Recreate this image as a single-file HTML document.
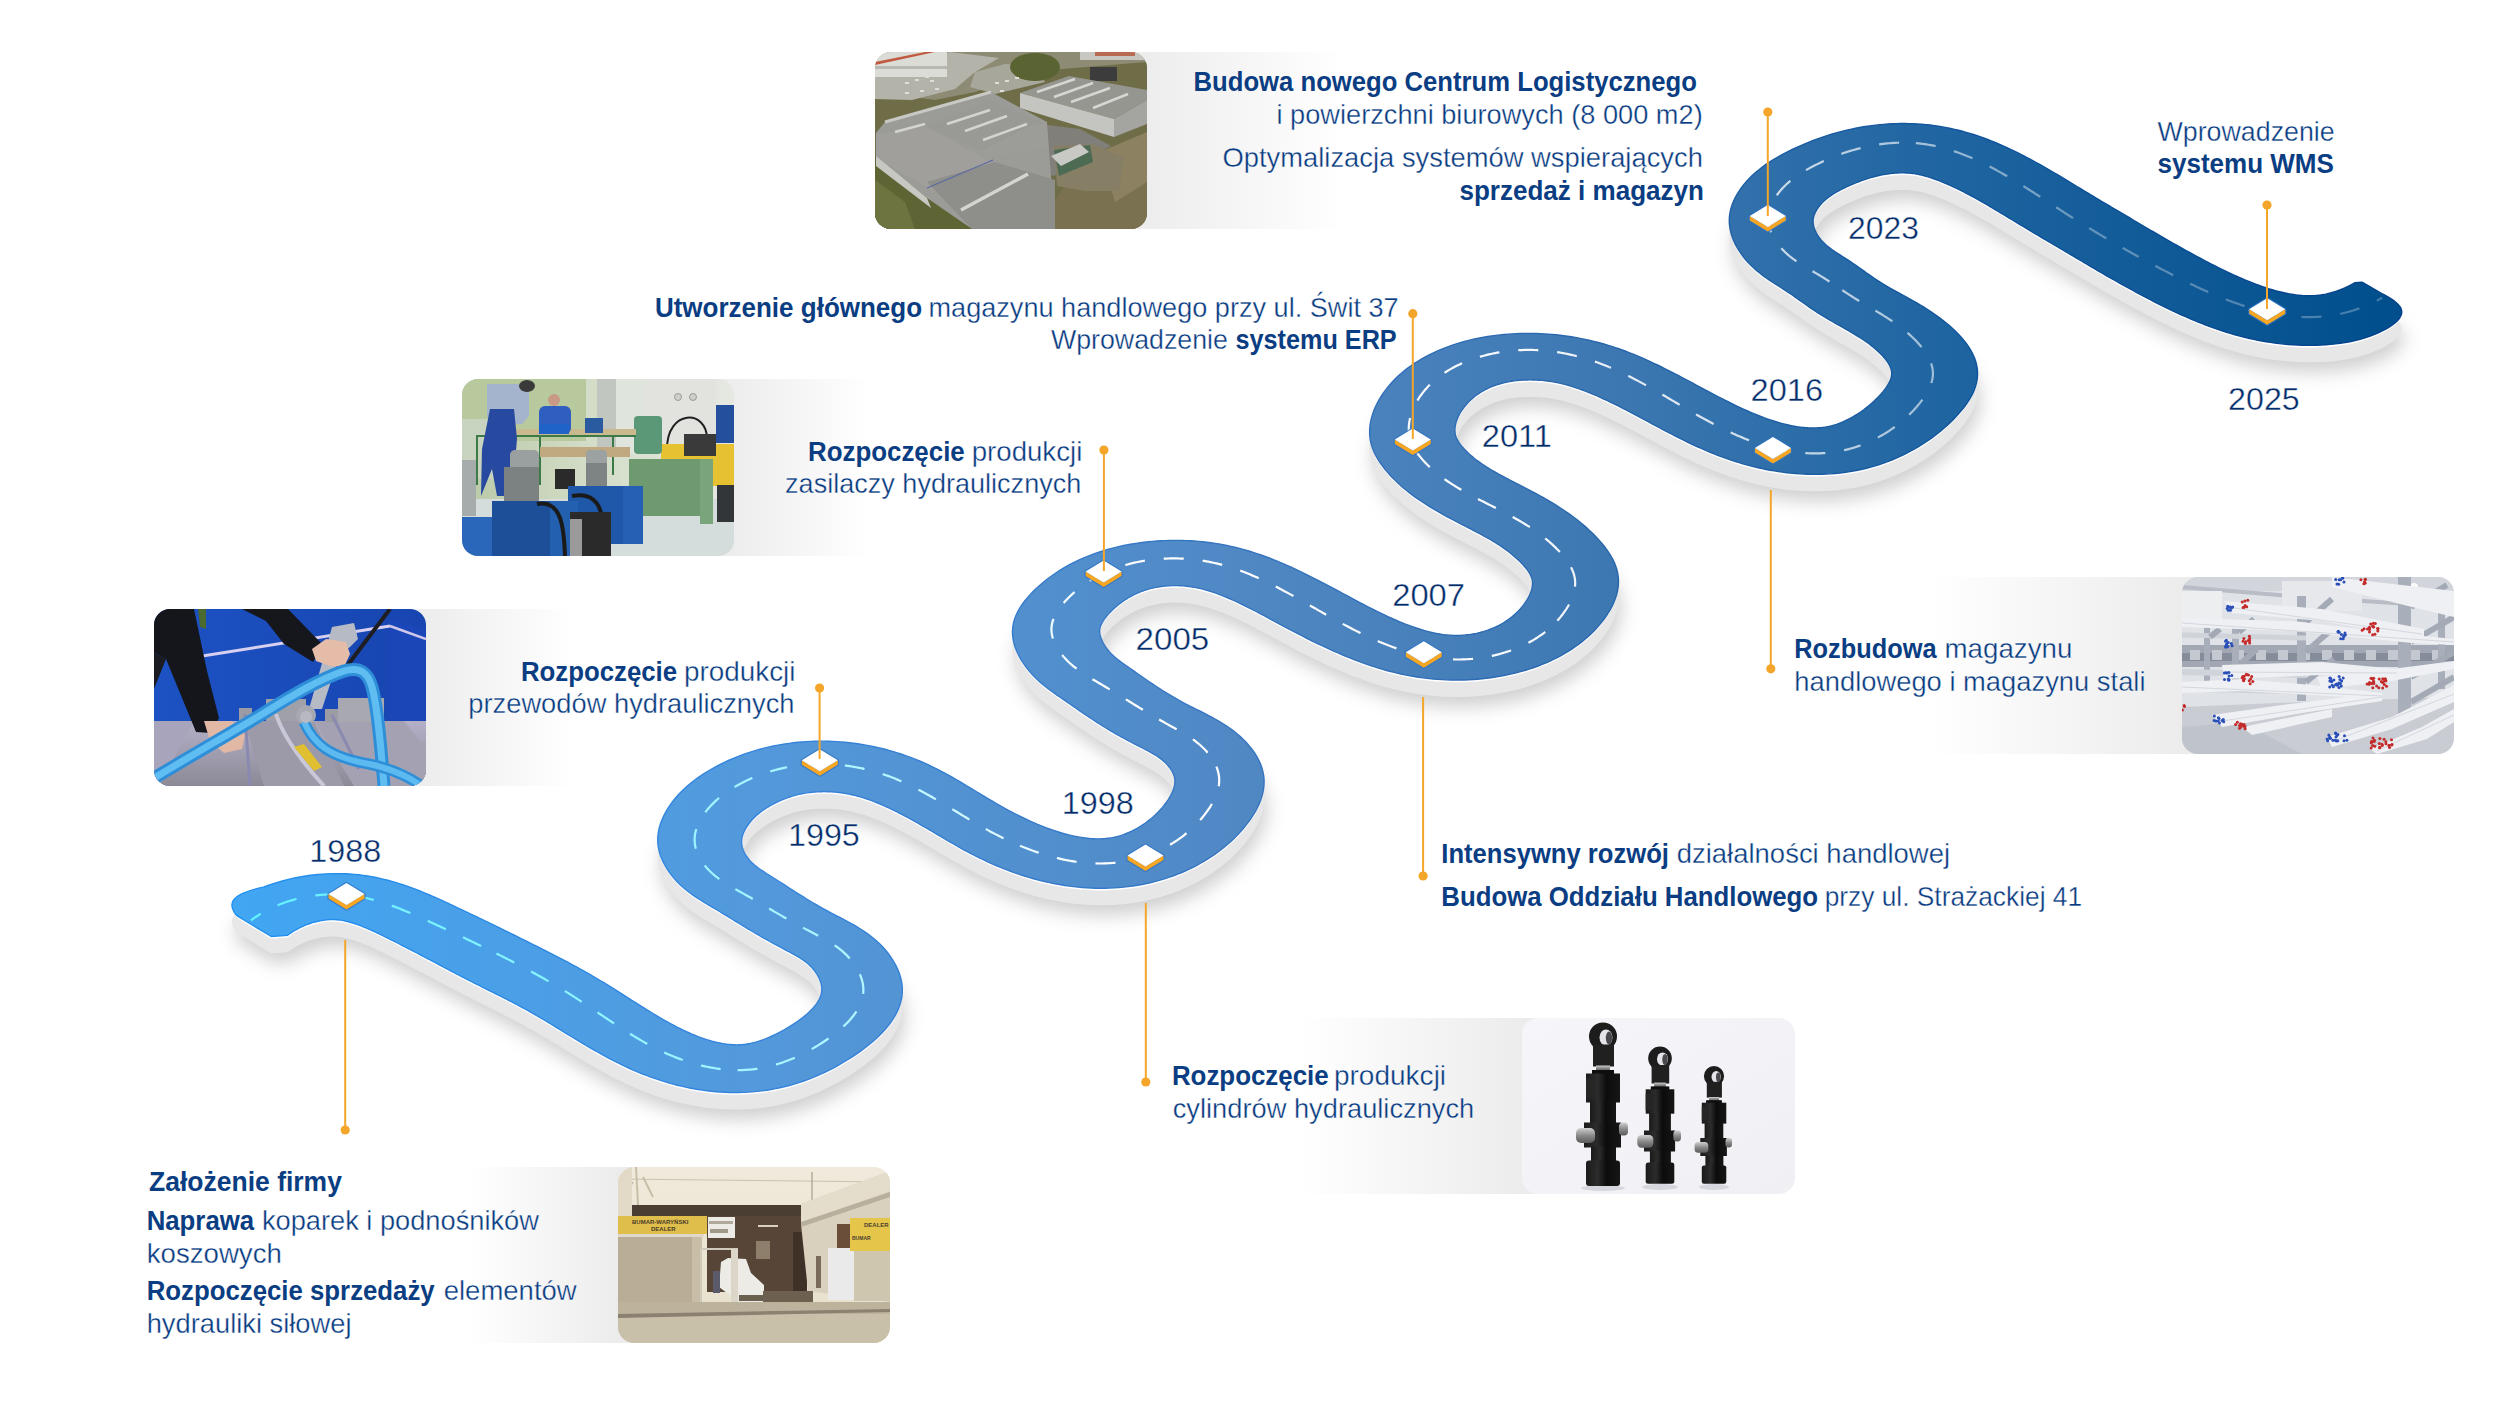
<!DOCTYPE html>
<html><head><meta charset="utf-8"><style>
html,body{margin:0;padding:0;background:#fff;}
body{width:2500px;height:1424px;overflow:hidden;position:relative;font-family:"Liberation Sans",sans-serif;}
svg{position:absolute;left:0;top:0;}
</style></head><body>
<svg width="2500" height="1424" viewBox="0 0 2500 1424" font-family="Liberation Sans, sans-serif">
<defs>
<linearGradient id="rg" gradientUnits="userSpaceOnUse" x1="230" y1="0" x2="2400" y2="0">
<stop offset="0" stop-color="#41a6f3"/>
<stop offset="0.24" stop-color="#5399db"/>
<stop offset="0.467" stop-color="#5088c4"/>
<stop offset="0.633" stop-color="#3e78b2"/>
<stop offset="0.8" stop-color="#1d64a0"/>
<stop offset="1" stop-color="#004e8c"/>
</linearGradient>
<linearGradient id="dg" gradientUnits="userSpaceOnUse" x1="230" y1="0" x2="2400" y2="0">
<stop offset="0" stop-color="#5ff2ff"/>
<stop offset="0.3" stop-color="#b5f6ff"/>
<stop offset="0.4" stop-color="#ffffff"/>
<stop offset="0.6" stop-color="#ffffff" stop-opacity="0.95"/>
<stop offset="0.75" stop-color="#ffffff" stop-opacity="0.68"/>
<stop offset="0.86" stop-color="#ffffff" stop-opacity="0.33"/>
<stop offset="1" stop-color="#ffffff" stop-opacity="0.25"/>
</linearGradient>
<linearGradient id="eg" gradientUnits="userSpaceOnUse" x1="230" y1="0" x2="2400" y2="0">
<stop offset="0" stop-color="#1f8ff0"/>
<stop offset="0.24" stop-color="#3584dc"/>
<stop offset="0.467" stop-color="#3574c0"/>
<stop offset="0.633" stop-color="#2866ac"/>
<stop offset="0.8" stop-color="#0f549c"/>
<stop offset="1" stop-color="#00408a"/>
</linearGradient>
<filter id="sh" x="-10%" y="-10%" width="120%" height="130%"><feGaussianBlur stdDeviation="9"/></filter>

<linearGradient id="cgA" gradientUnits="userSpaceOnUse" x1="1147" y1="0" x2="1345" y2="0"><stop offset="0" stop-color="#ededed"/><stop offset="1" stop-color="#ffffff"/></linearGradient>
<clipPath id="cpA"><rect x="875" y="52" width="272" height="177" rx="16" ry="16"/></clipPath>
<linearGradient id="cgB" gradientUnits="userSpaceOnUse" x1="734" y1="0" x2="870" y2="0"><stop offset="0" stop-color="#ededed"/><stop offset="1" stop-color="#ffffff"/></linearGradient>
<clipPath id="cpB"><rect x="462" y="379" width="272" height="177" rx="16" ry="16"/></clipPath>
<linearGradient id="cgC" gradientUnits="userSpaceOnUse" x1="426" y1="0" x2="575" y2="0"><stop offset="0" stop-color="#ededed"/><stop offset="1" stop-color="#ffffff"/></linearGradient>
<clipPath id="cpC"><rect x="154" y="609" width="272" height="177" rx="16" ry="16"/></clipPath>
<linearGradient id="cgD" gradientUnits="userSpaceOnUse" x1="470" y1="0" x2="618" y2="0"><stop offset="0" stop-color="#ffffff"/><stop offset="1" stop-color="#ececec"/></linearGradient>
<clipPath id="cpD"><rect x="618" y="1167" width="272" height="176" rx="16" ry="16"/></clipPath>
<linearGradient id="cgE" gradientUnits="userSpaceOnUse" x1="1300" y1="0" x2="1522" y2="0"><stop offset="0" stop-color="#ffffff"/><stop offset="1" stop-color="#ececec"/></linearGradient>
<clipPath id="cpE"><rect x="1522" y="1018" width="273" height="176" rx="16" ry="16"/></clipPath>
<linearGradient id="cgF" gradientUnits="userSpaceOnUse" x1="1930" y1="0" x2="2182" y2="0"><stop offset="0" stop-color="#ffffff"/><stop offset="1" stop-color="#ececec"/></linearGradient>
<clipPath id="cpF"><rect x="2182" y="577" width="272" height="177" rx="16" ry="16"/></clipPath>

<linearGradient id="pAsky" x1="0" y1="0" x2="0" y2="1"><stop offset="0" stop-color="#9c9a8e"/><stop offset="1" stop-color="#6e6c50"/></linearGradient>
<linearGradient id="pBbg" x1="0" y1="0" x2="1" y2="0"><stop offset="0" stop-color="#b9c9a6"/><stop offset="0.45" stop-color="#d2dcc6"/><stop offset="1" stop-color="#e6e8e2"/></linearGradient>
<linearGradient id="pChose" x1="0" y1="0" x2="0" y2="1"><stop offset="0" stop-color="#6cc4f4"/><stop offset="1" stop-color="#2a90d8"/></linearGradient>
<linearGradient id="pCbg" x1="0" y1="0" x2="1" y2="0"><stop offset="0" stop-color="#1d52c4"/><stop offset="1" stop-color="#1745b0"/></linearGradient>
<linearGradient id="pCfl" x1="0" y1="0" x2="0" y2="1"><stop offset="0" stop-color="#b4b0c8"/><stop offset="1" stop-color="#8c8a96"/></linearGradient>
<linearGradient id="pDsky" x1="0" y1="0" x2="0" y2="1"><stop offset="0" stop-color="#efeadb"/><stop offset="1" stop-color="#e6dfca"/></linearGradient>
<linearGradient id="pEbg" x1="0" y1="0" x2="1" y2="1"><stop offset="0" stop-color="#f6f6fa"/><stop offset="1" stop-color="#efeff4"/></linearGradient>
<linearGradient id="pEcyl" x1="0" y1="0" x2="1" y2="0"><stop offset="0" stop-color="#1a1a1a"/><stop offset="0.35" stop-color="#2c2c2c"/><stop offset="0.6" stop-color="#0c0c0c"/><stop offset="1" stop-color="#161616"/></linearGradient>
<linearGradient id="pEpin" x1="0" y1="0" x2="0" y2="1"><stop offset="0" stop-color="#d0d0d0"/><stop offset="0.5" stop-color="#8a8a8a"/><stop offset="1" stop-color="#5a5a5a"/></linearGradient>
<linearGradient id="pFbg" x1="0" y1="0" x2="0" y2="1"><stop offset="0" stop-color="#e2e4e8"/><stop offset="0.45" stop-color="#cdd1d8"/><stop offset="0.55" stop-color="#b4b9c3"/><stop offset="1" stop-color="#d0d3d9"/></linearGradient>

</defs>
<rect x="1011" y="52" width="334" height="177" fill="url(#cgA)"/>
<rect x="598" y="379" width="272" height="177" fill="url(#cgB)"/>
<rect x="290" y="609" width="285" height="177" fill="url(#cgC)"/>
<rect x="470" y="1167" width="284" height="176" fill="url(#cgD)"/>
<rect x="1300" y="1018" width="358" height="176" fill="url(#cgE)"/>
<rect x="1930" y="577" width="388" height="177" fill="url(#cgF)"/>
<g filter="url(#sh)" opacity="0.6"><path transform="translate(3,27.0)" d="M271.3,936.5 L237.6,916.2 C235,914.6 231.9,908.9 231.9,904.9 C231.9,894.9 249.8,890 263.32,887.17 L263.32,887.17 L267.18,885.73 L271.09,884.37 L275.07,883.09 L279.11,881.87 L283.20,880.74 L287.34,879.67 L291.54,878.69 L295.79,877.78 L300.08,876.96 L304.42,876.21 L308.81,875.55 L313.24,874.98 L317.70,874.50 L322.20,874.12 L326.73,873.84 L331.29,873.66 L335.86,873.59 L340.44,873.62 L345.02,873.76 L349.60,874.00 L354.17,874.36 L358.68,874.81 L363.11,875.36 L367.45,876.00 L371.71,876.72 L375.89,877.51 L379.97,878.38 L383.97,879.31 L387.89,880.30 L391.72,881.34 L395.47,882.43 L399.15,883.56 L402.76,884.73 L406.30,885.93 L409.78,887.16 L413.21,888.42 L416.58,889.70 L419.90,891.00 L423.16,892.32 L426.39,893.65 L429.57,895.00 L432.70,896.35 L435.80,897.72 L438.86,899.09 L441.89,900.46 L444.88,901.84 L447.84,903.21 L450.76,904.58 L453.66,905.95 L456.53,907.30 L459.37,908.65 L462.20,909.99 L465.03,911.34 L467.86,912.68 L470.70,914.03 L473.54,915.39 L476.38,916.74 L479.22,918.10 L482.06,919.46 L484.90,920.83 L487.75,922.20 L490.60,923.58 L493.44,924.96 L496.29,926.34 L499.14,927.73 L501.99,929.13 L504.84,930.53 L507.70,931.93 L510.56,933.34 L513.43,934.75 L516.30,936.17 L519.18,937.59 L522.06,939.01 L524.95,940.44 L527.83,941.88 L530.73,943.32 L533.62,944.77 L536.53,946.22 L539.43,947.68 L542.34,949.15 L545.25,950.62 L548.16,952.10 L551.08,953.59 L554.00,955.09 L556.93,956.60 L559.86,958.11 L562.78,959.64 L565.71,961.18 L568.63,962.73 L571.55,964.30 L574.46,965.88 L577.37,967.47 L580.28,969.08 L583.18,970.70 L586.08,972.33 L588.98,973.98 L591.87,975.65 L594.76,977.33 L597.64,979.03 L600.52,980.74 L603.39,982.47 L606.25,984.21 L609.08,985.95 L611.89,987.69 L614.68,989.44 L617.46,991.18 L620.21,992.92 L622.95,994.65 L625.67,996.38 L628.38,998.10 L631.07,999.82 L633.75,1001.52 L636.42,1003.21 L639.07,1004.89 L641.71,1006.55 L644.33,1008.19 L646.95,1009.81 L649.55,1011.42 L652.14,1013.00 L654.72,1014.56 L657.29,1016.09 L659.84,1017.60 L662.38,1019.08 L664.91,1020.53 L667.43,1021.94 L669.93,1023.33 L672.42,1024.67 L674.90,1025.99 L677.36,1027.26 L679.80,1028.49 L682.23,1029.69 L684.63,1030.84 L687.02,1031.94 L689.38,1033.01 L691.72,1034.02 L694.04,1034.99 L696.33,1035.91 L698.60,1036.78 L700.84,1037.61 L703.06,1038.39 L705.27,1039.13 L707.45,1039.82 L709.60,1040.46 L711.71,1041.06 L713.80,1041.62 L715.84,1042.12 L717.84,1042.58 L719.79,1042.99 L721.69,1043.36 L723.54,1043.68 L725.34,1043.95 L727.07,1044.19 L728.75,1044.38 L730.36,1044.53 L731.91,1044.65 L733.39,1044.74 L734.81,1044.80 L736.18,1044.83 L737.49,1044.83 L738.74,1044.81 L739.96,1044.77 L741.14,1044.70 L742.29,1044.62 L743.45,1044.51 L744.66,1044.37 L745.92,1044.20 L747.24,1044.00 L748.62,1043.76 L750.07,1043.48 L751.59,1043.15 L753.18,1042.78 L754.84,1042.35 L756.57,1041.87 L758.37,1041.33 L760.24,1040.73 L762.17,1040.07 L764.16,1039.34 L766.20,1038.54 L768.30,1037.68 L770.45,1036.75 L772.65,1035.75 L774.88,1034.68 L777.16,1033.55 L779.48,1032.35 L781.83,1031.08 L784.22,1029.74 L786.63,1028.34 L789.06,1026.88 L791.46,1025.38 L793.83,1023.86 L796.15,1022.30 L798.41,1020.72 L800.62,1019.12 L802.75,1017.49 L804.79,1015.85 L806.76,1014.20 L808.62,1012.53 L810.39,1010.85 L812.04,1009.16 L813.59,1007.48 L815.01,1005.79 L816.30,1004.10 L817.46,1002.41 L818.50,1000.72 L819.40,999.04 L820.16,997.37 L820.78,995.70 L821.27,994.02 L821.62,992.35 L821.82,990.68 L821.88,988.99 L821.79,987.28 L821.53,985.48 L821.11,983.60 L820.51,981.66 L819.75,979.68 L818.84,977.69 L817.79,975.70 L816.61,973.75 L815.31,971.84 L813.93,970.01 L812.49,968.27 L811.00,966.64 L809.51,965.15 L807.98,963.77 L806.38,962.44 L804.71,961.15 L802.94,959.90 L801.07,958.65 L799.08,957.40 L796.96,956.14 L794.71,954.85 L792.32,953.54 L789.79,952.18 L787.11,950.76 L784.30,949.28 L781.37,947.74 L778.45,946.18 L775.55,944.62 L772.68,943.06 L769.84,941.50 L767.02,939.93 L764.23,938.35 L761.46,936.78 L758.70,935.19 L755.97,933.61 L753.25,932.01 L750.55,930.41 L747.86,928.81 L745.20,927.20 L742.56,925.60 L739.95,924.00 L737.36,922.41 L734.78,920.83 L732.22,919.25 L729.67,917.68 L727.13,916.12 L724.60,914.57 L722.07,913.03 L719.54,911.50 L717.00,909.98 L714.42,908.45 L711.68,906.84 L708.80,905.15 L705.81,903.36 L702.70,901.47 L699.52,899.47 L696.27,897.35 L693.00,895.10 L689.71,892.71 L686.45,890.19 L683.24,887.52 L680.12,884.69 L677.11,881.72 L674.26,878.62 L671.61,875.42 L669.15,872.12 L666.88,868.73 L664.83,865.25 L662.99,861.69 L661.40,858.04 L660.06,854.31 L659.00,850.50 L658.24,846.62 L657.80,842.67 L657.72,838.67 L658.00,834.73 L658.59,830.85 L659.47,827.05 L660.62,823.32 L662.01,819.67 L663.62,816.10 L665.43,812.61 L667.41,809.21 L669.55,805.90 L671.84,802.67 L674.27,799.54 L676.82,796.51 L679.50,793.57 L682.30,790.73 L685.20,787.97 L688.20,785.31 L691.29,782.75 L694.46,780.27 L697.71,777.89 L701.02,775.60 L704.38,773.40 L707.78,771.28 L711.23,769.26 L714.69,767.31 L718.19,765.45 L721.74,763.65 L725.34,761.91 L728.99,760.24 L732.70,758.63 L736.45,757.08 L740.26,755.61 L744.11,754.19 L748.01,752.85 L751.96,751.58 L755.96,750.37 L759.99,749.24 L764.07,748.17 L768.18,747.18 L772.33,746.26 L776.51,745.41 L780.73,744.63 L784.97,743.94 L789.24,743.32 L793.52,742.78 L797.83,742.32 L802.15,741.93 L806.47,741.62 L810.81,741.39 L815.14,741.24 L819.47,741.17 L823.79,741.17 L828.11,741.24 L832.41,741.39 L836.69,741.62 L840.96,741.91 L845.20,742.28 L849.41,742.72 L853.60,743.22 L857.75,743.80 L861.87,744.44 L865.96,745.14 L870.01,745.90 L874.03,746.73 L878.00,747.61 L881.94,748.54 L885.84,749.54 L889.70,750.58 L893.51,751.68 L897.29,752.83 L901.02,754.04 L904.71,755.29 L908.36,756.59 L911.97,757.94 L915.52,759.34 L919.02,760.77 L922.44,762.24 L925.80,763.73 L929.10,765.25 L932.34,766.79 L935.53,768.36 L938.67,769.95 L941.76,771.55 L944.80,773.17 L947.81,774.80 L950.77,776.45 L953.70,778.11 L956.60,779.77 L959.46,781.44 L962.29,783.12 L965.10,784.80 L967.89,786.48 L970.66,788.15 L973.42,789.82 L976.16,791.48 L978.89,793.14 L981.60,794.78 L984.31,796.41 L987.01,798.03 L989.70,799.63 L992.38,801.22 L995.05,802.79 L997.71,804.33 L1000.37,805.86 L1003.03,807.35 L1005.68,808.83 L1008.32,810.27 L1010.95,811.68 L1013.58,813.06 L1016.20,814.41 L1018.81,815.72 L1021.41,817.00 L1024.00,818.25 L1026.58,819.47 L1029.17,820.66 L1031.75,821.82 L1034.32,822.95 L1036.88,824.04 L1039.44,825.10 L1041.98,826.13 L1044.51,827.11 L1047.02,828.07 L1049.52,828.98 L1052.00,829.86 L1054.45,830.69 L1056.89,831.49 L1059.30,832.25 L1061.68,832.96 L1064.03,833.63 L1066.34,834.27 L1068.63,834.85 L1070.87,835.40 L1073.08,835.91 L1075.25,836.37 L1077.37,836.79 L1079.45,837.16 L1081.48,837.50 L1083.47,837.80 L1085.40,838.05 L1087.28,838.27 L1089.11,838.45 L1090.89,838.60 L1092.62,838.71 L1094.30,838.79 L1095.93,838.85 L1097.51,838.87 L1099.06,838.87 L1100.56,838.84 L1102.04,838.78 L1103.49,838.70 L1104.92,838.60 L1106.33,838.47 L1107.74,838.31 L1109.14,838.12 L1110.55,837.91 L1111.98,837.67 L1113.43,837.39 L1114.90,837.07 L1116.40,836.72 L1117.94,836.32 L1119.52,835.88 L1121.14,835.38 L1122.81,834.82 L1124.53,834.20 L1126.30,833.52 L1128.11,832.77 L1129.96,831.95 L1131.84,831.07 L1133.74,830.12 L1135.66,829.10 L1137.60,828.01 L1139.55,826.86 L1141.50,825.64 L1143.45,824.35 L1145.40,823.00 L1147.33,821.58 L1149.25,820.09 L1151.16,818.54 L1153.04,816.92 L1154.90,815.23 L1156.72,813.48 L1158.51,811.67 L1160.27,809.79 L1161.98,807.85 L1163.65,805.85 L1165.27,803.79 L1166.82,801.67 L1168.27,799.54 L1169.61,797.39 L1170.81,795.25 L1171.88,793.13 L1172.80,791.03 L1173.56,788.98 L1174.16,786.97 L1174.59,785.03 L1174.85,783.17 L1174.94,781.40 L1174.87,779.72 L1174.64,778.11 L1174.25,776.46 L1173.70,774.79 L1172.99,773.11 L1172.13,771.42 L1171.13,769.74 L1169.99,768.08 L1168.72,766.45 L1167.36,764.86 L1165.90,763.33 L1164.37,761.86 L1162.79,760.46 L1161.18,759.15 L1159.53,757.91 L1157.79,756.71 L1155.96,755.51 L1154.02,754.32 L1151.97,753.12 L1149.79,751.89 L1147.48,750.64 L1145.02,749.35 L1142.43,748.00 L1139.68,746.60 L1136.80,745.12 L1133.78,743.57 L1130.67,741.95 L1127.60,740.32 L1124.57,738.70 L1121.59,737.08 L1118.66,735.45 L1115.79,733.81 L1112.96,732.18 L1110.18,730.54 L1107.45,728.90 L1104.76,727.25 L1102.11,725.61 L1099.50,723.97 L1096.92,722.32 L1094.38,720.68 L1091.87,719.03 L1089.38,717.38 L1086.93,715.74 L1084.49,714.09 L1082.08,712.45 L1079.69,710.80 L1077.32,709.15 L1074.95,707.51 L1072.60,705.86 L1070.25,704.21 L1067.89,702.57 L1065.45,700.90 L1062.85,699.13 L1060.10,697.27 L1057.24,695.30 L1054.27,693.22 L1051.22,691.02 L1048.11,688.69 L1044.98,686.23 L1041.84,683.64 L1038.74,680.91 L1035.69,678.03 L1032.73,675.02 L1029.88,671.85 L1027.17,668.58 L1024.64,665.20 L1022.30,661.73 L1020.15,658.16 L1018.21,654.50 L1016.51,650.75 L1015.06,646.92 L1013.90,643.00 L1013.06,639.00 L1012.57,634.93 L1012.48,630.78 L1012.83,626.60 L1013.61,622.53 L1014.77,618.59 L1016.26,614.79 L1018.05,611.13 L1020.07,607.61 L1022.30,604.23 L1024.70,600.98 L1027.23,597.87 L1029.87,594.89 L1032.58,592.05 L1035.35,589.33 L1038.16,586.71 L1041.04,584.17 L1043.99,581.70 L1047.01,579.30 L1050.10,576.97 L1053.25,574.71 L1056.48,572.52 L1059.76,570.40 L1063.11,568.35 L1066.53,566.37 L1070.00,564.46 L1073.53,562.63 L1077.12,560.87 L1080.77,559.18 L1084.47,557.57 L1088.21,556.03 L1092.01,554.56 L1095.85,553.17 L1099.74,551.85 L1103.67,550.61 L1107.63,549.45 L1111.63,548.36 L1115.66,547.35 L1119.72,546.41 L1123.79,545.54 L1127.89,544.73 L1132.00,544.00 L1136.13,543.34 L1140.28,542.74 L1144.43,542.21 L1148.60,541.76 L1152.77,541.36 L1156.95,541.04 L1161.13,540.78 L1165.32,540.59 L1169.50,540.47 L1173.68,540.41 L1177.86,540.42 L1182.03,540.49 L1186.19,540.62 L1190.35,540.82 L1194.49,541.07 L1198.62,541.40 L1202.73,541.79 L1206.83,542.24 L1210.90,542.77 L1214.96,543.36 L1218.98,544.01 L1222.98,544.73 L1226.94,545.51 L1230.86,546.35 L1234.72,547.25 L1238.53,548.19 L1242.28,549.18 L1245.98,550.22 L1249.63,551.29 L1253.23,552.41 L1256.79,553.57 L1260.30,554.76 L1263.76,555.98 L1267.18,557.24 L1270.56,558.52 L1273.90,559.83 L1277.21,561.17 L1280.48,562.53 L1283.71,563.91 L1286.92,565.31 L1290.09,566.73 L1293.23,568.17 L1296.35,569.62 L1299.43,571.09 L1302.50,572.57 L1305.54,574.05 L1308.55,575.55 L1311.55,577.06 L1314.52,578.57 L1317.48,580.08 L1320.41,581.61 L1323.33,583.13 L1326.23,584.65 L1329.10,586.18 L1331.97,587.70 L1334.81,589.22 L1337.64,590.73 L1340.45,592.24 L1343.25,593.75 L1346.04,595.24 L1348.81,596.72 L1351.57,598.20 L1354.32,599.66 L1357.06,601.11 L1359.79,602.55 L1362.50,603.97 L1365.21,605.38 L1367.90,606.76 L1370.58,608.13 L1373.25,609.48 L1375.90,610.81 L1378.55,612.12 L1381.18,613.40 L1383.80,614.65 L1386.40,615.87 L1388.99,617.07 L1391.57,618.24 L1394.12,619.37 L1396.67,620.48 L1399.19,621.55 L1401.69,622.58 L1404.17,623.58 L1406.63,624.54 L1409.07,625.47 L1411.48,626.35 L1413.87,627.20 L1416.22,628.00 L1418.55,628.76 L1420.85,629.48 L1423.11,630.16 L1425.34,630.80 L1427.54,631.39 L1429.70,631.94 L1431.82,632.45 L1433.89,632.91 L1435.93,633.34 L1437.93,633.72 L1439.88,634.05 L1441.80,634.35 L1443.67,634.61 L1445.50,634.83 L1447.29,635.02 L1449.05,635.17 L1450.77,635.29 L1452.46,635.38 L1454.13,635.44 L1455.79,635.47 L1457.42,635.47 L1459.06,635.44 L1460.69,635.38 L1462.36,635.29 L1464.05,635.17 L1465.76,635.01 L1467.49,634.82 L1469.25,634.60 L1471.02,634.34 L1472.82,634.04 L1474.63,633.71 L1476.46,633.34 L1478.31,632.92 L1480.16,632.47 L1482.03,631.97 L1483.91,631.43 L1485.79,630.83 L1487.68,630.20 L1489.57,629.51 L1491.46,628.77 L1493.35,627.98 L1495.24,627.14 L1497.12,626.25 L1498.99,625.30 L1500.86,624.30 L1502.71,623.24 L1504.55,622.12 L1506.37,620.94 L1508.17,619.70 L1509.95,618.40 L1511.71,617.03 L1513.43,615.60 L1515.13,614.10 L1516.79,612.54 L1518.42,610.91 L1520.00,609.20 L1521.55,607.43 L1523.04,605.58 L1524.48,603.66 L1525.86,601.67 L1527.15,599.65 L1528.32,597.61 L1529.38,595.56 L1530.30,593.52 L1531.07,591.50 L1531.69,589.52 L1532.16,587.60 L1532.45,585.73 L1532.59,583.95 L1532.57,582.26 L1532.39,580.68 L1532.06,579.15 L1531.56,577.56 L1530.89,575.91 L1530.03,574.20 L1529.01,572.45 L1527.81,570.65 L1526.45,568.82 L1524.94,566.97 L1523.30,565.10 L1521.54,563.23 L1519.68,561.36 L1517.73,559.49 L1515.72,557.66 L1513.69,555.89 L1511.65,554.18 L1509.60,552.53 L1507.53,550.93 L1505.45,549.38 L1503.34,547.87 L1501.21,546.40 L1499.06,544.96 L1496.88,543.56 L1494.67,542.18 L1492.43,540.82 L1490.16,539.48 L1487.85,538.15 L1485.50,536.84 L1483.10,535.53 L1480.68,534.23 L1478.21,532.92 L1475.70,531.60 L1473.16,530.27 L1470.57,528.94 L1467.93,527.58 L1465.26,526.21 L1462.54,524.81 L1459.78,523.39 L1456.98,521.94 L1454.14,520.45 L1451.25,518.94 L1448.33,517.38 L1445.38,515.78 L1442.40,514.14 L1439.40,512.45 L1436.38,510.72 L1433.35,508.93 L1430.31,507.09 L1427.27,505.20 L1424.23,503.25 L1421.19,501.25 L1418.17,499.18 L1415.16,497.06 L1412.17,494.87 L1409.22,492.62 L1406.30,490.30 L1403.42,487.92 L1400.60,485.46 L1397.82,482.94 L1395.11,480.34 L1392.47,477.68 L1389.90,474.93 L1387.40,472.12 L1384.98,469.22 L1382.61,466.19 L1380.32,463.01 L1378.14,459.68 L1376.12,456.21 L1374.30,452.60 L1372.72,448.84 L1371.42,444.95 L1370.48,441.00 L1369.90,437.08 L1369.64,433.20 L1369.69,429.35 L1370.01,425.55 L1370.60,421.79 L1371.44,418.08 L1372.50,414.42 L1373.77,410.82 L1375.24,407.27 L1376.89,403.79 L1378.72,400.37 L1380.71,397.03 L1382.85,393.76 L1385.14,390.56 L1387.55,387.44 L1390.10,384.41 L1392.76,381.47 L1395.54,378.62 L1398.43,375.85 L1401.43,373.19 L1404.52,370.61 L1407.71,368.12 L1411.00,365.73 L1414.36,363.43 L1417.81,361.22 L1421.34,359.10 L1424.94,357.07 L1428.60,355.14 L1432.32,353.29 L1436.10,351.54 L1439.92,349.87 L1443.79,348.30 L1447.69,346.81 L1451.63,345.41 L1455.60,344.10 L1459.59,342.87 L1463.59,341.72 L1467.61,340.66 L1471.64,339.68 L1475.67,338.77 L1479.70,337.95 L1483.74,337.20 L1487.80,336.52 L1491.86,335.92 L1495.91,335.37 L1499.97,334.90 L1504.03,334.49 L1508.08,334.15 L1512.13,333.87 L1516.17,333.65 L1520.20,333.50 L1524.22,333.41 L1528.23,333.38 L1532.23,333.41 L1536.22,333.50 L1540.19,333.65 L1544.15,333.86 L1548.09,334.12 L1552.01,334.43 L1555.91,334.80 L1559.80,335.22 L1563.67,335.69 L1567.52,336.21 L1571.35,336.79 L1575.16,337.42 L1578.94,338.10 L1582.69,338.83 L1586.42,339.62 L1590.13,340.46 L1593.80,341.34 L1597.45,342.27 L1601.08,343.24 L1604.67,344.26 L1608.24,345.33 L1611.78,346.43 L1615.30,347.58 L1618.78,348.77 L1622.24,350.00 L1625.65,351.26 L1629.03,352.55 L1632.37,353.86 L1635.68,355.21 L1638.95,356.58 L1642.19,357.98 L1645.40,359.39 L1648.59,360.83 L1651.74,362.28 L1654.87,363.76 L1657.97,365.25 L1661.06,366.75 L1664.11,368.26 L1667.15,369.79 L1670.17,371.32 L1673.16,372.86 L1676.14,374.41 L1679.11,375.96 L1682.06,377.52 L1684.99,379.07 L1687.92,380.63 L1690.82,382.18 L1693.72,383.73 L1696.60,385.27 L1699.47,386.81 L1702.33,388.34 L1705.18,389.86 L1708.02,391.37 L1710.84,392.87 L1713.66,394.35 L1716.46,395.82 L1719.26,397.27 L1722.04,398.70 L1724.81,400.11 L1727.57,401.50 L1730.32,402.87 L1733.06,404.21 L1735.78,405.53 L1738.48,406.82 L1741.17,408.08 L1743.85,409.31 L1746.50,410.51 L1749.14,411.68 L1751.76,412.81 L1754.36,413.90 L1756.94,414.96 L1759.50,415.98 L1762.04,416.96 L1764.55,417.90 L1767.03,418.80 L1769.50,419.66 L1771.95,420.47 L1774.37,421.25 L1776.76,421.98 L1779.11,422.67 L1781.44,423.32 L1783.73,423.92 L1785.97,424.48 L1788.18,424.99 L1790.34,425.46 L1792.45,425.88 L1794.51,426.26 L1796.51,426.59 L1798.46,426.88 L1800.35,427.12 L1802.17,427.34 L1803.93,427.52 L1805.63,427.66 L1807.26,427.78 L1808.84,427.87 L1810.35,427.93 L1811.81,427.96 L1813.22,427.97 L1814.59,427.96 L1815.92,427.93 L1817.22,427.88 L1818.50,427.81 L1819.77,427.72 L1821.03,427.61 L1822.30,427.48 L1823.59,427.32 L1824.90,427.13 L1826.24,426.92 L1827.63,426.67 L1829.07,426.38 L1830.55,426.04 L1832.11,425.64 L1833.74,425.18 L1835.46,424.65 L1837.24,424.05 L1839.08,423.38 L1840.98,422.63 L1842.93,421.82 L1844.92,420.93 L1846.95,419.97 L1849.00,418.94 L1851.08,417.83 L1853.17,416.66 L1855.28,415.41 L1857.39,414.10 L1859.50,412.72 L1861.61,411.27 L1863.71,409.76 L1865.79,408.18 L1867.86,406.54 L1869.91,404.83 L1871.93,403.07 L1873.93,401.24 L1875.89,399.36 L1877.81,397.41 L1879.69,395.41 L1881.51,393.38 L1883.23,391.36 L1884.83,389.34 L1886.29,387.35 L1887.59,385.38 L1888.73,383.46 L1889.69,381.58 L1890.47,379.77 L1891.07,378.02 L1891.49,376.36 L1891.72,374.78 L1891.78,373.28 L1891.67,371.83 L1891.39,370.29 L1890.92,368.67 L1890.27,366.98 L1889.44,365.24 L1888.43,363.44 L1887.24,361.62 L1885.89,359.77 L1884.40,357.92 L1882.77,356.07 L1881.02,354.23 L1879.19,352.42 L1877.29,350.64 L1875.35,348.93 L1873.37,347.26 L1871.34,345.64 L1869.27,344.06 L1867.16,342.51 L1865.00,340.99 L1862.78,339.49 L1860.52,338.01 L1858.21,336.54 L1855.84,335.08 L1853.42,333.62 L1850.94,332.16 L1848.41,330.70 L1845.82,329.23 L1843.19,327.74 L1840.51,326.23 L1837.80,324.69 L1835.04,323.12 L1832.24,321.51 L1829.42,319.87 L1826.56,318.18 L1823.68,316.45 L1820.77,314.66 L1817.86,312.82 L1815.01,310.96 L1812.25,309.13 L1809.59,307.31 L1807.01,305.53 L1804.51,303.77 L1802.08,302.05 L1799.72,300.37 L1797.41,298.72 L1795.15,297.11 L1792.94,295.55 L1790.77,294.04 L1788.62,292.57 L1786.44,291.13 L1784.09,289.61 L1781.54,287.99 L1778.82,286.28 L1775.93,284.45 L1772.92,282.50 L1769.78,280.42 L1766.57,278.21 L1763.30,275.84 L1760.01,273.32 L1756.74,270.65 L1753.52,267.80 L1750.40,264.80 L1747.44,261.67 L1744.66,258.45 L1742.07,255.14 L1739.68,251.73 L1737.49,248.23 L1735.52,244.64 L1733.78,240.97 L1732.29,237.22 L1731.07,233.39 L1730.15,229.48 L1729.54,225.51 L1729.27,221.48 L1729.38,217.39 L1729.86,213.35 L1730.70,209.40 L1731.85,205.54 L1733.28,201.78 L1734.98,198.11 L1736.92,194.55 L1739.07,191.09 L1741.41,187.73 L1743.93,184.47 L1746.62,181.33 L1749.45,178.30 L1752.42,175.38 L1755.51,172.59 L1758.70,169.92 L1761.97,167.37 L1765.31,164.94 L1768.71,162.63 L1772.14,160.42 L1775.60,158.32 L1779.06,156.33 L1782.52,154.43 L1785.96,152.63 L1789.36,150.91 L1792.77,149.25 L1796.21,147.63 L1799.68,146.06 L1803.18,144.53 L1806.71,143.04 L1810.27,141.60 L1813.87,140.21 L1817.49,138.86 L1821.15,137.57 L1824.84,136.32 L1828.57,135.12 L1832.32,133.98 L1836.11,132.88 L1839.93,131.84 L1843.78,130.86 L1847.66,129.93 L1851.58,129.06 L1855.52,128.25 L1859.50,127.50 L1863.50,126.81 L1867.54,126.19 L1871.59,125.63 L1875.68,125.13 L1879.78,124.70 L1883.91,124.33 L1888.06,124.03 L1892.22,123.80 L1896.40,123.64 L1900.60,123.55 L1904.81,123.54 L1909.03,123.60 L1913.25,123.73 L1917.47,123.95 L1921.70,124.24 L1925.92,124.62 L1930.13,125.07 L1934.33,125.60 L1938.50,126.21 L1942.61,126.89 L1946.67,127.64 L1950.67,128.45 L1954.62,129.33 L1958.50,130.26 L1962.34,131.25 L1966.11,132.30 L1969.84,133.39 L1973.51,134.54 L1977.14,135.72 L1980.71,136.95 L1984.25,138.23 L1987.74,139.53 L1991.19,140.88 L1994.60,142.26 L1997.98,143.67 L2001.32,145.11 L2004.63,146.58 L2007.90,148.08 L2011.15,149.60 L2014.37,151.14 L2017.56,152.71 L2020.72,154.30 L2023.86,155.91 L2026.98,157.53 L2030.07,159.18 L2033.14,160.83 L2036.19,162.51 L2039.22,164.19 L2042.23,165.88 L2045.22,167.58 L2048.19,169.29 L2051.14,171.01 L2054.08,172.73 L2056.99,174.45 L2059.89,176.18 L2062.78,177.91 L2065.65,179.63 L2068.50,181.35 L2071.33,183.07 L2074.15,184.78 L2076.95,186.49 L2079.74,188.18 L2082.51,189.87 L2085.26,191.54 L2088.00,193.20 L2090.71,194.84 L2093.42,196.47 L2096.10,198.08 L2098.78,199.67 L2101.45,201.26 L2104.12,202.83 L2106.78,204.40 L2109.42,205.96 L2112.06,207.51 L2114.68,209.05 L2117.30,210.59 L2119.90,212.13 L2122.50,213.66 L2125.08,215.18 L2127.66,216.70 L2130.24,218.22 L2132.80,219.73 L2135.36,221.24 L2137.91,222.75 L2140.46,224.25 L2143.00,225.75 L2145.54,227.24 L2148.07,228.74 L2150.61,230.23 L2153.13,231.72 L2155.66,233.21 L2158.19,234.69 L2160.73,236.17 L2163.27,237.65 L2165.82,239.12 L2168.38,240.58 L2170.95,242.05 L2173.52,243.51 L2176.10,244.96 L2178.69,246.42 L2181.29,247.87 L2183.90,249.32 L2186.52,250.76 L2189.15,252.21 L2191.79,253.65 L2194.44,255.09 L2197.09,256.52 L2199.74,257.94 L2202.38,259.35 L2205.03,260.75 L2207.67,262.14 L2210.31,263.51 L2212.96,264.87 L2215.59,266.21 L2218.23,267.53 L2220.86,268.84 L2223.49,270.13 L2226.11,271.40 L2228.72,272.64 L2231.33,273.87 L2233.93,275.06 L2236.53,276.24 L2239.11,277.39 L2241.69,278.51 L2244.25,279.61 L2246.80,280.67 L2249.34,281.71 L2251.87,282.71 L2254.37,283.68 L2256.87,284.62 L2259.34,285.53 L2261.80,286.40 L2264.23,287.24 L2266.65,288.04 L2269.04,288.80 L2271.40,289.52 L2273.74,290.21 L2276.06,290.85 L2278.35,291.46 L2280.60,292.02 L2282.83,292.55 L2285.02,293.03 L2287.18,293.47 L2289.31,293.88 L2291.39,294.24 L2293.45,294.56 L2295.46,294.84 L2297.44,295.09 L2299.38,295.29 L2301.29,295.46 L2303.16,295.59 L2305.00,295.68 L2306.81,295.74 L2308.59,295.76 L2310.35,295.75 L2312.09,295.70 L2313.81,295.62 L2315.52,295.51 L2317.22,295.36 L2318.92,295.18 L2320.63,294.97 L2322.35,294.71 L2324.08,294.41 L2325.83,294.08 L2327.61,293.69 L2329.41,293.26 L2331.25,292.78 L2333.13,292.24 L2335.04,291.65 L2337.00,291.00 L2338.99,290.28 L2341.03,289.49 L2343.12,288.64 L2345.24,287.71 L2347.41,286.70 L2349.62,285.61 L2351.87,284.44 L2354.15,283.19 L2354.92,282.75 L2362.2,282.3 L2381.8,293.5 C2388.7,297.5 2401.8,303.8 2401.8,311.8 C2401.8,323.8 2375,336.9 2349.82,341.85 L2349.82,341.85 L2345.04,342.63 L2340.24,343.31 L2335.43,343.90 L2330.61,344.38 L2325.80,344.76 L2320.99,345.04 L2316.20,345.23 L2311.43,345.33 L2306.70,345.33 L2302.00,345.24 L2297.34,345.07 L2292.73,344.82 L2288.16,344.48 L2283.65,344.08 L2279.20,343.59 L2274.80,343.04 L2270.45,342.43 L2266.17,341.75 L2261.95,341.01 L2257.78,340.22 L2253.68,339.37 L2249.63,338.48 L2245.63,337.54 L2241.70,336.55 L2237.81,335.52 L2233.98,334.46 L2230.20,333.35 L2226.47,332.21 L2222.79,331.04 L2219.15,329.83 L2215.56,328.60 L2212.01,327.34 L2208.49,326.05 L2205.02,324.74 L2201.58,323.41 L2198.18,322.05 L2194.81,320.68 L2191.48,319.29 L2188.18,317.87 L2184.91,316.45 L2181.67,315.00 L2178.46,313.55 L2175.28,312.08 L2172.12,310.59 L2169.00,309.10 L2165.90,307.60 L2162.82,306.08 L2159.77,304.57 L2156.75,303.04 L2153.75,301.51 L2150.78,299.97 L2147.83,298.44 L2144.90,296.90 L2141.99,295.35 L2139.11,293.81 L2136.26,292.27 L2133.42,290.74 L2130.61,289.20 L2127.81,287.67 L2125.02,286.13 L2122.24,284.59 L2119.48,283.04 L2116.71,281.50 L2113.96,279.95 L2111.22,278.39 L2108.48,276.83 L2105.75,275.27 L2103.03,273.70 L2100.32,272.13 L2097.61,270.55 L2094.91,268.97 L2092.21,267.39 L2089.52,265.79 L2086.82,264.20 L2084.12,262.61 L2081.42,261.01 L2078.71,259.41 L2076.00,257.81 L2073.28,256.20 L2070.56,254.60 L2067.83,252.98 L2065.10,251.37 L2062.36,249.75 L2059.61,248.13 L2056.85,246.50 L2054.09,244.87 L2051.32,243.23 L2048.54,241.59 L2045.75,239.95 L2042.95,238.29 L2040.14,236.63 L2037.32,234.97 L2034.49,233.30 L2031.66,231.61 L2028.82,229.92 L2025.99,228.22 L2023.17,226.52 L2020.35,224.82 L2017.55,223.12 L2014.76,221.43 L2011.97,219.74 L2009.20,218.05 L2006.43,216.38 L2003.68,214.71 L2000.93,213.06 L1998.19,211.42 L1995.46,209.79 L1992.75,208.18 L1990.04,206.59 L1987.34,205.01 L1984.66,203.46 L1981.99,201.93 L1979.33,200.42 L1976.68,198.94 L1974.05,197.48 L1971.44,196.06 L1968.84,194.66 L1966.26,193.30 L1963.70,191.97 L1961.16,190.68 L1958.64,189.42 L1956.15,188.20 L1953.68,187.03 L1951.24,185.89 L1948.83,184.80 L1946.45,183.76 L1944.11,182.76 L1941.81,181.80 L1939.54,180.90 L1937.32,180.05 L1935.14,179.25 L1933.02,178.50 L1930.95,177.80 L1928.93,177.16 L1926.98,176.57 L1925.09,176.03 L1923.27,175.55 L1921.52,175.12 L1919.85,174.74 L1918.25,174.41 L1916.74,174.13 L1915.31,173.89 L1913.96,173.68 L1912.70,173.52 L1911.52,173.38 L1910.36,173.26 L1909.21,173.16 L1908.07,173.07 L1906.91,173.00 L1905.75,172.95 L1904.57,172.91 L1903.37,172.88 L1902.14,172.87 L1900.87,172.88 L1899.56,172.91 L1898.21,172.95 L1896.81,173.02 L1895.37,173.10 L1893.87,173.22 L1892.31,173.35 L1890.70,173.52 L1889.04,173.72 L1887.32,173.96 L1885.55,174.23 L1883.73,174.55 L1881.86,174.90 L1879.95,175.30 L1877.99,175.74 L1875.99,176.23 L1873.94,176.75 L1871.86,177.33 L1869.74,177.95 L1867.58,178.61 L1865.39,179.33 L1863.18,180.08 L1860.93,180.89 L1858.66,181.74 L1856.37,182.63 L1854.05,183.58 L1851.72,184.56 L1849.37,185.60 L1847.01,186.67 L1844.71,187.76 L1842.50,188.84 L1840.38,189.92 L1838.33,191.01 L1836.36,192.12 L1834.46,193.24 L1832.63,194.38 L1830.85,195.57 L1829.13,196.79 L1827.46,198.07 L1825.83,199.41 L1824.25,200.82 L1822.71,202.32 L1821.24,203.89 L1819.85,205.51 L1818.56,207.18 L1817.38,208.87 L1816.33,210.57 L1815.42,212.27 L1814.65,213.95 L1814.03,215.61 L1813.56,217.23 L1813.25,218.80 L1813.09,220.40 L1813.08,222.07 L1813.23,223.82 L1813.55,225.62 L1814.03,227.45 L1814.66,229.30 L1815.44,231.16 L1816.36,233.00 L1817.39,234.81 L1818.54,236.57 L1819.77,238.27 L1821.07,239.88 L1822.41,241.40 L1823.81,242.85 L1825.31,244.27 L1826.93,245.68 L1828.67,247.09 L1830.56,248.51 L1832.58,249.97 L1834.76,251.46 L1837.09,253.01 L1839.57,254.61 L1842.18,256.29 L1844.93,258.05 L1847.79,259.90 L1850.71,261.83 L1853.54,263.75 L1856.27,265.66 L1858.93,267.53 L1861.52,269.38 L1864.06,271.19 L1866.55,272.96 L1869.00,274.69 L1871.42,276.38 L1873.80,278.02 L1876.17,279.61 L1878.51,281.14 L1880.84,282.62 L1883.23,284.09 L1885.70,285.56 L1888.26,287.05 L1890.89,288.55 L1893.60,290.07 L1896.39,291.61 L1899.25,293.17 L1902.17,294.77 L1905.16,296.40 L1908.21,298.06 L1911.30,299.78 L1914.43,301.55 L1917.59,303.37 L1920.77,305.26 L1923.97,307.21 L1927.18,309.23 L1930.39,311.32 L1933.60,313.49 L1936.80,315.73 L1939.97,318.07 L1943.12,320.48 L1946.23,322.99 L1949.30,325.58 L1952.31,328.27 L1955.27,331.05 L1958.17,333.96 L1961.00,336.99 L1963.70,340.15 L1966.26,343.43 L1968.65,346.85 L1970.83,350.40 L1972.78,354.07 L1974.46,357.88 L1975.82,361.82 L1976.83,365.88 L1977.43,370.06 L1977.58,374.32 L1977.28,378.51 L1976.57,382.58 L1975.49,386.54 L1974.10,390.39 L1972.43,394.10 L1970.52,397.70 L1968.41,401.18 L1966.12,404.53 L1963.68,407.77 L1961.14,410.89 L1958.52,413.90 L1955.85,416.80 L1953.11,419.64 L1950.29,422.41 L1947.39,425.13 L1944.42,427.79 L1941.38,430.39 L1938.26,432.93 L1935.08,435.41 L1931.83,437.82 L1928.51,440.17 L1925.12,442.46 L1921.67,444.68 L1918.16,446.84 L1914.58,448.93 L1910.93,450.95 L1907.22,452.90 L1903.45,454.78 L1899.61,456.59 L1895.71,458.32 L1891.74,459.98 L1887.71,461.57 L1883.60,463.07 L1879.43,464.49 L1875.19,465.82 L1870.88,467.07 L1866.50,468.22 L1862.08,469.27 L1857.62,470.21 L1853.14,471.06 L1848.64,471.81 L1844.12,472.46 L1839.60,473.02 L1835.08,473.47 L1830.55,473.84 L1826.04,474.10 L1821.54,474.28 L1817.07,474.36 L1812.62,474.36 L1808.20,474.27 L1803.81,474.10 L1799.45,473.86 L1795.14,473.54 L1790.86,473.14 L1786.63,472.68 L1782.44,472.16 L1778.29,471.57 L1774.18,470.93 L1770.11,470.23 L1766.08,469.47 L1762.11,468.65 L1758.17,467.78 L1754.28,466.85 L1750.43,465.88 L1746.63,464.86 L1742.86,463.80 L1739.14,462.69 L1735.46,461.54 L1731.81,460.36 L1728.20,459.13 L1724.63,457.87 L1721.10,456.58 L1717.60,455.26 L1714.14,453.90 L1710.71,452.51 L1707.32,451.11 L1703.98,449.68 L1700.67,448.22 L1697.39,446.75 L1694.15,445.27 L1690.94,443.76 L1687.77,442.25 L1684.62,440.72 L1681.50,439.18 L1678.40,437.62 L1675.33,436.07 L1672.29,434.50 L1669.27,432.93 L1666.27,431.36 L1663.29,429.78 L1660.33,428.21 L1657.39,426.64 L1654.46,425.07 L1651.55,423.51 L1648.65,421.96 L1645.77,420.41 L1642.91,418.87 L1640.06,417.35 L1637.22,415.84 L1634.40,414.34 L1631.59,412.86 L1628.80,411.39 L1626.02,409.94 L1623.25,408.52 L1620.50,407.12 L1617.77,405.74 L1615.04,404.38 L1612.34,403.06 L1609.65,401.76 L1606.98,400.49 L1604.33,399.25 L1601.71,398.04 L1599.10,396.87 L1596.52,395.73 L1593.97,394.63 L1591.43,393.57 L1588.93,392.54 L1586.46,391.56 L1584.01,390.61 L1581.60,389.72 L1579.23,388.86 L1576.89,388.05 L1574.59,387.29 L1572.33,386.57 L1570.09,385.89 L1567.88,385.25 L1565.69,384.65 L1563.53,384.09 L1561.40,383.57 L1559.30,383.09 L1557.23,382.65 L1555.20,382.24 L1553.20,381.87 L1551.24,381.54 L1549.32,381.25 L1547.44,380.99 L1545.60,380.77 L1543.79,380.58 L1542.03,380.42 L1540.32,380.29 L1538.64,380.18 L1537.00,380.09 L1535.41,380.02 L1533.84,379.96 L1532.31,379.93 L1530.80,379.91 L1529.32,379.91 L1527.85,379.93 L1526.40,379.96 L1524.95,380.01 L1523.51,380.07 L1522.07,380.16 L1520.61,380.25 L1519.15,380.37 L1517.66,380.50 L1516.15,380.66 L1514.60,380.84 L1513.03,381.04 L1511.41,381.28 L1509.76,381.55 L1508.06,381.86 L1506.35,382.21 L1504.63,382.59 L1502.90,383.02 L1501.16,383.48 L1499.41,383.98 L1497.66,384.53 L1495.90,385.12 L1494.14,385.75 L1492.38,386.43 L1490.62,387.16 L1488.86,387.94 L1487.10,388.77 L1485.34,389.66 L1483.59,390.60 L1481.84,391.61 L1480.11,392.68 L1478.38,393.82 L1476.66,395.03 L1474.97,396.31 L1473.29,397.67 L1471.63,399.10 L1470.00,400.62 L1468.40,402.22 L1466.83,403.92 L1465.30,405.70 L1463.83,407.56 L1462.42,409.49 L1461.10,411.48 L1459.88,413.51 L1458.78,415.56 L1457.80,417.64 L1456.95,419.72 L1456.25,421.79 L1455.68,423.84 L1455.27,425.86 L1455.01,427.82 L1454.90,429.73 L1454.93,431.56 L1455.11,433.31 L1455.43,434.96 L1455.87,436.51 L1456.48,438.07 L1457.28,439.70 L1458.25,441.37 L1459.39,443.09 L1460.69,444.85 L1462.15,446.64 L1463.75,448.44 L1465.44,450.24 L1467.16,451.97 L1468.93,453.66 L1470.73,455.29 L1472.58,456.88 L1474.46,458.43 L1476.39,459.94 L1478.36,461.42 L1480.37,462.87 L1482.42,464.29 L1484.53,465.69 L1486.68,467.07 L1488.87,468.44 L1491.12,469.79 L1493.41,471.14 L1495.76,472.48 L1498.15,473.81 L1500.59,475.15 L1503.07,476.48 L1505.60,477.83 L1508.18,479.18 L1510.80,480.54 L1513.47,481.91 L1516.17,483.30 L1518.92,484.71 L1521.71,486.14 L1524.53,487.59 L1527.37,489.06 L1530.25,490.56 L1533.16,492.10 L1536.09,493.66 L1539.04,495.26 L1542.01,496.91 L1545.00,498.59 L1548.01,500.32 L1551.02,502.10 L1554.05,503.92 L1557.07,505.80 L1560.10,507.73 L1563.13,509.72 L1566.15,511.76 L1569.15,513.86 L1572.14,516.03 L1575.11,518.26 L1578.06,520.56 L1580.97,522.92 L1583.85,525.35 L1586.69,527.85 L1589.50,530.42 L1592.26,533.06 L1594.99,535.79 L1597.70,538.64 L1600.39,541.62 L1603.01,544.72 L1605.54,547.95 L1607.95,551.31 L1610.20,554.79 L1612.27,558.41 L1614.11,562.16 L1615.68,566.03 L1616.95,570.04 L1617.86,574.16 L1618.38,578.38 L1618.48,582.53 L1618.19,586.60 L1617.57,590.58 L1616.65,594.47 L1615.46,598.27 L1614.02,601.97 L1612.38,605.58 L1610.55,609.08 L1608.55,612.49 L1606.41,615.79 L1604.15,618.99 L1601.77,622.08 L1599.28,625.10 L1596.68,628.04 L1593.97,630.91 L1591.15,633.70 L1588.22,636.42 L1585.20,639.05 L1582.08,641.61 L1578.86,644.09 L1575.55,646.49 L1572.15,648.81 L1568.66,651.05 L1565.10,653.21 L1561.45,655.28 L1557.73,657.28 L1553.93,659.19 L1550.07,661.02 L1546.14,662.76 L1542.15,664.42 L1538.10,665.99 L1534.00,667.48 L1529.85,668.89 L1525.65,670.21 L1521.41,671.44 L1517.12,672.59 L1512.81,673.65 L1508.46,674.62 L1504.08,675.51 L1499.69,676.32 L1495.28,677.06 L1490.85,677.71 L1486.42,678.28 L1481.97,678.78 L1477.51,679.19 L1473.05,679.53 L1468.58,679.78 L1464.12,679.96 L1459.65,680.05 L1455.21,680.07 L1450.80,680.00 L1446.42,679.86 L1442.08,679.65 L1437.77,679.37 L1433.49,679.01 L1429.26,678.60 L1425.07,678.12 L1420.92,677.58 L1416.82,676.98 L1412.76,676.31 L1408.75,675.59 L1404.79,674.82 L1400.88,673.99 L1397.01,673.11 L1393.19,672.18 L1389.41,671.21 L1385.68,670.20 L1382.00,669.15 L1378.35,668.06 L1374.75,666.94 L1371.18,665.78 L1367.66,664.59 L1364.17,663.37 L1360.71,662.12 L1357.29,660.84 L1353.90,659.54 L1350.54,658.22 L1347.21,656.87 L1343.91,655.51 L1340.64,654.12 L1337.39,652.72 L1334.17,651.30 L1330.97,649.87 L1327.80,648.42 L1324.65,646.96 L1321.52,645.49 L1318.41,644.01 L1315.32,642.52 L1312.26,641.02 L1309.22,639.51 L1306.20,638.00 L1303.20,636.48 L1300.23,634.96 L1297.28,633.44 L1294.35,631.91 L1291.44,630.38 L1288.55,628.85 L1285.68,627.33 L1282.84,625.81 L1280.02,624.30 L1277.22,622.79 L1274.45,621.30 L1271.69,619.82 L1268.97,618.35 L1266.26,616.89 L1263.57,615.46 L1260.91,614.04 L1258.27,612.63 L1255.65,611.25 L1253.05,609.90 L1250.46,608.57 L1247.90,607.27 L1245.35,606.00 L1242.82,604.75 L1240.31,603.54 L1237.82,602.36 L1235.36,601.22 L1232.91,600.11 L1230.49,599.04 L1228.10,598.01 L1225.73,597.01 L1223.38,596.06 L1221.07,595.15 L1218.79,594.28 L1216.53,593.45 L1214.31,592.67 L1212.13,591.93 L1209.98,591.24 L1207.86,590.59 L1205.79,589.98 L1203.76,589.43 L1201.76,588.91 L1199.81,588.44 L1197.90,588.01 L1196.03,587.63 L1194.19,587.28 L1192.36,586.97 L1190.54,586.69 L1188.73,586.45 L1186.93,586.23 L1185.14,586.05 L1183.36,585.90 L1181.59,585.78 L1179.84,585.69 L1178.10,585.63 L1176.37,585.59 L1174.66,585.58 L1172.95,585.61 L1171.26,585.65 L1169.57,585.73 L1167.90,585.83 L1166.23,585.96 L1164.56,586.12 L1162.90,586.31 L1161.25,586.52 L1159.59,586.77 L1157.94,587.04 L1156.28,587.34 L1154.62,587.68 L1152.95,588.04 L1151.28,588.44 L1149.61,588.88 L1147.92,589.35 L1146.23,589.86 L1144.53,590.41 L1142.82,591.01 L1141.10,591.65 L1139.37,592.33 L1137.64,593.07 L1135.90,593.85 L1134.15,594.68 L1132.39,595.57 L1130.63,596.51 L1128.87,597.50 L1127.10,598.56 L1125.34,599.68 L1123.57,600.85 L1121.81,602.09 L1120.05,603.40 L1118.30,604.77 L1116.56,606.20 L1114.83,607.71 L1113.12,609.28 L1111.42,610.93 L1109.76,612.64 L1108.19,614.35 L1106.74,616.04 L1105.42,617.70 L1104.25,619.32 L1103.21,620.90 L1102.30,622.42 L1101.53,623.87 L1100.90,625.26 L1100.40,626.57 L1100.03,627.82 L1099.77,629.00 L1099.62,630.19 L1099.60,631.54 L1099.72,633.03 L1099.99,634.64 L1100.42,636.34 L1101.01,638.10 L1101.73,639.91 L1102.59,641.73 L1103.57,643.55 L1104.64,645.33 L1105.78,647.07 L1106.96,648.73 L1108.20,650.32 L1109.52,651.88 L1110.95,653.42 L1112.48,654.93 L1114.13,656.45 L1115.90,657.98 L1117.80,659.52 L1119.83,661.09 L1121.99,662.69 L1124.27,664.34 L1126.68,666.03 L1129.21,667.78 L1131.82,669.59 L1134.42,671.41 L1136.99,673.21 L1139.53,675.00 L1142.06,676.77 L1144.58,678.52 L1147.09,680.25 L1149.59,681.97 L1152.09,683.66 L1154.59,685.33 L1157.10,686.98 L1159.60,688.61 L1162.12,690.22 L1164.64,691.81 L1167.17,693.38 L1169.71,694.93 L1172.27,696.45 L1174.85,697.96 L1177.45,699.44 L1180.07,700.90 L1182.71,702.34 L1185.37,703.76 L1188.06,705.16 L1190.77,706.54 L1193.50,707.90 L1196.26,709.27 L1199.16,710.71 L1202.21,712.22 L1205.39,713.82 L1208.68,715.51 L1212.08,717.32 L1215.57,719.24 L1219.11,721.28 L1222.70,723.47 L1226.31,725.79 L1229.90,728.27 L1233.46,730.91 L1236.95,733.70 L1240.31,736.63 L1243.51,739.67 L1246.56,742.82 L1249.44,746.08 L1252.13,749.46 L1254.60,752.95 L1256.84,756.56 L1258.83,760.27 L1260.54,764.09 L1261.95,768.01 L1263.02,772.03 L1263.74,776.15 L1264.08,780.33 L1264.03,784.46 L1263.62,788.52 L1262.90,792.49 L1261.90,796.38 L1260.64,800.19 L1259.15,803.90 L1257.47,807.52 L1255.60,811.05 L1253.59,814.48 L1251.43,817.82 L1249.17,821.06 L1246.80,824.19 L1244.34,827.26 L1241.77,830.27 L1239.12,833.21 L1236.37,836.09 L1233.53,838.90 L1230.60,841.64 L1227.59,844.32 L1224.50,846.93 L1221.32,849.47 L1218.06,851.95 L1214.72,854.35 L1211.30,856.68 L1207.80,858.95 L1204.23,861.14 L1200.58,863.26 L1196.86,865.31 L1193.07,867.28 L1189.20,869.17 L1185.25,870.99 L1181.24,872.73 L1177.14,874.39 L1172.98,875.97 L1168.74,877.46 L1164.43,878.87 L1160.06,880.18 L1155.64,881.40 L1151.16,882.52 L1146.64,883.54 L1142.08,884.47 L1137.49,885.29 L1132.86,886.01 L1128.22,886.63 L1123.57,887.15 L1118.91,887.56 L1114.25,887.88 L1109.60,888.10 L1104.97,888.23 L1100.37,888.26 L1095.79,888.20 L1091.24,888.05 L1086.74,887.81 L1082.28,887.50 L1077.86,887.10 L1073.49,886.63 L1069.17,886.09 L1064.91,885.48 L1060.69,884.80 L1056.53,884.06 L1052.42,883.26 L1048.37,882.40 L1044.36,881.49 L1040.41,880.53 L1036.51,879.52 L1032.65,878.47 L1028.85,877.37 L1025.09,876.22 L1021.38,875.04 L1017.71,873.81 L1014.08,872.55 L1010.50,871.25 L1006.95,869.92 L1003.45,868.55 L999.98,867.16 L996.56,865.73 L993.17,864.27 L989.81,862.78 L986.49,861.27 L983.20,859.73 L979.95,858.17 L976.73,856.58 L973.54,854.97 L970.38,853.33 L967.26,851.68 L964.16,850.01 L961.11,848.32 L958.09,846.62 L955.12,844.92 L952.17,843.22 L949.24,841.52 L946.35,839.83 L943.47,838.14 L940.62,836.46 L937.78,834.79 L934.97,833.12 L932.17,831.47 L929.38,829.83 L926.61,828.21 L923.86,826.61 L921.11,825.03 L918.38,823.47 L915.66,821.93 L912.96,820.41 L910.26,818.93 L907.57,817.47 L904.90,816.05 L902.24,814.66 L899.60,813.30 L896.98,811.97 L894.39,810.68 L891.82,809.42 L889.27,808.20 L886.76,807.03 L884.27,805.89 L881.81,804.80 L879.38,803.75 L876.98,802.75 L874.62,801.80 L872.30,800.90 L870.02,800.05 L867.78,799.25 L865.58,798.51 L863.42,797.82 L861.28,797.16 L859.15,796.55 L857.04,795.97 L854.95,795.44 L852.88,794.95 L850.84,794.49 L848.82,794.07 L846.82,793.69 L844.85,793.35 L842.90,793.04 L840.98,792.77 L839.09,792.53 L837.23,792.33 L835.40,792.16 L833.59,792.01 L831.82,791.89 L830.07,791.80 L828.34,791.73 L826.64,791.68 L824.96,791.66 L823.30,791.66 L821.66,791.68 L820.03,791.72 L818.41,791.78 L816.80,791.87 L815.19,791.98 L813.59,792.11 L811.98,792.26 L810.37,792.43 L808.75,792.63 L807.11,792.86 L805.46,793.11 L803.80,793.39 L802.11,793.70 L800.41,794.05 L798.69,794.43 L796.94,794.85 L795.17,795.31 L793.38,795.82 L791.57,796.37 L789.73,796.96 L787.86,797.60 L785.97,798.29 L784.06,799.03 L782.12,799.82 L780.16,800.67 L778.18,801.57 L776.18,802.53 L774.17,803.55 L772.18,804.60 L770.23,805.68 L768.31,806.81 L766.43,807.98 L764.59,809.19 L762.78,810.44 L761.01,811.75 L759.27,813.10 L757.59,814.52 L755.94,815.99 L754.34,817.52 L752.78,819.12 L751.28,820.79 L749.85,822.52 L748.51,824.28 L747.25,826.07 L746.10,827.88 L745.06,829.68 L744.15,831.48 L743.37,833.24 L742.72,834.97 L742.21,836.65 L741.84,838.28 L741.61,839.84 L741.51,841.37 L741.55,842.97 L741.74,844.62 L742.06,846.32 L742.53,848.04 L743.13,849.78 L743.86,851.51 L744.70,853.22 L745.64,854.89 L746.67,856.51 L747.76,858.05 L748.90,859.51 L750.12,860.91 L751.44,862.28 L752.88,863.64 L754.44,865.01 L756.14,866.38 L757.98,867.78 L759.97,869.20 L762.10,870.66 L764.39,872.16 L766.81,873.72 L769.38,875.33 L772.07,877.01 L774.85,878.75 L777.60,880.49 L780.31,882.22 L782.97,883.94 L785.61,885.63 L788.21,887.31 L790.79,888.97 L793.34,890.61 L795.88,892.23 L798.39,893.83 L800.89,895.41 L803.38,896.96 L805.85,898.49 L808.33,900.00 L810.82,901.50 L813.32,902.98 L815.83,904.45 L818.35,905.91 L820.90,907.35 L823.46,908.78 L826.04,910.21 L828.64,911.62 L831.27,913.02 L833.92,914.42 L836.59,915.81 L839.33,917.23 L842.23,918.73 L845.28,920.32 L848.45,922.01 L851.74,923.81 L855.12,925.73 L858.56,927.78 L862.05,929.97 L865.54,932.30 L869.02,934.79 L872.45,937.44 L875.80,940.24 L879.05,943.21 L882.12,946.30 L884.99,949.48 L887.68,952.74 L890.17,956.09 L892.47,959.51 L894.57,963.01 L896.45,966.58 L898.10,970.22 L899.51,973.91 L900.66,977.66 L901.53,981.47 L902.10,985.34 L902.33,989.20 L902.24,993.02 L901.83,996.79 L901.12,1000.49 L900.14,1004.12 L898.89,1007.67 L897.40,1011.15 L895.68,1014.55 L893.76,1017.87 L891.65,1021.11 L889.36,1024.26 L886.92,1027.33 L884.34,1030.32 L881.63,1033.22 L878.82,1036.05 L875.90,1038.79 L872.90,1041.45 L869.83,1044.04 L866.69,1046.55 L863.51,1048.98 L860.29,1051.33 L857.04,1053.61 L853.78,1055.82 L850.51,1057.95 L847.24,1060.01 L843.93,1062.02 L840.59,1063.98 L837.20,1065.90 L833.78,1067.76 L830.30,1069.58 L826.78,1071.34 L823.21,1073.05 L819.59,1074.70 L815.91,1076.30 L812.17,1077.84 L808.37,1079.31 L804.50,1080.73 L800.57,1082.08 L796.57,1083.36 L792.50,1084.57 L788.36,1085.72 L784.16,1086.78 L779.88,1087.77 L775.52,1088.68 L771.10,1089.50 L766.62,1090.23 L762.06,1090.87 L757.45,1091.41 L752.78,1091.84 L748.10,1092.17 L743.41,1092.39 L738.75,1092.51 L734.10,1092.53 L729.48,1092.46 L724.89,1092.29 L720.33,1092.03 L715.82,1091.68 L711.34,1091.25 L706.91,1090.75 L702.53,1090.16 L698.19,1089.51 L693.90,1088.78 L689.66,1087.98 L685.47,1087.11 L681.34,1086.19 L677.25,1085.20 L673.21,1084.16 L669.22,1083.06 L665.28,1081.91 L661.39,1080.70 L657.54,1079.45 L653.75,1078.15 L650.00,1076.81 L646.29,1075.42 L642.64,1074.00 L639.05,1072.54 L635.52,1071.06 L632.04,1069.54 L628.60,1068.00 L625.22,1066.43 L621.88,1064.84 L618.59,1063.23 L615.34,1061.60 L612.13,1059.95 L608.96,1058.29 L605.82,1056.61 L602.71,1054.92 L599.64,1053.22 L596.60,1051.51 L593.59,1049.80 L590.61,1048.08 L587.65,1046.35 L584.72,1044.62 L581.81,1042.89 L578.93,1041.16 L576.07,1039.44 L573.23,1037.71 L570.41,1035.99 L567.61,1034.28 L564.82,1032.58 L562.06,1030.88 L559.31,1029.20 L556.59,1027.53 L553.87,1025.88 L551.18,1024.24 L548.50,1022.62 L545.84,1021.02 L543.19,1019.44 L540.56,1017.88 L537.94,1016.35 L535.34,1014.85 L532.75,1013.36 L530.14,1011.89 L527.53,1010.43 L524.91,1008.98 L522.29,1007.54 L519.66,1006.12 L517.02,1004.70 L514.38,1003.30 L511.73,1001.91 L509.07,1000.52 L506.41,999.15 L503.74,997.79 L501.06,996.43 L498.37,995.09 L495.68,993.75 L492.99,992.42 L490.31,991.08 L487.63,989.75 L484.95,988.41 L482.28,987.08 L479.62,985.74 L476.96,984.40 L474.31,983.06 L471.66,981.72 L469.01,980.37 L466.37,979.02 L463.73,977.67 L461.10,976.31 L458.47,974.95 L455.84,973.58 L453.22,972.21 L450.60,970.83 L447.99,969.45 L445.38,968.06 L442.77,966.67 L440.16,965.28 L437.54,963.88 L434.91,962.49 L432.27,961.10 L429.63,959.71 L426.97,958.31 L424.31,956.92 L421.65,955.53 L418.97,954.14 L416.29,952.75 L413.60,951.35 L410.90,949.96 L408.20,948.56 L405.49,947.16 L402.78,945.76 L400.09,944.37 L397.43,943.00 L394.80,941.66 L392.21,940.33 L389.65,939.04 L387.13,937.77 L384.63,936.53 L382.17,935.32 L379.75,934.14 L377.35,933.01 L375.00,931.91 L372.68,930.85 L370.40,929.83 L368.16,928.85 L365.96,927.92 L363.80,927.04 L361.69,926.20 L359.63,925.41 L357.63,924.67 L355.67,923.98 L353.77,923.34 L351.92,922.76 L350.13,922.23 L348.40,921.75 L346.73,921.33 L345.13,920.96 L343.58,920.64 L342.09,920.36 L340.67,920.14 L339.29,919.95 L337.93,919.80 L336.56,919.69 L335.16,919.61 L333.74,919.57 L332.30,919.57 L330.84,919.60 L329.37,919.66 L327.87,919.77 L326.35,919.92 L324.81,920.10 L323.26,920.32 L321.68,920.58 L320.09,920.87 L318.47,921.21 L316.84,921.58 L315.19,921.99 L313.53,922.45 L311.85,922.94 L310.16,923.48 L308.46,924.07 L306.75,924.70 L305.04,925.38 L303.32,926.11 L301.60,926.88 L299.87,927.70 L298.15,928.58 L296.43,929.51 L294.72,930.48 L293.02,931.52 L291.34,932.60 L289.67,933.74 L288.02,934.94 L287.47,935.35 Z" fill="#b0b0b0"/></g>
<path transform="translate(0,17.0)" d="M271.3,936.5 L237.6,916.2 C235,914.6 231.9,908.9 231.9,904.9 C231.9,894.9 249.8,890 263.32,887.17 L263.32,887.17 L267.18,885.73 L271.09,884.37 L275.07,883.09 L279.11,881.87 L283.20,880.74 L287.34,879.67 L291.54,878.69 L295.79,877.78 L300.08,876.96 L304.42,876.21 L308.81,875.55 L313.24,874.98 L317.70,874.50 L322.20,874.12 L326.73,873.84 L331.29,873.66 L335.86,873.59 L340.44,873.62 L345.02,873.76 L349.60,874.00 L354.17,874.36 L358.68,874.81 L363.11,875.36 L367.45,876.00 L371.71,876.72 L375.89,877.51 L379.97,878.38 L383.97,879.31 L387.89,880.30 L391.72,881.34 L395.47,882.43 L399.15,883.56 L402.76,884.73 L406.30,885.93 L409.78,887.16 L413.21,888.42 L416.58,889.70 L419.90,891.00 L423.16,892.32 L426.39,893.65 L429.57,895.00 L432.70,896.35 L435.80,897.72 L438.86,899.09 L441.89,900.46 L444.88,901.84 L447.84,903.21 L450.76,904.58 L453.66,905.95 L456.53,907.30 L459.37,908.65 L462.20,909.99 L465.03,911.34 L467.86,912.68 L470.70,914.03 L473.54,915.39 L476.38,916.74 L479.22,918.10 L482.06,919.46 L484.90,920.83 L487.75,922.20 L490.60,923.58 L493.44,924.96 L496.29,926.34 L499.14,927.73 L501.99,929.13 L504.84,930.53 L507.70,931.93 L510.56,933.34 L513.43,934.75 L516.30,936.17 L519.18,937.59 L522.06,939.01 L524.95,940.44 L527.83,941.88 L530.73,943.32 L533.62,944.77 L536.53,946.22 L539.43,947.68 L542.34,949.15 L545.25,950.62 L548.16,952.10 L551.08,953.59 L554.00,955.09 L556.93,956.60 L559.86,958.11 L562.78,959.64 L565.71,961.18 L568.63,962.73 L571.55,964.30 L574.46,965.88 L577.37,967.47 L580.28,969.08 L583.18,970.70 L586.08,972.33 L588.98,973.98 L591.87,975.65 L594.76,977.33 L597.64,979.03 L600.52,980.74 L603.39,982.47 L606.25,984.21 L609.08,985.95 L611.89,987.69 L614.68,989.44 L617.46,991.18 L620.21,992.92 L622.95,994.65 L625.67,996.38 L628.38,998.10 L631.07,999.82 L633.75,1001.52 L636.42,1003.21 L639.07,1004.89 L641.71,1006.55 L644.33,1008.19 L646.95,1009.81 L649.55,1011.42 L652.14,1013.00 L654.72,1014.56 L657.29,1016.09 L659.84,1017.60 L662.38,1019.08 L664.91,1020.53 L667.43,1021.94 L669.93,1023.33 L672.42,1024.67 L674.90,1025.99 L677.36,1027.26 L679.80,1028.49 L682.23,1029.69 L684.63,1030.84 L687.02,1031.94 L689.38,1033.01 L691.72,1034.02 L694.04,1034.99 L696.33,1035.91 L698.60,1036.78 L700.84,1037.61 L703.06,1038.39 L705.27,1039.13 L707.45,1039.82 L709.60,1040.46 L711.71,1041.06 L713.80,1041.62 L715.84,1042.12 L717.84,1042.58 L719.79,1042.99 L721.69,1043.36 L723.54,1043.68 L725.34,1043.95 L727.07,1044.19 L728.75,1044.38 L730.36,1044.53 L731.91,1044.65 L733.39,1044.74 L734.81,1044.80 L736.18,1044.83 L737.49,1044.83 L738.74,1044.81 L739.96,1044.77 L741.14,1044.70 L742.29,1044.62 L743.45,1044.51 L744.66,1044.37 L745.92,1044.20 L747.24,1044.00 L748.62,1043.76 L750.07,1043.48 L751.59,1043.15 L753.18,1042.78 L754.84,1042.35 L756.57,1041.87 L758.37,1041.33 L760.24,1040.73 L762.17,1040.07 L764.16,1039.34 L766.20,1038.54 L768.30,1037.68 L770.45,1036.75 L772.65,1035.75 L774.88,1034.68 L777.16,1033.55 L779.48,1032.35 L781.83,1031.08 L784.22,1029.74 L786.63,1028.34 L789.06,1026.88 L791.46,1025.38 L793.83,1023.86 L796.15,1022.30 L798.41,1020.72 L800.62,1019.12 L802.75,1017.49 L804.79,1015.85 L806.76,1014.20 L808.62,1012.53 L810.39,1010.85 L812.04,1009.16 L813.59,1007.48 L815.01,1005.79 L816.30,1004.10 L817.46,1002.41 L818.50,1000.72 L819.40,999.04 L820.16,997.37 L820.78,995.70 L821.27,994.02 L821.62,992.35 L821.82,990.68 L821.88,988.99 L821.79,987.28 L821.53,985.48 L821.11,983.60 L820.51,981.66 L819.75,979.68 L818.84,977.69 L817.79,975.70 L816.61,973.75 L815.31,971.84 L813.93,970.01 L812.49,968.27 L811.00,966.64 L809.51,965.15 L807.98,963.77 L806.38,962.44 L804.71,961.15 L802.94,959.90 L801.07,958.65 L799.08,957.40 L796.96,956.14 L794.71,954.85 L792.32,953.54 L789.79,952.18 L787.11,950.76 L784.30,949.28 L781.37,947.74 L778.45,946.18 L775.55,944.62 L772.68,943.06 L769.84,941.50 L767.02,939.93 L764.23,938.35 L761.46,936.78 L758.70,935.19 L755.97,933.61 L753.25,932.01 L750.55,930.41 L747.86,928.81 L745.20,927.20 L742.56,925.60 L739.95,924.00 L737.36,922.41 L734.78,920.83 L732.22,919.25 L729.67,917.68 L727.13,916.12 L724.60,914.57 L722.07,913.03 L719.54,911.50 L717.00,909.98 L714.42,908.45 L711.68,906.84 L708.80,905.15 L705.81,903.36 L702.70,901.47 L699.52,899.47 L696.27,897.35 L693.00,895.10 L689.71,892.71 L686.45,890.19 L683.24,887.52 L680.12,884.69 L677.11,881.72 L674.26,878.62 L671.61,875.42 L669.15,872.12 L666.88,868.73 L664.83,865.25 L662.99,861.69 L661.40,858.04 L660.06,854.31 L659.00,850.50 L658.24,846.62 L657.80,842.67 L657.72,838.67 L658.00,834.73 L658.59,830.85 L659.47,827.05 L660.62,823.32 L662.01,819.67 L663.62,816.10 L665.43,812.61 L667.41,809.21 L669.55,805.90 L671.84,802.67 L674.27,799.54 L676.82,796.51 L679.50,793.57 L682.30,790.73 L685.20,787.97 L688.20,785.31 L691.29,782.75 L694.46,780.27 L697.71,777.89 L701.02,775.60 L704.38,773.40 L707.78,771.28 L711.23,769.26 L714.69,767.31 L718.19,765.45 L721.74,763.65 L725.34,761.91 L728.99,760.24 L732.70,758.63 L736.45,757.08 L740.26,755.61 L744.11,754.19 L748.01,752.85 L751.96,751.58 L755.96,750.37 L759.99,749.24 L764.07,748.17 L768.18,747.18 L772.33,746.26 L776.51,745.41 L780.73,744.63 L784.97,743.94 L789.24,743.32 L793.52,742.78 L797.83,742.32 L802.15,741.93 L806.47,741.62 L810.81,741.39 L815.14,741.24 L819.47,741.17 L823.79,741.17 L828.11,741.24 L832.41,741.39 L836.69,741.62 L840.96,741.91 L845.20,742.28 L849.41,742.72 L853.60,743.22 L857.75,743.80 L861.87,744.44 L865.96,745.14 L870.01,745.90 L874.03,746.73 L878.00,747.61 L881.94,748.54 L885.84,749.54 L889.70,750.58 L893.51,751.68 L897.29,752.83 L901.02,754.04 L904.71,755.29 L908.36,756.59 L911.97,757.94 L915.52,759.34 L919.02,760.77 L922.44,762.24 L925.80,763.73 L929.10,765.25 L932.34,766.79 L935.53,768.36 L938.67,769.95 L941.76,771.55 L944.80,773.17 L947.81,774.80 L950.77,776.45 L953.70,778.11 L956.60,779.77 L959.46,781.44 L962.29,783.12 L965.10,784.80 L967.89,786.48 L970.66,788.15 L973.42,789.82 L976.16,791.48 L978.89,793.14 L981.60,794.78 L984.31,796.41 L987.01,798.03 L989.70,799.63 L992.38,801.22 L995.05,802.79 L997.71,804.33 L1000.37,805.86 L1003.03,807.35 L1005.68,808.83 L1008.32,810.27 L1010.95,811.68 L1013.58,813.06 L1016.20,814.41 L1018.81,815.72 L1021.41,817.00 L1024.00,818.25 L1026.58,819.47 L1029.17,820.66 L1031.75,821.82 L1034.32,822.95 L1036.88,824.04 L1039.44,825.10 L1041.98,826.13 L1044.51,827.11 L1047.02,828.07 L1049.52,828.98 L1052.00,829.86 L1054.45,830.69 L1056.89,831.49 L1059.30,832.25 L1061.68,832.96 L1064.03,833.63 L1066.34,834.27 L1068.63,834.85 L1070.87,835.40 L1073.08,835.91 L1075.25,836.37 L1077.37,836.79 L1079.45,837.16 L1081.48,837.50 L1083.47,837.80 L1085.40,838.05 L1087.28,838.27 L1089.11,838.45 L1090.89,838.60 L1092.62,838.71 L1094.30,838.79 L1095.93,838.85 L1097.51,838.87 L1099.06,838.87 L1100.56,838.84 L1102.04,838.78 L1103.49,838.70 L1104.92,838.60 L1106.33,838.47 L1107.74,838.31 L1109.14,838.12 L1110.55,837.91 L1111.98,837.67 L1113.43,837.39 L1114.90,837.07 L1116.40,836.72 L1117.94,836.32 L1119.52,835.88 L1121.14,835.38 L1122.81,834.82 L1124.53,834.20 L1126.30,833.52 L1128.11,832.77 L1129.96,831.95 L1131.84,831.07 L1133.74,830.12 L1135.66,829.10 L1137.60,828.01 L1139.55,826.86 L1141.50,825.64 L1143.45,824.35 L1145.40,823.00 L1147.33,821.58 L1149.25,820.09 L1151.16,818.54 L1153.04,816.92 L1154.90,815.23 L1156.72,813.48 L1158.51,811.67 L1160.27,809.79 L1161.98,807.85 L1163.65,805.85 L1165.27,803.79 L1166.82,801.67 L1168.27,799.54 L1169.61,797.39 L1170.81,795.25 L1171.88,793.13 L1172.80,791.03 L1173.56,788.98 L1174.16,786.97 L1174.59,785.03 L1174.85,783.17 L1174.94,781.40 L1174.87,779.72 L1174.64,778.11 L1174.25,776.46 L1173.70,774.79 L1172.99,773.11 L1172.13,771.42 L1171.13,769.74 L1169.99,768.08 L1168.72,766.45 L1167.36,764.86 L1165.90,763.33 L1164.37,761.86 L1162.79,760.46 L1161.18,759.15 L1159.53,757.91 L1157.79,756.71 L1155.96,755.51 L1154.02,754.32 L1151.97,753.12 L1149.79,751.89 L1147.48,750.64 L1145.02,749.35 L1142.43,748.00 L1139.68,746.60 L1136.80,745.12 L1133.78,743.57 L1130.67,741.95 L1127.60,740.32 L1124.57,738.70 L1121.59,737.08 L1118.66,735.45 L1115.79,733.81 L1112.96,732.18 L1110.18,730.54 L1107.45,728.90 L1104.76,727.25 L1102.11,725.61 L1099.50,723.97 L1096.92,722.32 L1094.38,720.68 L1091.87,719.03 L1089.38,717.38 L1086.93,715.74 L1084.49,714.09 L1082.08,712.45 L1079.69,710.80 L1077.32,709.15 L1074.95,707.51 L1072.60,705.86 L1070.25,704.21 L1067.89,702.57 L1065.45,700.90 L1062.85,699.13 L1060.10,697.27 L1057.24,695.30 L1054.27,693.22 L1051.22,691.02 L1048.11,688.69 L1044.98,686.23 L1041.84,683.64 L1038.74,680.91 L1035.69,678.03 L1032.73,675.02 L1029.88,671.85 L1027.17,668.58 L1024.64,665.20 L1022.30,661.73 L1020.15,658.16 L1018.21,654.50 L1016.51,650.75 L1015.06,646.92 L1013.90,643.00 L1013.06,639.00 L1012.57,634.93 L1012.48,630.78 L1012.83,626.60 L1013.61,622.53 L1014.77,618.59 L1016.26,614.79 L1018.05,611.13 L1020.07,607.61 L1022.30,604.23 L1024.70,600.98 L1027.23,597.87 L1029.87,594.89 L1032.58,592.05 L1035.35,589.33 L1038.16,586.71 L1041.04,584.17 L1043.99,581.70 L1047.01,579.30 L1050.10,576.97 L1053.25,574.71 L1056.48,572.52 L1059.76,570.40 L1063.11,568.35 L1066.53,566.37 L1070.00,564.46 L1073.53,562.63 L1077.12,560.87 L1080.77,559.18 L1084.47,557.57 L1088.21,556.03 L1092.01,554.56 L1095.85,553.17 L1099.74,551.85 L1103.67,550.61 L1107.63,549.45 L1111.63,548.36 L1115.66,547.35 L1119.72,546.41 L1123.79,545.54 L1127.89,544.73 L1132.00,544.00 L1136.13,543.34 L1140.28,542.74 L1144.43,542.21 L1148.60,541.76 L1152.77,541.36 L1156.95,541.04 L1161.13,540.78 L1165.32,540.59 L1169.50,540.47 L1173.68,540.41 L1177.86,540.42 L1182.03,540.49 L1186.19,540.62 L1190.35,540.82 L1194.49,541.07 L1198.62,541.40 L1202.73,541.79 L1206.83,542.24 L1210.90,542.77 L1214.96,543.36 L1218.98,544.01 L1222.98,544.73 L1226.94,545.51 L1230.86,546.35 L1234.72,547.25 L1238.53,548.19 L1242.28,549.18 L1245.98,550.22 L1249.63,551.29 L1253.23,552.41 L1256.79,553.57 L1260.30,554.76 L1263.76,555.98 L1267.18,557.24 L1270.56,558.52 L1273.90,559.83 L1277.21,561.17 L1280.48,562.53 L1283.71,563.91 L1286.92,565.31 L1290.09,566.73 L1293.23,568.17 L1296.35,569.62 L1299.43,571.09 L1302.50,572.57 L1305.54,574.05 L1308.55,575.55 L1311.55,577.06 L1314.52,578.57 L1317.48,580.08 L1320.41,581.61 L1323.33,583.13 L1326.23,584.65 L1329.10,586.18 L1331.97,587.70 L1334.81,589.22 L1337.64,590.73 L1340.45,592.24 L1343.25,593.75 L1346.04,595.24 L1348.81,596.72 L1351.57,598.20 L1354.32,599.66 L1357.06,601.11 L1359.79,602.55 L1362.50,603.97 L1365.21,605.38 L1367.90,606.76 L1370.58,608.13 L1373.25,609.48 L1375.90,610.81 L1378.55,612.12 L1381.18,613.40 L1383.80,614.65 L1386.40,615.87 L1388.99,617.07 L1391.57,618.24 L1394.12,619.37 L1396.67,620.48 L1399.19,621.55 L1401.69,622.58 L1404.17,623.58 L1406.63,624.54 L1409.07,625.47 L1411.48,626.35 L1413.87,627.20 L1416.22,628.00 L1418.55,628.76 L1420.85,629.48 L1423.11,630.16 L1425.34,630.80 L1427.54,631.39 L1429.70,631.94 L1431.82,632.45 L1433.89,632.91 L1435.93,633.34 L1437.93,633.72 L1439.88,634.05 L1441.80,634.35 L1443.67,634.61 L1445.50,634.83 L1447.29,635.02 L1449.05,635.17 L1450.77,635.29 L1452.46,635.38 L1454.13,635.44 L1455.79,635.47 L1457.42,635.47 L1459.06,635.44 L1460.69,635.38 L1462.36,635.29 L1464.05,635.17 L1465.76,635.01 L1467.49,634.82 L1469.25,634.60 L1471.02,634.34 L1472.82,634.04 L1474.63,633.71 L1476.46,633.34 L1478.31,632.92 L1480.16,632.47 L1482.03,631.97 L1483.91,631.43 L1485.79,630.83 L1487.68,630.20 L1489.57,629.51 L1491.46,628.77 L1493.35,627.98 L1495.24,627.14 L1497.12,626.25 L1498.99,625.30 L1500.86,624.30 L1502.71,623.24 L1504.55,622.12 L1506.37,620.94 L1508.17,619.70 L1509.95,618.40 L1511.71,617.03 L1513.43,615.60 L1515.13,614.10 L1516.79,612.54 L1518.42,610.91 L1520.00,609.20 L1521.55,607.43 L1523.04,605.58 L1524.48,603.66 L1525.86,601.67 L1527.15,599.65 L1528.32,597.61 L1529.38,595.56 L1530.30,593.52 L1531.07,591.50 L1531.69,589.52 L1532.16,587.60 L1532.45,585.73 L1532.59,583.95 L1532.57,582.26 L1532.39,580.68 L1532.06,579.15 L1531.56,577.56 L1530.89,575.91 L1530.03,574.20 L1529.01,572.45 L1527.81,570.65 L1526.45,568.82 L1524.94,566.97 L1523.30,565.10 L1521.54,563.23 L1519.68,561.36 L1517.73,559.49 L1515.72,557.66 L1513.69,555.89 L1511.65,554.18 L1509.60,552.53 L1507.53,550.93 L1505.45,549.38 L1503.34,547.87 L1501.21,546.40 L1499.06,544.96 L1496.88,543.56 L1494.67,542.18 L1492.43,540.82 L1490.16,539.48 L1487.85,538.15 L1485.50,536.84 L1483.10,535.53 L1480.68,534.23 L1478.21,532.92 L1475.70,531.60 L1473.16,530.27 L1470.57,528.94 L1467.93,527.58 L1465.26,526.21 L1462.54,524.81 L1459.78,523.39 L1456.98,521.94 L1454.14,520.45 L1451.25,518.94 L1448.33,517.38 L1445.38,515.78 L1442.40,514.14 L1439.40,512.45 L1436.38,510.72 L1433.35,508.93 L1430.31,507.09 L1427.27,505.20 L1424.23,503.25 L1421.19,501.25 L1418.17,499.18 L1415.16,497.06 L1412.17,494.87 L1409.22,492.62 L1406.30,490.30 L1403.42,487.92 L1400.60,485.46 L1397.82,482.94 L1395.11,480.34 L1392.47,477.68 L1389.90,474.93 L1387.40,472.12 L1384.98,469.22 L1382.61,466.19 L1380.32,463.01 L1378.14,459.68 L1376.12,456.21 L1374.30,452.60 L1372.72,448.84 L1371.42,444.95 L1370.48,441.00 L1369.90,437.08 L1369.64,433.20 L1369.69,429.35 L1370.01,425.55 L1370.60,421.79 L1371.44,418.08 L1372.50,414.42 L1373.77,410.82 L1375.24,407.27 L1376.89,403.79 L1378.72,400.37 L1380.71,397.03 L1382.85,393.76 L1385.14,390.56 L1387.55,387.44 L1390.10,384.41 L1392.76,381.47 L1395.54,378.62 L1398.43,375.85 L1401.43,373.19 L1404.52,370.61 L1407.71,368.12 L1411.00,365.73 L1414.36,363.43 L1417.81,361.22 L1421.34,359.10 L1424.94,357.07 L1428.60,355.14 L1432.32,353.29 L1436.10,351.54 L1439.92,349.87 L1443.79,348.30 L1447.69,346.81 L1451.63,345.41 L1455.60,344.10 L1459.59,342.87 L1463.59,341.72 L1467.61,340.66 L1471.64,339.68 L1475.67,338.77 L1479.70,337.95 L1483.74,337.20 L1487.80,336.52 L1491.86,335.92 L1495.91,335.37 L1499.97,334.90 L1504.03,334.49 L1508.08,334.15 L1512.13,333.87 L1516.17,333.65 L1520.20,333.50 L1524.22,333.41 L1528.23,333.38 L1532.23,333.41 L1536.22,333.50 L1540.19,333.65 L1544.15,333.86 L1548.09,334.12 L1552.01,334.43 L1555.91,334.80 L1559.80,335.22 L1563.67,335.69 L1567.52,336.21 L1571.35,336.79 L1575.16,337.42 L1578.94,338.10 L1582.69,338.83 L1586.42,339.62 L1590.13,340.46 L1593.80,341.34 L1597.45,342.27 L1601.08,343.24 L1604.67,344.26 L1608.24,345.33 L1611.78,346.43 L1615.30,347.58 L1618.78,348.77 L1622.24,350.00 L1625.65,351.26 L1629.03,352.55 L1632.37,353.86 L1635.68,355.21 L1638.95,356.58 L1642.19,357.98 L1645.40,359.39 L1648.59,360.83 L1651.74,362.28 L1654.87,363.76 L1657.97,365.25 L1661.06,366.75 L1664.11,368.26 L1667.15,369.79 L1670.17,371.32 L1673.16,372.86 L1676.14,374.41 L1679.11,375.96 L1682.06,377.52 L1684.99,379.07 L1687.92,380.63 L1690.82,382.18 L1693.72,383.73 L1696.60,385.27 L1699.47,386.81 L1702.33,388.34 L1705.18,389.86 L1708.02,391.37 L1710.84,392.87 L1713.66,394.35 L1716.46,395.82 L1719.26,397.27 L1722.04,398.70 L1724.81,400.11 L1727.57,401.50 L1730.32,402.87 L1733.06,404.21 L1735.78,405.53 L1738.48,406.82 L1741.17,408.08 L1743.85,409.31 L1746.50,410.51 L1749.14,411.68 L1751.76,412.81 L1754.36,413.90 L1756.94,414.96 L1759.50,415.98 L1762.04,416.96 L1764.55,417.90 L1767.03,418.80 L1769.50,419.66 L1771.95,420.47 L1774.37,421.25 L1776.76,421.98 L1779.11,422.67 L1781.44,423.32 L1783.73,423.92 L1785.97,424.48 L1788.18,424.99 L1790.34,425.46 L1792.45,425.88 L1794.51,426.26 L1796.51,426.59 L1798.46,426.88 L1800.35,427.12 L1802.17,427.34 L1803.93,427.52 L1805.63,427.66 L1807.26,427.78 L1808.84,427.87 L1810.35,427.93 L1811.81,427.96 L1813.22,427.97 L1814.59,427.96 L1815.92,427.93 L1817.22,427.88 L1818.50,427.81 L1819.77,427.72 L1821.03,427.61 L1822.30,427.48 L1823.59,427.32 L1824.90,427.13 L1826.24,426.92 L1827.63,426.67 L1829.07,426.38 L1830.55,426.04 L1832.11,425.64 L1833.74,425.18 L1835.46,424.65 L1837.24,424.05 L1839.08,423.38 L1840.98,422.63 L1842.93,421.82 L1844.92,420.93 L1846.95,419.97 L1849.00,418.94 L1851.08,417.83 L1853.17,416.66 L1855.28,415.41 L1857.39,414.10 L1859.50,412.72 L1861.61,411.27 L1863.71,409.76 L1865.79,408.18 L1867.86,406.54 L1869.91,404.83 L1871.93,403.07 L1873.93,401.24 L1875.89,399.36 L1877.81,397.41 L1879.69,395.41 L1881.51,393.38 L1883.23,391.36 L1884.83,389.34 L1886.29,387.35 L1887.59,385.38 L1888.73,383.46 L1889.69,381.58 L1890.47,379.77 L1891.07,378.02 L1891.49,376.36 L1891.72,374.78 L1891.78,373.28 L1891.67,371.83 L1891.39,370.29 L1890.92,368.67 L1890.27,366.98 L1889.44,365.24 L1888.43,363.44 L1887.24,361.62 L1885.89,359.77 L1884.40,357.92 L1882.77,356.07 L1881.02,354.23 L1879.19,352.42 L1877.29,350.64 L1875.35,348.93 L1873.37,347.26 L1871.34,345.64 L1869.27,344.06 L1867.16,342.51 L1865.00,340.99 L1862.78,339.49 L1860.52,338.01 L1858.21,336.54 L1855.84,335.08 L1853.42,333.62 L1850.94,332.16 L1848.41,330.70 L1845.82,329.23 L1843.19,327.74 L1840.51,326.23 L1837.80,324.69 L1835.04,323.12 L1832.24,321.51 L1829.42,319.87 L1826.56,318.18 L1823.68,316.45 L1820.77,314.66 L1817.86,312.82 L1815.01,310.96 L1812.25,309.13 L1809.59,307.31 L1807.01,305.53 L1804.51,303.77 L1802.08,302.05 L1799.72,300.37 L1797.41,298.72 L1795.15,297.11 L1792.94,295.55 L1790.77,294.04 L1788.62,292.57 L1786.44,291.13 L1784.09,289.61 L1781.54,287.99 L1778.82,286.28 L1775.93,284.45 L1772.92,282.50 L1769.78,280.42 L1766.57,278.21 L1763.30,275.84 L1760.01,273.32 L1756.74,270.65 L1753.52,267.80 L1750.40,264.80 L1747.44,261.67 L1744.66,258.45 L1742.07,255.14 L1739.68,251.73 L1737.49,248.23 L1735.52,244.64 L1733.78,240.97 L1732.29,237.22 L1731.07,233.39 L1730.15,229.48 L1729.54,225.51 L1729.27,221.48 L1729.38,217.39 L1729.86,213.35 L1730.70,209.40 L1731.85,205.54 L1733.28,201.78 L1734.98,198.11 L1736.92,194.55 L1739.07,191.09 L1741.41,187.73 L1743.93,184.47 L1746.62,181.33 L1749.45,178.30 L1752.42,175.38 L1755.51,172.59 L1758.70,169.92 L1761.97,167.37 L1765.31,164.94 L1768.71,162.63 L1772.14,160.42 L1775.60,158.32 L1779.06,156.33 L1782.52,154.43 L1785.96,152.63 L1789.36,150.91 L1792.77,149.25 L1796.21,147.63 L1799.68,146.06 L1803.18,144.53 L1806.71,143.04 L1810.27,141.60 L1813.87,140.21 L1817.49,138.86 L1821.15,137.57 L1824.84,136.32 L1828.57,135.12 L1832.32,133.98 L1836.11,132.88 L1839.93,131.84 L1843.78,130.86 L1847.66,129.93 L1851.58,129.06 L1855.52,128.25 L1859.50,127.50 L1863.50,126.81 L1867.54,126.19 L1871.59,125.63 L1875.68,125.13 L1879.78,124.70 L1883.91,124.33 L1888.06,124.03 L1892.22,123.80 L1896.40,123.64 L1900.60,123.55 L1904.81,123.54 L1909.03,123.60 L1913.25,123.73 L1917.47,123.95 L1921.70,124.24 L1925.92,124.62 L1930.13,125.07 L1934.33,125.60 L1938.50,126.21 L1942.61,126.89 L1946.67,127.64 L1950.67,128.45 L1954.62,129.33 L1958.50,130.26 L1962.34,131.25 L1966.11,132.30 L1969.84,133.39 L1973.51,134.54 L1977.14,135.72 L1980.71,136.95 L1984.25,138.23 L1987.74,139.53 L1991.19,140.88 L1994.60,142.26 L1997.98,143.67 L2001.32,145.11 L2004.63,146.58 L2007.90,148.08 L2011.15,149.60 L2014.37,151.14 L2017.56,152.71 L2020.72,154.30 L2023.86,155.91 L2026.98,157.53 L2030.07,159.18 L2033.14,160.83 L2036.19,162.51 L2039.22,164.19 L2042.23,165.88 L2045.22,167.58 L2048.19,169.29 L2051.14,171.01 L2054.08,172.73 L2056.99,174.45 L2059.89,176.18 L2062.78,177.91 L2065.65,179.63 L2068.50,181.35 L2071.33,183.07 L2074.15,184.78 L2076.95,186.49 L2079.74,188.18 L2082.51,189.87 L2085.26,191.54 L2088.00,193.20 L2090.71,194.84 L2093.42,196.47 L2096.10,198.08 L2098.78,199.67 L2101.45,201.26 L2104.12,202.83 L2106.78,204.40 L2109.42,205.96 L2112.06,207.51 L2114.68,209.05 L2117.30,210.59 L2119.90,212.13 L2122.50,213.66 L2125.08,215.18 L2127.66,216.70 L2130.24,218.22 L2132.80,219.73 L2135.36,221.24 L2137.91,222.75 L2140.46,224.25 L2143.00,225.75 L2145.54,227.24 L2148.07,228.74 L2150.61,230.23 L2153.13,231.72 L2155.66,233.21 L2158.19,234.69 L2160.73,236.17 L2163.27,237.65 L2165.82,239.12 L2168.38,240.58 L2170.95,242.05 L2173.52,243.51 L2176.10,244.96 L2178.69,246.42 L2181.29,247.87 L2183.90,249.32 L2186.52,250.76 L2189.15,252.21 L2191.79,253.65 L2194.44,255.09 L2197.09,256.52 L2199.74,257.94 L2202.38,259.35 L2205.03,260.75 L2207.67,262.14 L2210.31,263.51 L2212.96,264.87 L2215.59,266.21 L2218.23,267.53 L2220.86,268.84 L2223.49,270.13 L2226.11,271.40 L2228.72,272.64 L2231.33,273.87 L2233.93,275.06 L2236.53,276.24 L2239.11,277.39 L2241.69,278.51 L2244.25,279.61 L2246.80,280.67 L2249.34,281.71 L2251.87,282.71 L2254.37,283.68 L2256.87,284.62 L2259.34,285.53 L2261.80,286.40 L2264.23,287.24 L2266.65,288.04 L2269.04,288.80 L2271.40,289.52 L2273.74,290.21 L2276.06,290.85 L2278.35,291.46 L2280.60,292.02 L2282.83,292.55 L2285.02,293.03 L2287.18,293.47 L2289.31,293.88 L2291.39,294.24 L2293.45,294.56 L2295.46,294.84 L2297.44,295.09 L2299.38,295.29 L2301.29,295.46 L2303.16,295.59 L2305.00,295.68 L2306.81,295.74 L2308.59,295.76 L2310.35,295.75 L2312.09,295.70 L2313.81,295.62 L2315.52,295.51 L2317.22,295.36 L2318.92,295.18 L2320.63,294.97 L2322.35,294.71 L2324.08,294.41 L2325.83,294.08 L2327.61,293.69 L2329.41,293.26 L2331.25,292.78 L2333.13,292.24 L2335.04,291.65 L2337.00,291.00 L2338.99,290.28 L2341.03,289.49 L2343.12,288.64 L2345.24,287.71 L2347.41,286.70 L2349.62,285.61 L2351.87,284.44 L2354.15,283.19 L2354.92,282.75 L2362.2,282.3 L2381.8,293.5 C2388.7,297.5 2401.8,303.8 2401.8,311.8 C2401.8,323.8 2375,336.9 2349.82,341.85 L2349.82,341.85 L2345.04,342.63 L2340.24,343.31 L2335.43,343.90 L2330.61,344.38 L2325.80,344.76 L2320.99,345.04 L2316.20,345.23 L2311.43,345.33 L2306.70,345.33 L2302.00,345.24 L2297.34,345.07 L2292.73,344.82 L2288.16,344.48 L2283.65,344.08 L2279.20,343.59 L2274.80,343.04 L2270.45,342.43 L2266.17,341.75 L2261.95,341.01 L2257.78,340.22 L2253.68,339.37 L2249.63,338.48 L2245.63,337.54 L2241.70,336.55 L2237.81,335.52 L2233.98,334.46 L2230.20,333.35 L2226.47,332.21 L2222.79,331.04 L2219.15,329.83 L2215.56,328.60 L2212.01,327.34 L2208.49,326.05 L2205.02,324.74 L2201.58,323.41 L2198.18,322.05 L2194.81,320.68 L2191.48,319.29 L2188.18,317.87 L2184.91,316.45 L2181.67,315.00 L2178.46,313.55 L2175.28,312.08 L2172.12,310.59 L2169.00,309.10 L2165.90,307.60 L2162.82,306.08 L2159.77,304.57 L2156.75,303.04 L2153.75,301.51 L2150.78,299.97 L2147.83,298.44 L2144.90,296.90 L2141.99,295.35 L2139.11,293.81 L2136.26,292.27 L2133.42,290.74 L2130.61,289.20 L2127.81,287.67 L2125.02,286.13 L2122.24,284.59 L2119.48,283.04 L2116.71,281.50 L2113.96,279.95 L2111.22,278.39 L2108.48,276.83 L2105.75,275.27 L2103.03,273.70 L2100.32,272.13 L2097.61,270.55 L2094.91,268.97 L2092.21,267.39 L2089.52,265.79 L2086.82,264.20 L2084.12,262.61 L2081.42,261.01 L2078.71,259.41 L2076.00,257.81 L2073.28,256.20 L2070.56,254.60 L2067.83,252.98 L2065.10,251.37 L2062.36,249.75 L2059.61,248.13 L2056.85,246.50 L2054.09,244.87 L2051.32,243.23 L2048.54,241.59 L2045.75,239.95 L2042.95,238.29 L2040.14,236.63 L2037.32,234.97 L2034.49,233.30 L2031.66,231.61 L2028.82,229.92 L2025.99,228.22 L2023.17,226.52 L2020.35,224.82 L2017.55,223.12 L2014.76,221.43 L2011.97,219.74 L2009.20,218.05 L2006.43,216.38 L2003.68,214.71 L2000.93,213.06 L1998.19,211.42 L1995.46,209.79 L1992.75,208.18 L1990.04,206.59 L1987.34,205.01 L1984.66,203.46 L1981.99,201.93 L1979.33,200.42 L1976.68,198.94 L1974.05,197.48 L1971.44,196.06 L1968.84,194.66 L1966.26,193.30 L1963.70,191.97 L1961.16,190.68 L1958.64,189.42 L1956.15,188.20 L1953.68,187.03 L1951.24,185.89 L1948.83,184.80 L1946.45,183.76 L1944.11,182.76 L1941.81,181.80 L1939.54,180.90 L1937.32,180.05 L1935.14,179.25 L1933.02,178.50 L1930.95,177.80 L1928.93,177.16 L1926.98,176.57 L1925.09,176.03 L1923.27,175.55 L1921.52,175.12 L1919.85,174.74 L1918.25,174.41 L1916.74,174.13 L1915.31,173.89 L1913.96,173.68 L1912.70,173.52 L1911.52,173.38 L1910.36,173.26 L1909.21,173.16 L1908.07,173.07 L1906.91,173.00 L1905.75,172.95 L1904.57,172.91 L1903.37,172.88 L1902.14,172.87 L1900.87,172.88 L1899.56,172.91 L1898.21,172.95 L1896.81,173.02 L1895.37,173.10 L1893.87,173.22 L1892.31,173.35 L1890.70,173.52 L1889.04,173.72 L1887.32,173.96 L1885.55,174.23 L1883.73,174.55 L1881.86,174.90 L1879.95,175.30 L1877.99,175.74 L1875.99,176.23 L1873.94,176.75 L1871.86,177.33 L1869.74,177.95 L1867.58,178.61 L1865.39,179.33 L1863.18,180.08 L1860.93,180.89 L1858.66,181.74 L1856.37,182.63 L1854.05,183.58 L1851.72,184.56 L1849.37,185.60 L1847.01,186.67 L1844.71,187.76 L1842.50,188.84 L1840.38,189.92 L1838.33,191.01 L1836.36,192.12 L1834.46,193.24 L1832.63,194.38 L1830.85,195.57 L1829.13,196.79 L1827.46,198.07 L1825.83,199.41 L1824.25,200.82 L1822.71,202.32 L1821.24,203.89 L1819.85,205.51 L1818.56,207.18 L1817.38,208.87 L1816.33,210.57 L1815.42,212.27 L1814.65,213.95 L1814.03,215.61 L1813.56,217.23 L1813.25,218.80 L1813.09,220.40 L1813.08,222.07 L1813.23,223.82 L1813.55,225.62 L1814.03,227.45 L1814.66,229.30 L1815.44,231.16 L1816.36,233.00 L1817.39,234.81 L1818.54,236.57 L1819.77,238.27 L1821.07,239.88 L1822.41,241.40 L1823.81,242.85 L1825.31,244.27 L1826.93,245.68 L1828.67,247.09 L1830.56,248.51 L1832.58,249.97 L1834.76,251.46 L1837.09,253.01 L1839.57,254.61 L1842.18,256.29 L1844.93,258.05 L1847.79,259.90 L1850.71,261.83 L1853.54,263.75 L1856.27,265.66 L1858.93,267.53 L1861.52,269.38 L1864.06,271.19 L1866.55,272.96 L1869.00,274.69 L1871.42,276.38 L1873.80,278.02 L1876.17,279.61 L1878.51,281.14 L1880.84,282.62 L1883.23,284.09 L1885.70,285.56 L1888.26,287.05 L1890.89,288.55 L1893.60,290.07 L1896.39,291.61 L1899.25,293.17 L1902.17,294.77 L1905.16,296.40 L1908.21,298.06 L1911.30,299.78 L1914.43,301.55 L1917.59,303.37 L1920.77,305.26 L1923.97,307.21 L1927.18,309.23 L1930.39,311.32 L1933.60,313.49 L1936.80,315.73 L1939.97,318.07 L1943.12,320.48 L1946.23,322.99 L1949.30,325.58 L1952.31,328.27 L1955.27,331.05 L1958.17,333.96 L1961.00,336.99 L1963.70,340.15 L1966.26,343.43 L1968.65,346.85 L1970.83,350.40 L1972.78,354.07 L1974.46,357.88 L1975.82,361.82 L1976.83,365.88 L1977.43,370.06 L1977.58,374.32 L1977.28,378.51 L1976.57,382.58 L1975.49,386.54 L1974.10,390.39 L1972.43,394.10 L1970.52,397.70 L1968.41,401.18 L1966.12,404.53 L1963.68,407.77 L1961.14,410.89 L1958.52,413.90 L1955.85,416.80 L1953.11,419.64 L1950.29,422.41 L1947.39,425.13 L1944.42,427.79 L1941.38,430.39 L1938.26,432.93 L1935.08,435.41 L1931.83,437.82 L1928.51,440.17 L1925.12,442.46 L1921.67,444.68 L1918.16,446.84 L1914.58,448.93 L1910.93,450.95 L1907.22,452.90 L1903.45,454.78 L1899.61,456.59 L1895.71,458.32 L1891.74,459.98 L1887.71,461.57 L1883.60,463.07 L1879.43,464.49 L1875.19,465.82 L1870.88,467.07 L1866.50,468.22 L1862.08,469.27 L1857.62,470.21 L1853.14,471.06 L1848.64,471.81 L1844.12,472.46 L1839.60,473.02 L1835.08,473.47 L1830.55,473.84 L1826.04,474.10 L1821.54,474.28 L1817.07,474.36 L1812.62,474.36 L1808.20,474.27 L1803.81,474.10 L1799.45,473.86 L1795.14,473.54 L1790.86,473.14 L1786.63,472.68 L1782.44,472.16 L1778.29,471.57 L1774.18,470.93 L1770.11,470.23 L1766.08,469.47 L1762.11,468.65 L1758.17,467.78 L1754.28,466.85 L1750.43,465.88 L1746.63,464.86 L1742.86,463.80 L1739.14,462.69 L1735.46,461.54 L1731.81,460.36 L1728.20,459.13 L1724.63,457.87 L1721.10,456.58 L1717.60,455.26 L1714.14,453.90 L1710.71,452.51 L1707.32,451.11 L1703.98,449.68 L1700.67,448.22 L1697.39,446.75 L1694.15,445.27 L1690.94,443.76 L1687.77,442.25 L1684.62,440.72 L1681.50,439.18 L1678.40,437.62 L1675.33,436.07 L1672.29,434.50 L1669.27,432.93 L1666.27,431.36 L1663.29,429.78 L1660.33,428.21 L1657.39,426.64 L1654.46,425.07 L1651.55,423.51 L1648.65,421.96 L1645.77,420.41 L1642.91,418.87 L1640.06,417.35 L1637.22,415.84 L1634.40,414.34 L1631.59,412.86 L1628.80,411.39 L1626.02,409.94 L1623.25,408.52 L1620.50,407.12 L1617.77,405.74 L1615.04,404.38 L1612.34,403.06 L1609.65,401.76 L1606.98,400.49 L1604.33,399.25 L1601.71,398.04 L1599.10,396.87 L1596.52,395.73 L1593.97,394.63 L1591.43,393.57 L1588.93,392.54 L1586.46,391.56 L1584.01,390.61 L1581.60,389.72 L1579.23,388.86 L1576.89,388.05 L1574.59,387.29 L1572.33,386.57 L1570.09,385.89 L1567.88,385.25 L1565.69,384.65 L1563.53,384.09 L1561.40,383.57 L1559.30,383.09 L1557.23,382.65 L1555.20,382.24 L1553.20,381.87 L1551.24,381.54 L1549.32,381.25 L1547.44,380.99 L1545.60,380.77 L1543.79,380.58 L1542.03,380.42 L1540.32,380.29 L1538.64,380.18 L1537.00,380.09 L1535.41,380.02 L1533.84,379.96 L1532.31,379.93 L1530.80,379.91 L1529.32,379.91 L1527.85,379.93 L1526.40,379.96 L1524.95,380.01 L1523.51,380.07 L1522.07,380.16 L1520.61,380.25 L1519.15,380.37 L1517.66,380.50 L1516.15,380.66 L1514.60,380.84 L1513.03,381.04 L1511.41,381.28 L1509.76,381.55 L1508.06,381.86 L1506.35,382.21 L1504.63,382.59 L1502.90,383.02 L1501.16,383.48 L1499.41,383.98 L1497.66,384.53 L1495.90,385.12 L1494.14,385.75 L1492.38,386.43 L1490.62,387.16 L1488.86,387.94 L1487.10,388.77 L1485.34,389.66 L1483.59,390.60 L1481.84,391.61 L1480.11,392.68 L1478.38,393.82 L1476.66,395.03 L1474.97,396.31 L1473.29,397.67 L1471.63,399.10 L1470.00,400.62 L1468.40,402.22 L1466.83,403.92 L1465.30,405.70 L1463.83,407.56 L1462.42,409.49 L1461.10,411.48 L1459.88,413.51 L1458.78,415.56 L1457.80,417.64 L1456.95,419.72 L1456.25,421.79 L1455.68,423.84 L1455.27,425.86 L1455.01,427.82 L1454.90,429.73 L1454.93,431.56 L1455.11,433.31 L1455.43,434.96 L1455.87,436.51 L1456.48,438.07 L1457.28,439.70 L1458.25,441.37 L1459.39,443.09 L1460.69,444.85 L1462.15,446.64 L1463.75,448.44 L1465.44,450.24 L1467.16,451.97 L1468.93,453.66 L1470.73,455.29 L1472.58,456.88 L1474.46,458.43 L1476.39,459.94 L1478.36,461.42 L1480.37,462.87 L1482.42,464.29 L1484.53,465.69 L1486.68,467.07 L1488.87,468.44 L1491.12,469.79 L1493.41,471.14 L1495.76,472.48 L1498.15,473.81 L1500.59,475.15 L1503.07,476.48 L1505.60,477.83 L1508.18,479.18 L1510.80,480.54 L1513.47,481.91 L1516.17,483.30 L1518.92,484.71 L1521.71,486.14 L1524.53,487.59 L1527.37,489.06 L1530.25,490.56 L1533.16,492.10 L1536.09,493.66 L1539.04,495.26 L1542.01,496.91 L1545.00,498.59 L1548.01,500.32 L1551.02,502.10 L1554.05,503.92 L1557.07,505.80 L1560.10,507.73 L1563.13,509.72 L1566.15,511.76 L1569.15,513.86 L1572.14,516.03 L1575.11,518.26 L1578.06,520.56 L1580.97,522.92 L1583.85,525.35 L1586.69,527.85 L1589.50,530.42 L1592.26,533.06 L1594.99,535.79 L1597.70,538.64 L1600.39,541.62 L1603.01,544.72 L1605.54,547.95 L1607.95,551.31 L1610.20,554.79 L1612.27,558.41 L1614.11,562.16 L1615.68,566.03 L1616.95,570.04 L1617.86,574.16 L1618.38,578.38 L1618.48,582.53 L1618.19,586.60 L1617.57,590.58 L1616.65,594.47 L1615.46,598.27 L1614.02,601.97 L1612.38,605.58 L1610.55,609.08 L1608.55,612.49 L1606.41,615.79 L1604.15,618.99 L1601.77,622.08 L1599.28,625.10 L1596.68,628.04 L1593.97,630.91 L1591.15,633.70 L1588.22,636.42 L1585.20,639.05 L1582.08,641.61 L1578.86,644.09 L1575.55,646.49 L1572.15,648.81 L1568.66,651.05 L1565.10,653.21 L1561.45,655.28 L1557.73,657.28 L1553.93,659.19 L1550.07,661.02 L1546.14,662.76 L1542.15,664.42 L1538.10,665.99 L1534.00,667.48 L1529.85,668.89 L1525.65,670.21 L1521.41,671.44 L1517.12,672.59 L1512.81,673.65 L1508.46,674.62 L1504.08,675.51 L1499.69,676.32 L1495.28,677.06 L1490.85,677.71 L1486.42,678.28 L1481.97,678.78 L1477.51,679.19 L1473.05,679.53 L1468.58,679.78 L1464.12,679.96 L1459.65,680.05 L1455.21,680.07 L1450.80,680.00 L1446.42,679.86 L1442.08,679.65 L1437.77,679.37 L1433.49,679.01 L1429.26,678.60 L1425.07,678.12 L1420.92,677.58 L1416.82,676.98 L1412.76,676.31 L1408.75,675.59 L1404.79,674.82 L1400.88,673.99 L1397.01,673.11 L1393.19,672.18 L1389.41,671.21 L1385.68,670.20 L1382.00,669.15 L1378.35,668.06 L1374.75,666.94 L1371.18,665.78 L1367.66,664.59 L1364.17,663.37 L1360.71,662.12 L1357.29,660.84 L1353.90,659.54 L1350.54,658.22 L1347.21,656.87 L1343.91,655.51 L1340.64,654.12 L1337.39,652.72 L1334.17,651.30 L1330.97,649.87 L1327.80,648.42 L1324.65,646.96 L1321.52,645.49 L1318.41,644.01 L1315.32,642.52 L1312.26,641.02 L1309.22,639.51 L1306.20,638.00 L1303.20,636.48 L1300.23,634.96 L1297.28,633.44 L1294.35,631.91 L1291.44,630.38 L1288.55,628.85 L1285.68,627.33 L1282.84,625.81 L1280.02,624.30 L1277.22,622.79 L1274.45,621.30 L1271.69,619.82 L1268.97,618.35 L1266.26,616.89 L1263.57,615.46 L1260.91,614.04 L1258.27,612.63 L1255.65,611.25 L1253.05,609.90 L1250.46,608.57 L1247.90,607.27 L1245.35,606.00 L1242.82,604.75 L1240.31,603.54 L1237.82,602.36 L1235.36,601.22 L1232.91,600.11 L1230.49,599.04 L1228.10,598.01 L1225.73,597.01 L1223.38,596.06 L1221.07,595.15 L1218.79,594.28 L1216.53,593.45 L1214.31,592.67 L1212.13,591.93 L1209.98,591.24 L1207.86,590.59 L1205.79,589.98 L1203.76,589.43 L1201.76,588.91 L1199.81,588.44 L1197.90,588.01 L1196.03,587.63 L1194.19,587.28 L1192.36,586.97 L1190.54,586.69 L1188.73,586.45 L1186.93,586.23 L1185.14,586.05 L1183.36,585.90 L1181.59,585.78 L1179.84,585.69 L1178.10,585.63 L1176.37,585.59 L1174.66,585.58 L1172.95,585.61 L1171.26,585.65 L1169.57,585.73 L1167.90,585.83 L1166.23,585.96 L1164.56,586.12 L1162.90,586.31 L1161.25,586.52 L1159.59,586.77 L1157.94,587.04 L1156.28,587.34 L1154.62,587.68 L1152.95,588.04 L1151.28,588.44 L1149.61,588.88 L1147.92,589.35 L1146.23,589.86 L1144.53,590.41 L1142.82,591.01 L1141.10,591.65 L1139.37,592.33 L1137.64,593.07 L1135.90,593.85 L1134.15,594.68 L1132.39,595.57 L1130.63,596.51 L1128.87,597.50 L1127.10,598.56 L1125.34,599.68 L1123.57,600.85 L1121.81,602.09 L1120.05,603.40 L1118.30,604.77 L1116.56,606.20 L1114.83,607.71 L1113.12,609.28 L1111.42,610.93 L1109.76,612.64 L1108.19,614.35 L1106.74,616.04 L1105.42,617.70 L1104.25,619.32 L1103.21,620.90 L1102.30,622.42 L1101.53,623.87 L1100.90,625.26 L1100.40,626.57 L1100.03,627.82 L1099.77,629.00 L1099.62,630.19 L1099.60,631.54 L1099.72,633.03 L1099.99,634.64 L1100.42,636.34 L1101.01,638.10 L1101.73,639.91 L1102.59,641.73 L1103.57,643.55 L1104.64,645.33 L1105.78,647.07 L1106.96,648.73 L1108.20,650.32 L1109.52,651.88 L1110.95,653.42 L1112.48,654.93 L1114.13,656.45 L1115.90,657.98 L1117.80,659.52 L1119.83,661.09 L1121.99,662.69 L1124.27,664.34 L1126.68,666.03 L1129.21,667.78 L1131.82,669.59 L1134.42,671.41 L1136.99,673.21 L1139.53,675.00 L1142.06,676.77 L1144.58,678.52 L1147.09,680.25 L1149.59,681.97 L1152.09,683.66 L1154.59,685.33 L1157.10,686.98 L1159.60,688.61 L1162.12,690.22 L1164.64,691.81 L1167.17,693.38 L1169.71,694.93 L1172.27,696.45 L1174.85,697.96 L1177.45,699.44 L1180.07,700.90 L1182.71,702.34 L1185.37,703.76 L1188.06,705.16 L1190.77,706.54 L1193.50,707.90 L1196.26,709.27 L1199.16,710.71 L1202.21,712.22 L1205.39,713.82 L1208.68,715.51 L1212.08,717.32 L1215.57,719.24 L1219.11,721.28 L1222.70,723.47 L1226.31,725.79 L1229.90,728.27 L1233.46,730.91 L1236.95,733.70 L1240.31,736.63 L1243.51,739.67 L1246.56,742.82 L1249.44,746.08 L1252.13,749.46 L1254.60,752.95 L1256.84,756.56 L1258.83,760.27 L1260.54,764.09 L1261.95,768.01 L1263.02,772.03 L1263.74,776.15 L1264.08,780.33 L1264.03,784.46 L1263.62,788.52 L1262.90,792.49 L1261.90,796.38 L1260.64,800.19 L1259.15,803.90 L1257.47,807.52 L1255.60,811.05 L1253.59,814.48 L1251.43,817.82 L1249.17,821.06 L1246.80,824.19 L1244.34,827.26 L1241.77,830.27 L1239.12,833.21 L1236.37,836.09 L1233.53,838.90 L1230.60,841.64 L1227.59,844.32 L1224.50,846.93 L1221.32,849.47 L1218.06,851.95 L1214.72,854.35 L1211.30,856.68 L1207.80,858.95 L1204.23,861.14 L1200.58,863.26 L1196.86,865.31 L1193.07,867.28 L1189.20,869.17 L1185.25,870.99 L1181.24,872.73 L1177.14,874.39 L1172.98,875.97 L1168.74,877.46 L1164.43,878.87 L1160.06,880.18 L1155.64,881.40 L1151.16,882.52 L1146.64,883.54 L1142.08,884.47 L1137.49,885.29 L1132.86,886.01 L1128.22,886.63 L1123.57,887.15 L1118.91,887.56 L1114.25,887.88 L1109.60,888.10 L1104.97,888.23 L1100.37,888.26 L1095.79,888.20 L1091.24,888.05 L1086.74,887.81 L1082.28,887.50 L1077.86,887.10 L1073.49,886.63 L1069.17,886.09 L1064.91,885.48 L1060.69,884.80 L1056.53,884.06 L1052.42,883.26 L1048.37,882.40 L1044.36,881.49 L1040.41,880.53 L1036.51,879.52 L1032.65,878.47 L1028.85,877.37 L1025.09,876.22 L1021.38,875.04 L1017.71,873.81 L1014.08,872.55 L1010.50,871.25 L1006.95,869.92 L1003.45,868.55 L999.98,867.16 L996.56,865.73 L993.17,864.27 L989.81,862.78 L986.49,861.27 L983.20,859.73 L979.95,858.17 L976.73,856.58 L973.54,854.97 L970.38,853.33 L967.26,851.68 L964.16,850.01 L961.11,848.32 L958.09,846.62 L955.12,844.92 L952.17,843.22 L949.24,841.52 L946.35,839.83 L943.47,838.14 L940.62,836.46 L937.78,834.79 L934.97,833.12 L932.17,831.47 L929.38,829.83 L926.61,828.21 L923.86,826.61 L921.11,825.03 L918.38,823.47 L915.66,821.93 L912.96,820.41 L910.26,818.93 L907.57,817.47 L904.90,816.05 L902.24,814.66 L899.60,813.30 L896.98,811.97 L894.39,810.68 L891.82,809.42 L889.27,808.20 L886.76,807.03 L884.27,805.89 L881.81,804.80 L879.38,803.75 L876.98,802.75 L874.62,801.80 L872.30,800.90 L870.02,800.05 L867.78,799.25 L865.58,798.51 L863.42,797.82 L861.28,797.16 L859.15,796.55 L857.04,795.97 L854.95,795.44 L852.88,794.95 L850.84,794.49 L848.82,794.07 L846.82,793.69 L844.85,793.35 L842.90,793.04 L840.98,792.77 L839.09,792.53 L837.23,792.33 L835.40,792.16 L833.59,792.01 L831.82,791.89 L830.07,791.80 L828.34,791.73 L826.64,791.68 L824.96,791.66 L823.30,791.66 L821.66,791.68 L820.03,791.72 L818.41,791.78 L816.80,791.87 L815.19,791.98 L813.59,792.11 L811.98,792.26 L810.37,792.43 L808.75,792.63 L807.11,792.86 L805.46,793.11 L803.80,793.39 L802.11,793.70 L800.41,794.05 L798.69,794.43 L796.94,794.85 L795.17,795.31 L793.38,795.82 L791.57,796.37 L789.73,796.96 L787.86,797.60 L785.97,798.29 L784.06,799.03 L782.12,799.82 L780.16,800.67 L778.18,801.57 L776.18,802.53 L774.17,803.55 L772.18,804.60 L770.23,805.68 L768.31,806.81 L766.43,807.98 L764.59,809.19 L762.78,810.44 L761.01,811.75 L759.27,813.10 L757.59,814.52 L755.94,815.99 L754.34,817.52 L752.78,819.12 L751.28,820.79 L749.85,822.52 L748.51,824.28 L747.25,826.07 L746.10,827.88 L745.06,829.68 L744.15,831.48 L743.37,833.24 L742.72,834.97 L742.21,836.65 L741.84,838.28 L741.61,839.84 L741.51,841.37 L741.55,842.97 L741.74,844.62 L742.06,846.32 L742.53,848.04 L743.13,849.78 L743.86,851.51 L744.70,853.22 L745.64,854.89 L746.67,856.51 L747.76,858.05 L748.90,859.51 L750.12,860.91 L751.44,862.28 L752.88,863.64 L754.44,865.01 L756.14,866.38 L757.98,867.78 L759.97,869.20 L762.10,870.66 L764.39,872.16 L766.81,873.72 L769.38,875.33 L772.07,877.01 L774.85,878.75 L777.60,880.49 L780.31,882.22 L782.97,883.94 L785.61,885.63 L788.21,887.31 L790.79,888.97 L793.34,890.61 L795.88,892.23 L798.39,893.83 L800.89,895.41 L803.38,896.96 L805.85,898.49 L808.33,900.00 L810.82,901.50 L813.32,902.98 L815.83,904.45 L818.35,905.91 L820.90,907.35 L823.46,908.78 L826.04,910.21 L828.64,911.62 L831.27,913.02 L833.92,914.42 L836.59,915.81 L839.33,917.23 L842.23,918.73 L845.28,920.32 L848.45,922.01 L851.74,923.81 L855.12,925.73 L858.56,927.78 L862.05,929.97 L865.54,932.30 L869.02,934.79 L872.45,937.44 L875.80,940.24 L879.05,943.21 L882.12,946.30 L884.99,949.48 L887.68,952.74 L890.17,956.09 L892.47,959.51 L894.57,963.01 L896.45,966.58 L898.10,970.22 L899.51,973.91 L900.66,977.66 L901.53,981.47 L902.10,985.34 L902.33,989.20 L902.24,993.02 L901.83,996.79 L901.12,1000.49 L900.14,1004.12 L898.89,1007.67 L897.40,1011.15 L895.68,1014.55 L893.76,1017.87 L891.65,1021.11 L889.36,1024.26 L886.92,1027.33 L884.34,1030.32 L881.63,1033.22 L878.82,1036.05 L875.90,1038.79 L872.90,1041.45 L869.83,1044.04 L866.69,1046.55 L863.51,1048.98 L860.29,1051.33 L857.04,1053.61 L853.78,1055.82 L850.51,1057.95 L847.24,1060.01 L843.93,1062.02 L840.59,1063.98 L837.20,1065.90 L833.78,1067.76 L830.30,1069.58 L826.78,1071.34 L823.21,1073.05 L819.59,1074.70 L815.91,1076.30 L812.17,1077.84 L808.37,1079.31 L804.50,1080.73 L800.57,1082.08 L796.57,1083.36 L792.50,1084.57 L788.36,1085.72 L784.16,1086.78 L779.88,1087.77 L775.52,1088.68 L771.10,1089.50 L766.62,1090.23 L762.06,1090.87 L757.45,1091.41 L752.78,1091.84 L748.10,1092.17 L743.41,1092.39 L738.75,1092.51 L734.10,1092.53 L729.48,1092.46 L724.89,1092.29 L720.33,1092.03 L715.82,1091.68 L711.34,1091.25 L706.91,1090.75 L702.53,1090.16 L698.19,1089.51 L693.90,1088.78 L689.66,1087.98 L685.47,1087.11 L681.34,1086.19 L677.25,1085.20 L673.21,1084.16 L669.22,1083.06 L665.28,1081.91 L661.39,1080.70 L657.54,1079.45 L653.75,1078.15 L650.00,1076.81 L646.29,1075.42 L642.64,1074.00 L639.05,1072.54 L635.52,1071.06 L632.04,1069.54 L628.60,1068.00 L625.22,1066.43 L621.88,1064.84 L618.59,1063.23 L615.34,1061.60 L612.13,1059.95 L608.96,1058.29 L605.82,1056.61 L602.71,1054.92 L599.64,1053.22 L596.60,1051.51 L593.59,1049.80 L590.61,1048.08 L587.65,1046.35 L584.72,1044.62 L581.81,1042.89 L578.93,1041.16 L576.07,1039.44 L573.23,1037.71 L570.41,1035.99 L567.61,1034.28 L564.82,1032.58 L562.06,1030.88 L559.31,1029.20 L556.59,1027.53 L553.87,1025.88 L551.18,1024.24 L548.50,1022.62 L545.84,1021.02 L543.19,1019.44 L540.56,1017.88 L537.94,1016.35 L535.34,1014.85 L532.75,1013.36 L530.14,1011.89 L527.53,1010.43 L524.91,1008.98 L522.29,1007.54 L519.66,1006.12 L517.02,1004.70 L514.38,1003.30 L511.73,1001.91 L509.07,1000.52 L506.41,999.15 L503.74,997.79 L501.06,996.43 L498.37,995.09 L495.68,993.75 L492.99,992.42 L490.31,991.08 L487.63,989.75 L484.95,988.41 L482.28,987.08 L479.62,985.74 L476.96,984.40 L474.31,983.06 L471.66,981.72 L469.01,980.37 L466.37,979.02 L463.73,977.67 L461.10,976.31 L458.47,974.95 L455.84,973.58 L453.22,972.21 L450.60,970.83 L447.99,969.45 L445.38,968.06 L442.77,966.67 L440.16,965.28 L437.54,963.88 L434.91,962.49 L432.27,961.10 L429.63,959.71 L426.97,958.31 L424.31,956.92 L421.65,955.53 L418.97,954.14 L416.29,952.75 L413.60,951.35 L410.90,949.96 L408.20,948.56 L405.49,947.16 L402.78,945.76 L400.09,944.37 L397.43,943.00 L394.80,941.66 L392.21,940.33 L389.65,939.04 L387.13,937.77 L384.63,936.53 L382.17,935.32 L379.75,934.14 L377.35,933.01 L375.00,931.91 L372.68,930.85 L370.40,929.83 L368.16,928.85 L365.96,927.92 L363.80,927.04 L361.69,926.20 L359.63,925.41 L357.63,924.67 L355.67,923.98 L353.77,923.34 L351.92,922.76 L350.13,922.23 L348.40,921.75 L346.73,921.33 L345.13,920.96 L343.58,920.64 L342.09,920.36 L340.67,920.14 L339.29,919.95 L337.93,919.80 L336.56,919.69 L335.16,919.61 L333.74,919.57 L332.30,919.57 L330.84,919.60 L329.37,919.66 L327.87,919.77 L326.35,919.92 L324.81,920.10 L323.26,920.32 L321.68,920.58 L320.09,920.87 L318.47,921.21 L316.84,921.58 L315.19,921.99 L313.53,922.45 L311.85,922.94 L310.16,923.48 L308.46,924.07 L306.75,924.70 L305.04,925.38 L303.32,926.11 L301.60,926.88 L299.87,927.70 L298.15,928.58 L296.43,929.51 L294.72,930.48 L293.02,931.52 L291.34,932.60 L289.67,933.74 L288.02,934.94 L287.47,935.35 Z" fill="#e7e7e7"/>
<path transform="translate(0,2.2)" d="M271.3,936.5 L237.6,916.2 C235,914.6 231.9,908.9 231.9,904.9 C231.9,894.9 249.8,890 263.32,887.17 L263.32,887.17 L267.18,885.73 L271.09,884.37 L275.07,883.09 L279.11,881.87 L283.20,880.74 L287.34,879.67 L291.54,878.69 L295.79,877.78 L300.08,876.96 L304.42,876.21 L308.81,875.55 L313.24,874.98 L317.70,874.50 L322.20,874.12 L326.73,873.84 L331.29,873.66 L335.86,873.59 L340.44,873.62 L345.02,873.76 L349.60,874.00 L354.17,874.36 L358.68,874.81 L363.11,875.36 L367.45,876.00 L371.71,876.72 L375.89,877.51 L379.97,878.38 L383.97,879.31 L387.89,880.30 L391.72,881.34 L395.47,882.43 L399.15,883.56 L402.76,884.73 L406.30,885.93 L409.78,887.16 L413.21,888.42 L416.58,889.70 L419.90,891.00 L423.16,892.32 L426.39,893.65 L429.57,895.00 L432.70,896.35 L435.80,897.72 L438.86,899.09 L441.89,900.46 L444.88,901.84 L447.84,903.21 L450.76,904.58 L453.66,905.95 L456.53,907.30 L459.37,908.65 L462.20,909.99 L465.03,911.34 L467.86,912.68 L470.70,914.03 L473.54,915.39 L476.38,916.74 L479.22,918.10 L482.06,919.46 L484.90,920.83 L487.75,922.20 L490.60,923.58 L493.44,924.96 L496.29,926.34 L499.14,927.73 L501.99,929.13 L504.84,930.53 L507.70,931.93 L510.56,933.34 L513.43,934.75 L516.30,936.17 L519.18,937.59 L522.06,939.01 L524.95,940.44 L527.83,941.88 L530.73,943.32 L533.62,944.77 L536.53,946.22 L539.43,947.68 L542.34,949.15 L545.25,950.62 L548.16,952.10 L551.08,953.59 L554.00,955.09 L556.93,956.60 L559.86,958.11 L562.78,959.64 L565.71,961.18 L568.63,962.73 L571.55,964.30 L574.46,965.88 L577.37,967.47 L580.28,969.08 L583.18,970.70 L586.08,972.33 L588.98,973.98 L591.87,975.65 L594.76,977.33 L597.64,979.03 L600.52,980.74 L603.39,982.47 L606.25,984.21 L609.08,985.95 L611.89,987.69 L614.68,989.44 L617.46,991.18 L620.21,992.92 L622.95,994.65 L625.67,996.38 L628.38,998.10 L631.07,999.82 L633.75,1001.52 L636.42,1003.21 L639.07,1004.89 L641.71,1006.55 L644.33,1008.19 L646.95,1009.81 L649.55,1011.42 L652.14,1013.00 L654.72,1014.56 L657.29,1016.09 L659.84,1017.60 L662.38,1019.08 L664.91,1020.53 L667.43,1021.94 L669.93,1023.33 L672.42,1024.67 L674.90,1025.99 L677.36,1027.26 L679.80,1028.49 L682.23,1029.69 L684.63,1030.84 L687.02,1031.94 L689.38,1033.01 L691.72,1034.02 L694.04,1034.99 L696.33,1035.91 L698.60,1036.78 L700.84,1037.61 L703.06,1038.39 L705.27,1039.13 L707.45,1039.82 L709.60,1040.46 L711.71,1041.06 L713.80,1041.62 L715.84,1042.12 L717.84,1042.58 L719.79,1042.99 L721.69,1043.36 L723.54,1043.68 L725.34,1043.95 L727.07,1044.19 L728.75,1044.38 L730.36,1044.53 L731.91,1044.65 L733.39,1044.74 L734.81,1044.80 L736.18,1044.83 L737.49,1044.83 L738.74,1044.81 L739.96,1044.77 L741.14,1044.70 L742.29,1044.62 L743.45,1044.51 L744.66,1044.37 L745.92,1044.20 L747.24,1044.00 L748.62,1043.76 L750.07,1043.48 L751.59,1043.15 L753.18,1042.78 L754.84,1042.35 L756.57,1041.87 L758.37,1041.33 L760.24,1040.73 L762.17,1040.07 L764.16,1039.34 L766.20,1038.54 L768.30,1037.68 L770.45,1036.75 L772.65,1035.75 L774.88,1034.68 L777.16,1033.55 L779.48,1032.35 L781.83,1031.08 L784.22,1029.74 L786.63,1028.34 L789.06,1026.88 L791.46,1025.38 L793.83,1023.86 L796.15,1022.30 L798.41,1020.72 L800.62,1019.12 L802.75,1017.49 L804.79,1015.85 L806.76,1014.20 L808.62,1012.53 L810.39,1010.85 L812.04,1009.16 L813.59,1007.48 L815.01,1005.79 L816.30,1004.10 L817.46,1002.41 L818.50,1000.72 L819.40,999.04 L820.16,997.37 L820.78,995.70 L821.27,994.02 L821.62,992.35 L821.82,990.68 L821.88,988.99 L821.79,987.28 L821.53,985.48 L821.11,983.60 L820.51,981.66 L819.75,979.68 L818.84,977.69 L817.79,975.70 L816.61,973.75 L815.31,971.84 L813.93,970.01 L812.49,968.27 L811.00,966.64 L809.51,965.15 L807.98,963.77 L806.38,962.44 L804.71,961.15 L802.94,959.90 L801.07,958.65 L799.08,957.40 L796.96,956.14 L794.71,954.85 L792.32,953.54 L789.79,952.18 L787.11,950.76 L784.30,949.28 L781.37,947.74 L778.45,946.18 L775.55,944.62 L772.68,943.06 L769.84,941.50 L767.02,939.93 L764.23,938.35 L761.46,936.78 L758.70,935.19 L755.97,933.61 L753.25,932.01 L750.55,930.41 L747.86,928.81 L745.20,927.20 L742.56,925.60 L739.95,924.00 L737.36,922.41 L734.78,920.83 L732.22,919.25 L729.67,917.68 L727.13,916.12 L724.60,914.57 L722.07,913.03 L719.54,911.50 L717.00,909.98 L714.42,908.45 L711.68,906.84 L708.80,905.15 L705.81,903.36 L702.70,901.47 L699.52,899.47 L696.27,897.35 L693.00,895.10 L689.71,892.71 L686.45,890.19 L683.24,887.52 L680.12,884.69 L677.11,881.72 L674.26,878.62 L671.61,875.42 L669.15,872.12 L666.88,868.73 L664.83,865.25 L662.99,861.69 L661.40,858.04 L660.06,854.31 L659.00,850.50 L658.24,846.62 L657.80,842.67 L657.72,838.67 L658.00,834.73 L658.59,830.85 L659.47,827.05 L660.62,823.32 L662.01,819.67 L663.62,816.10 L665.43,812.61 L667.41,809.21 L669.55,805.90 L671.84,802.67 L674.27,799.54 L676.82,796.51 L679.50,793.57 L682.30,790.73 L685.20,787.97 L688.20,785.31 L691.29,782.75 L694.46,780.27 L697.71,777.89 L701.02,775.60 L704.38,773.40 L707.78,771.28 L711.23,769.26 L714.69,767.31 L718.19,765.45 L721.74,763.65 L725.34,761.91 L728.99,760.24 L732.70,758.63 L736.45,757.08 L740.26,755.61 L744.11,754.19 L748.01,752.85 L751.96,751.58 L755.96,750.37 L759.99,749.24 L764.07,748.17 L768.18,747.18 L772.33,746.26 L776.51,745.41 L780.73,744.63 L784.97,743.94 L789.24,743.32 L793.52,742.78 L797.83,742.32 L802.15,741.93 L806.47,741.62 L810.81,741.39 L815.14,741.24 L819.47,741.17 L823.79,741.17 L828.11,741.24 L832.41,741.39 L836.69,741.62 L840.96,741.91 L845.20,742.28 L849.41,742.72 L853.60,743.22 L857.75,743.80 L861.87,744.44 L865.96,745.14 L870.01,745.90 L874.03,746.73 L878.00,747.61 L881.94,748.54 L885.84,749.54 L889.70,750.58 L893.51,751.68 L897.29,752.83 L901.02,754.04 L904.71,755.29 L908.36,756.59 L911.97,757.94 L915.52,759.34 L919.02,760.77 L922.44,762.24 L925.80,763.73 L929.10,765.25 L932.34,766.79 L935.53,768.36 L938.67,769.95 L941.76,771.55 L944.80,773.17 L947.81,774.80 L950.77,776.45 L953.70,778.11 L956.60,779.77 L959.46,781.44 L962.29,783.12 L965.10,784.80 L967.89,786.48 L970.66,788.15 L973.42,789.82 L976.16,791.48 L978.89,793.14 L981.60,794.78 L984.31,796.41 L987.01,798.03 L989.70,799.63 L992.38,801.22 L995.05,802.79 L997.71,804.33 L1000.37,805.86 L1003.03,807.35 L1005.68,808.83 L1008.32,810.27 L1010.95,811.68 L1013.58,813.06 L1016.20,814.41 L1018.81,815.72 L1021.41,817.00 L1024.00,818.25 L1026.58,819.47 L1029.17,820.66 L1031.75,821.82 L1034.32,822.95 L1036.88,824.04 L1039.44,825.10 L1041.98,826.13 L1044.51,827.11 L1047.02,828.07 L1049.52,828.98 L1052.00,829.86 L1054.45,830.69 L1056.89,831.49 L1059.30,832.25 L1061.68,832.96 L1064.03,833.63 L1066.34,834.27 L1068.63,834.85 L1070.87,835.40 L1073.08,835.91 L1075.25,836.37 L1077.37,836.79 L1079.45,837.16 L1081.48,837.50 L1083.47,837.80 L1085.40,838.05 L1087.28,838.27 L1089.11,838.45 L1090.89,838.60 L1092.62,838.71 L1094.30,838.79 L1095.93,838.85 L1097.51,838.87 L1099.06,838.87 L1100.56,838.84 L1102.04,838.78 L1103.49,838.70 L1104.92,838.60 L1106.33,838.47 L1107.74,838.31 L1109.14,838.12 L1110.55,837.91 L1111.98,837.67 L1113.43,837.39 L1114.90,837.07 L1116.40,836.72 L1117.94,836.32 L1119.52,835.88 L1121.14,835.38 L1122.81,834.82 L1124.53,834.20 L1126.30,833.52 L1128.11,832.77 L1129.96,831.95 L1131.84,831.07 L1133.74,830.12 L1135.66,829.10 L1137.60,828.01 L1139.55,826.86 L1141.50,825.64 L1143.45,824.35 L1145.40,823.00 L1147.33,821.58 L1149.25,820.09 L1151.16,818.54 L1153.04,816.92 L1154.90,815.23 L1156.72,813.48 L1158.51,811.67 L1160.27,809.79 L1161.98,807.85 L1163.65,805.85 L1165.27,803.79 L1166.82,801.67 L1168.27,799.54 L1169.61,797.39 L1170.81,795.25 L1171.88,793.13 L1172.80,791.03 L1173.56,788.98 L1174.16,786.97 L1174.59,785.03 L1174.85,783.17 L1174.94,781.40 L1174.87,779.72 L1174.64,778.11 L1174.25,776.46 L1173.70,774.79 L1172.99,773.11 L1172.13,771.42 L1171.13,769.74 L1169.99,768.08 L1168.72,766.45 L1167.36,764.86 L1165.90,763.33 L1164.37,761.86 L1162.79,760.46 L1161.18,759.15 L1159.53,757.91 L1157.79,756.71 L1155.96,755.51 L1154.02,754.32 L1151.97,753.12 L1149.79,751.89 L1147.48,750.64 L1145.02,749.35 L1142.43,748.00 L1139.68,746.60 L1136.80,745.12 L1133.78,743.57 L1130.67,741.95 L1127.60,740.32 L1124.57,738.70 L1121.59,737.08 L1118.66,735.45 L1115.79,733.81 L1112.96,732.18 L1110.18,730.54 L1107.45,728.90 L1104.76,727.25 L1102.11,725.61 L1099.50,723.97 L1096.92,722.32 L1094.38,720.68 L1091.87,719.03 L1089.38,717.38 L1086.93,715.74 L1084.49,714.09 L1082.08,712.45 L1079.69,710.80 L1077.32,709.15 L1074.95,707.51 L1072.60,705.86 L1070.25,704.21 L1067.89,702.57 L1065.45,700.90 L1062.85,699.13 L1060.10,697.27 L1057.24,695.30 L1054.27,693.22 L1051.22,691.02 L1048.11,688.69 L1044.98,686.23 L1041.84,683.64 L1038.74,680.91 L1035.69,678.03 L1032.73,675.02 L1029.88,671.85 L1027.17,668.58 L1024.64,665.20 L1022.30,661.73 L1020.15,658.16 L1018.21,654.50 L1016.51,650.75 L1015.06,646.92 L1013.90,643.00 L1013.06,639.00 L1012.57,634.93 L1012.48,630.78 L1012.83,626.60 L1013.61,622.53 L1014.77,618.59 L1016.26,614.79 L1018.05,611.13 L1020.07,607.61 L1022.30,604.23 L1024.70,600.98 L1027.23,597.87 L1029.87,594.89 L1032.58,592.05 L1035.35,589.33 L1038.16,586.71 L1041.04,584.17 L1043.99,581.70 L1047.01,579.30 L1050.10,576.97 L1053.25,574.71 L1056.48,572.52 L1059.76,570.40 L1063.11,568.35 L1066.53,566.37 L1070.00,564.46 L1073.53,562.63 L1077.12,560.87 L1080.77,559.18 L1084.47,557.57 L1088.21,556.03 L1092.01,554.56 L1095.85,553.17 L1099.74,551.85 L1103.67,550.61 L1107.63,549.45 L1111.63,548.36 L1115.66,547.35 L1119.72,546.41 L1123.79,545.54 L1127.89,544.73 L1132.00,544.00 L1136.13,543.34 L1140.28,542.74 L1144.43,542.21 L1148.60,541.76 L1152.77,541.36 L1156.95,541.04 L1161.13,540.78 L1165.32,540.59 L1169.50,540.47 L1173.68,540.41 L1177.86,540.42 L1182.03,540.49 L1186.19,540.62 L1190.35,540.82 L1194.49,541.07 L1198.62,541.40 L1202.73,541.79 L1206.83,542.24 L1210.90,542.77 L1214.96,543.36 L1218.98,544.01 L1222.98,544.73 L1226.94,545.51 L1230.86,546.35 L1234.72,547.25 L1238.53,548.19 L1242.28,549.18 L1245.98,550.22 L1249.63,551.29 L1253.23,552.41 L1256.79,553.57 L1260.30,554.76 L1263.76,555.98 L1267.18,557.24 L1270.56,558.52 L1273.90,559.83 L1277.21,561.17 L1280.48,562.53 L1283.71,563.91 L1286.92,565.31 L1290.09,566.73 L1293.23,568.17 L1296.35,569.62 L1299.43,571.09 L1302.50,572.57 L1305.54,574.05 L1308.55,575.55 L1311.55,577.06 L1314.52,578.57 L1317.48,580.08 L1320.41,581.61 L1323.33,583.13 L1326.23,584.65 L1329.10,586.18 L1331.97,587.70 L1334.81,589.22 L1337.64,590.73 L1340.45,592.24 L1343.25,593.75 L1346.04,595.24 L1348.81,596.72 L1351.57,598.20 L1354.32,599.66 L1357.06,601.11 L1359.79,602.55 L1362.50,603.97 L1365.21,605.38 L1367.90,606.76 L1370.58,608.13 L1373.25,609.48 L1375.90,610.81 L1378.55,612.12 L1381.18,613.40 L1383.80,614.65 L1386.40,615.87 L1388.99,617.07 L1391.57,618.24 L1394.12,619.37 L1396.67,620.48 L1399.19,621.55 L1401.69,622.58 L1404.17,623.58 L1406.63,624.54 L1409.07,625.47 L1411.48,626.35 L1413.87,627.20 L1416.22,628.00 L1418.55,628.76 L1420.85,629.48 L1423.11,630.16 L1425.34,630.80 L1427.54,631.39 L1429.70,631.94 L1431.82,632.45 L1433.89,632.91 L1435.93,633.34 L1437.93,633.72 L1439.88,634.05 L1441.80,634.35 L1443.67,634.61 L1445.50,634.83 L1447.29,635.02 L1449.05,635.17 L1450.77,635.29 L1452.46,635.38 L1454.13,635.44 L1455.79,635.47 L1457.42,635.47 L1459.06,635.44 L1460.69,635.38 L1462.36,635.29 L1464.05,635.17 L1465.76,635.01 L1467.49,634.82 L1469.25,634.60 L1471.02,634.34 L1472.82,634.04 L1474.63,633.71 L1476.46,633.34 L1478.31,632.92 L1480.16,632.47 L1482.03,631.97 L1483.91,631.43 L1485.79,630.83 L1487.68,630.20 L1489.57,629.51 L1491.46,628.77 L1493.35,627.98 L1495.24,627.14 L1497.12,626.25 L1498.99,625.30 L1500.86,624.30 L1502.71,623.24 L1504.55,622.12 L1506.37,620.94 L1508.17,619.70 L1509.95,618.40 L1511.71,617.03 L1513.43,615.60 L1515.13,614.10 L1516.79,612.54 L1518.42,610.91 L1520.00,609.20 L1521.55,607.43 L1523.04,605.58 L1524.48,603.66 L1525.86,601.67 L1527.15,599.65 L1528.32,597.61 L1529.38,595.56 L1530.30,593.52 L1531.07,591.50 L1531.69,589.52 L1532.16,587.60 L1532.45,585.73 L1532.59,583.95 L1532.57,582.26 L1532.39,580.68 L1532.06,579.15 L1531.56,577.56 L1530.89,575.91 L1530.03,574.20 L1529.01,572.45 L1527.81,570.65 L1526.45,568.82 L1524.94,566.97 L1523.30,565.10 L1521.54,563.23 L1519.68,561.36 L1517.73,559.49 L1515.72,557.66 L1513.69,555.89 L1511.65,554.18 L1509.60,552.53 L1507.53,550.93 L1505.45,549.38 L1503.34,547.87 L1501.21,546.40 L1499.06,544.96 L1496.88,543.56 L1494.67,542.18 L1492.43,540.82 L1490.16,539.48 L1487.85,538.15 L1485.50,536.84 L1483.10,535.53 L1480.68,534.23 L1478.21,532.92 L1475.70,531.60 L1473.16,530.27 L1470.57,528.94 L1467.93,527.58 L1465.26,526.21 L1462.54,524.81 L1459.78,523.39 L1456.98,521.94 L1454.14,520.45 L1451.25,518.94 L1448.33,517.38 L1445.38,515.78 L1442.40,514.14 L1439.40,512.45 L1436.38,510.72 L1433.35,508.93 L1430.31,507.09 L1427.27,505.20 L1424.23,503.25 L1421.19,501.25 L1418.17,499.18 L1415.16,497.06 L1412.17,494.87 L1409.22,492.62 L1406.30,490.30 L1403.42,487.92 L1400.60,485.46 L1397.82,482.94 L1395.11,480.34 L1392.47,477.68 L1389.90,474.93 L1387.40,472.12 L1384.98,469.22 L1382.61,466.19 L1380.32,463.01 L1378.14,459.68 L1376.12,456.21 L1374.30,452.60 L1372.72,448.84 L1371.42,444.95 L1370.48,441.00 L1369.90,437.08 L1369.64,433.20 L1369.69,429.35 L1370.01,425.55 L1370.60,421.79 L1371.44,418.08 L1372.50,414.42 L1373.77,410.82 L1375.24,407.27 L1376.89,403.79 L1378.72,400.37 L1380.71,397.03 L1382.85,393.76 L1385.14,390.56 L1387.55,387.44 L1390.10,384.41 L1392.76,381.47 L1395.54,378.62 L1398.43,375.85 L1401.43,373.19 L1404.52,370.61 L1407.71,368.12 L1411.00,365.73 L1414.36,363.43 L1417.81,361.22 L1421.34,359.10 L1424.94,357.07 L1428.60,355.14 L1432.32,353.29 L1436.10,351.54 L1439.92,349.87 L1443.79,348.30 L1447.69,346.81 L1451.63,345.41 L1455.60,344.10 L1459.59,342.87 L1463.59,341.72 L1467.61,340.66 L1471.64,339.68 L1475.67,338.77 L1479.70,337.95 L1483.74,337.20 L1487.80,336.52 L1491.86,335.92 L1495.91,335.37 L1499.97,334.90 L1504.03,334.49 L1508.08,334.15 L1512.13,333.87 L1516.17,333.65 L1520.20,333.50 L1524.22,333.41 L1528.23,333.38 L1532.23,333.41 L1536.22,333.50 L1540.19,333.65 L1544.15,333.86 L1548.09,334.12 L1552.01,334.43 L1555.91,334.80 L1559.80,335.22 L1563.67,335.69 L1567.52,336.21 L1571.35,336.79 L1575.16,337.42 L1578.94,338.10 L1582.69,338.83 L1586.42,339.62 L1590.13,340.46 L1593.80,341.34 L1597.45,342.27 L1601.08,343.24 L1604.67,344.26 L1608.24,345.33 L1611.78,346.43 L1615.30,347.58 L1618.78,348.77 L1622.24,350.00 L1625.65,351.26 L1629.03,352.55 L1632.37,353.86 L1635.68,355.21 L1638.95,356.58 L1642.19,357.98 L1645.40,359.39 L1648.59,360.83 L1651.74,362.28 L1654.87,363.76 L1657.97,365.25 L1661.06,366.75 L1664.11,368.26 L1667.15,369.79 L1670.17,371.32 L1673.16,372.86 L1676.14,374.41 L1679.11,375.96 L1682.06,377.52 L1684.99,379.07 L1687.92,380.63 L1690.82,382.18 L1693.72,383.73 L1696.60,385.27 L1699.47,386.81 L1702.33,388.34 L1705.18,389.86 L1708.02,391.37 L1710.84,392.87 L1713.66,394.35 L1716.46,395.82 L1719.26,397.27 L1722.04,398.70 L1724.81,400.11 L1727.57,401.50 L1730.32,402.87 L1733.06,404.21 L1735.78,405.53 L1738.48,406.82 L1741.17,408.08 L1743.85,409.31 L1746.50,410.51 L1749.14,411.68 L1751.76,412.81 L1754.36,413.90 L1756.94,414.96 L1759.50,415.98 L1762.04,416.96 L1764.55,417.90 L1767.03,418.80 L1769.50,419.66 L1771.95,420.47 L1774.37,421.25 L1776.76,421.98 L1779.11,422.67 L1781.44,423.32 L1783.73,423.92 L1785.97,424.48 L1788.18,424.99 L1790.34,425.46 L1792.45,425.88 L1794.51,426.26 L1796.51,426.59 L1798.46,426.88 L1800.35,427.12 L1802.17,427.34 L1803.93,427.52 L1805.63,427.66 L1807.26,427.78 L1808.84,427.87 L1810.35,427.93 L1811.81,427.96 L1813.22,427.97 L1814.59,427.96 L1815.92,427.93 L1817.22,427.88 L1818.50,427.81 L1819.77,427.72 L1821.03,427.61 L1822.30,427.48 L1823.59,427.32 L1824.90,427.13 L1826.24,426.92 L1827.63,426.67 L1829.07,426.38 L1830.55,426.04 L1832.11,425.64 L1833.74,425.18 L1835.46,424.65 L1837.24,424.05 L1839.08,423.38 L1840.98,422.63 L1842.93,421.82 L1844.92,420.93 L1846.95,419.97 L1849.00,418.94 L1851.08,417.83 L1853.17,416.66 L1855.28,415.41 L1857.39,414.10 L1859.50,412.72 L1861.61,411.27 L1863.71,409.76 L1865.79,408.18 L1867.86,406.54 L1869.91,404.83 L1871.93,403.07 L1873.93,401.24 L1875.89,399.36 L1877.81,397.41 L1879.69,395.41 L1881.51,393.38 L1883.23,391.36 L1884.83,389.34 L1886.29,387.35 L1887.59,385.38 L1888.73,383.46 L1889.69,381.58 L1890.47,379.77 L1891.07,378.02 L1891.49,376.36 L1891.72,374.78 L1891.78,373.28 L1891.67,371.83 L1891.39,370.29 L1890.92,368.67 L1890.27,366.98 L1889.44,365.24 L1888.43,363.44 L1887.24,361.62 L1885.89,359.77 L1884.40,357.92 L1882.77,356.07 L1881.02,354.23 L1879.19,352.42 L1877.29,350.64 L1875.35,348.93 L1873.37,347.26 L1871.34,345.64 L1869.27,344.06 L1867.16,342.51 L1865.00,340.99 L1862.78,339.49 L1860.52,338.01 L1858.21,336.54 L1855.84,335.08 L1853.42,333.62 L1850.94,332.16 L1848.41,330.70 L1845.82,329.23 L1843.19,327.74 L1840.51,326.23 L1837.80,324.69 L1835.04,323.12 L1832.24,321.51 L1829.42,319.87 L1826.56,318.18 L1823.68,316.45 L1820.77,314.66 L1817.86,312.82 L1815.01,310.96 L1812.25,309.13 L1809.59,307.31 L1807.01,305.53 L1804.51,303.77 L1802.08,302.05 L1799.72,300.37 L1797.41,298.72 L1795.15,297.11 L1792.94,295.55 L1790.77,294.04 L1788.62,292.57 L1786.44,291.13 L1784.09,289.61 L1781.54,287.99 L1778.82,286.28 L1775.93,284.45 L1772.92,282.50 L1769.78,280.42 L1766.57,278.21 L1763.30,275.84 L1760.01,273.32 L1756.74,270.65 L1753.52,267.80 L1750.40,264.80 L1747.44,261.67 L1744.66,258.45 L1742.07,255.14 L1739.68,251.73 L1737.49,248.23 L1735.52,244.64 L1733.78,240.97 L1732.29,237.22 L1731.07,233.39 L1730.15,229.48 L1729.54,225.51 L1729.27,221.48 L1729.38,217.39 L1729.86,213.35 L1730.70,209.40 L1731.85,205.54 L1733.28,201.78 L1734.98,198.11 L1736.92,194.55 L1739.07,191.09 L1741.41,187.73 L1743.93,184.47 L1746.62,181.33 L1749.45,178.30 L1752.42,175.38 L1755.51,172.59 L1758.70,169.92 L1761.97,167.37 L1765.31,164.94 L1768.71,162.63 L1772.14,160.42 L1775.60,158.32 L1779.06,156.33 L1782.52,154.43 L1785.96,152.63 L1789.36,150.91 L1792.77,149.25 L1796.21,147.63 L1799.68,146.06 L1803.18,144.53 L1806.71,143.04 L1810.27,141.60 L1813.87,140.21 L1817.49,138.86 L1821.15,137.57 L1824.84,136.32 L1828.57,135.12 L1832.32,133.98 L1836.11,132.88 L1839.93,131.84 L1843.78,130.86 L1847.66,129.93 L1851.58,129.06 L1855.52,128.25 L1859.50,127.50 L1863.50,126.81 L1867.54,126.19 L1871.59,125.63 L1875.68,125.13 L1879.78,124.70 L1883.91,124.33 L1888.06,124.03 L1892.22,123.80 L1896.40,123.64 L1900.60,123.55 L1904.81,123.54 L1909.03,123.60 L1913.25,123.73 L1917.47,123.95 L1921.70,124.24 L1925.92,124.62 L1930.13,125.07 L1934.33,125.60 L1938.50,126.21 L1942.61,126.89 L1946.67,127.64 L1950.67,128.45 L1954.62,129.33 L1958.50,130.26 L1962.34,131.25 L1966.11,132.30 L1969.84,133.39 L1973.51,134.54 L1977.14,135.72 L1980.71,136.95 L1984.25,138.23 L1987.74,139.53 L1991.19,140.88 L1994.60,142.26 L1997.98,143.67 L2001.32,145.11 L2004.63,146.58 L2007.90,148.08 L2011.15,149.60 L2014.37,151.14 L2017.56,152.71 L2020.72,154.30 L2023.86,155.91 L2026.98,157.53 L2030.07,159.18 L2033.14,160.83 L2036.19,162.51 L2039.22,164.19 L2042.23,165.88 L2045.22,167.58 L2048.19,169.29 L2051.14,171.01 L2054.08,172.73 L2056.99,174.45 L2059.89,176.18 L2062.78,177.91 L2065.65,179.63 L2068.50,181.35 L2071.33,183.07 L2074.15,184.78 L2076.95,186.49 L2079.74,188.18 L2082.51,189.87 L2085.26,191.54 L2088.00,193.20 L2090.71,194.84 L2093.42,196.47 L2096.10,198.08 L2098.78,199.67 L2101.45,201.26 L2104.12,202.83 L2106.78,204.40 L2109.42,205.96 L2112.06,207.51 L2114.68,209.05 L2117.30,210.59 L2119.90,212.13 L2122.50,213.66 L2125.08,215.18 L2127.66,216.70 L2130.24,218.22 L2132.80,219.73 L2135.36,221.24 L2137.91,222.75 L2140.46,224.25 L2143.00,225.75 L2145.54,227.24 L2148.07,228.74 L2150.61,230.23 L2153.13,231.72 L2155.66,233.21 L2158.19,234.69 L2160.73,236.17 L2163.27,237.65 L2165.82,239.12 L2168.38,240.58 L2170.95,242.05 L2173.52,243.51 L2176.10,244.96 L2178.69,246.42 L2181.29,247.87 L2183.90,249.32 L2186.52,250.76 L2189.15,252.21 L2191.79,253.65 L2194.44,255.09 L2197.09,256.52 L2199.74,257.94 L2202.38,259.35 L2205.03,260.75 L2207.67,262.14 L2210.31,263.51 L2212.96,264.87 L2215.59,266.21 L2218.23,267.53 L2220.86,268.84 L2223.49,270.13 L2226.11,271.40 L2228.72,272.64 L2231.33,273.87 L2233.93,275.06 L2236.53,276.24 L2239.11,277.39 L2241.69,278.51 L2244.25,279.61 L2246.80,280.67 L2249.34,281.71 L2251.87,282.71 L2254.37,283.68 L2256.87,284.62 L2259.34,285.53 L2261.80,286.40 L2264.23,287.24 L2266.65,288.04 L2269.04,288.80 L2271.40,289.52 L2273.74,290.21 L2276.06,290.85 L2278.35,291.46 L2280.60,292.02 L2282.83,292.55 L2285.02,293.03 L2287.18,293.47 L2289.31,293.88 L2291.39,294.24 L2293.45,294.56 L2295.46,294.84 L2297.44,295.09 L2299.38,295.29 L2301.29,295.46 L2303.16,295.59 L2305.00,295.68 L2306.81,295.74 L2308.59,295.76 L2310.35,295.75 L2312.09,295.70 L2313.81,295.62 L2315.52,295.51 L2317.22,295.36 L2318.92,295.18 L2320.63,294.97 L2322.35,294.71 L2324.08,294.41 L2325.83,294.08 L2327.61,293.69 L2329.41,293.26 L2331.25,292.78 L2333.13,292.24 L2335.04,291.65 L2337.00,291.00 L2338.99,290.28 L2341.03,289.49 L2343.12,288.64 L2345.24,287.71 L2347.41,286.70 L2349.62,285.61 L2351.87,284.44 L2354.15,283.19 L2354.92,282.75 L2362.2,282.3 L2381.8,293.5 C2388.7,297.5 2401.8,303.8 2401.8,311.8 C2401.8,323.8 2375,336.9 2349.82,341.85 L2349.82,341.85 L2345.04,342.63 L2340.24,343.31 L2335.43,343.90 L2330.61,344.38 L2325.80,344.76 L2320.99,345.04 L2316.20,345.23 L2311.43,345.33 L2306.70,345.33 L2302.00,345.24 L2297.34,345.07 L2292.73,344.82 L2288.16,344.48 L2283.65,344.08 L2279.20,343.59 L2274.80,343.04 L2270.45,342.43 L2266.17,341.75 L2261.95,341.01 L2257.78,340.22 L2253.68,339.37 L2249.63,338.48 L2245.63,337.54 L2241.70,336.55 L2237.81,335.52 L2233.98,334.46 L2230.20,333.35 L2226.47,332.21 L2222.79,331.04 L2219.15,329.83 L2215.56,328.60 L2212.01,327.34 L2208.49,326.05 L2205.02,324.74 L2201.58,323.41 L2198.18,322.05 L2194.81,320.68 L2191.48,319.29 L2188.18,317.87 L2184.91,316.45 L2181.67,315.00 L2178.46,313.55 L2175.28,312.08 L2172.12,310.59 L2169.00,309.10 L2165.90,307.60 L2162.82,306.08 L2159.77,304.57 L2156.75,303.04 L2153.75,301.51 L2150.78,299.97 L2147.83,298.44 L2144.90,296.90 L2141.99,295.35 L2139.11,293.81 L2136.26,292.27 L2133.42,290.74 L2130.61,289.20 L2127.81,287.67 L2125.02,286.13 L2122.24,284.59 L2119.48,283.04 L2116.71,281.50 L2113.96,279.95 L2111.22,278.39 L2108.48,276.83 L2105.75,275.27 L2103.03,273.70 L2100.32,272.13 L2097.61,270.55 L2094.91,268.97 L2092.21,267.39 L2089.52,265.79 L2086.82,264.20 L2084.12,262.61 L2081.42,261.01 L2078.71,259.41 L2076.00,257.81 L2073.28,256.20 L2070.56,254.60 L2067.83,252.98 L2065.10,251.37 L2062.36,249.75 L2059.61,248.13 L2056.85,246.50 L2054.09,244.87 L2051.32,243.23 L2048.54,241.59 L2045.75,239.95 L2042.95,238.29 L2040.14,236.63 L2037.32,234.97 L2034.49,233.30 L2031.66,231.61 L2028.82,229.92 L2025.99,228.22 L2023.17,226.52 L2020.35,224.82 L2017.55,223.12 L2014.76,221.43 L2011.97,219.74 L2009.20,218.05 L2006.43,216.38 L2003.68,214.71 L2000.93,213.06 L1998.19,211.42 L1995.46,209.79 L1992.75,208.18 L1990.04,206.59 L1987.34,205.01 L1984.66,203.46 L1981.99,201.93 L1979.33,200.42 L1976.68,198.94 L1974.05,197.48 L1971.44,196.06 L1968.84,194.66 L1966.26,193.30 L1963.70,191.97 L1961.16,190.68 L1958.64,189.42 L1956.15,188.20 L1953.68,187.03 L1951.24,185.89 L1948.83,184.80 L1946.45,183.76 L1944.11,182.76 L1941.81,181.80 L1939.54,180.90 L1937.32,180.05 L1935.14,179.25 L1933.02,178.50 L1930.95,177.80 L1928.93,177.16 L1926.98,176.57 L1925.09,176.03 L1923.27,175.55 L1921.52,175.12 L1919.85,174.74 L1918.25,174.41 L1916.74,174.13 L1915.31,173.89 L1913.96,173.68 L1912.70,173.52 L1911.52,173.38 L1910.36,173.26 L1909.21,173.16 L1908.07,173.07 L1906.91,173.00 L1905.75,172.95 L1904.57,172.91 L1903.37,172.88 L1902.14,172.87 L1900.87,172.88 L1899.56,172.91 L1898.21,172.95 L1896.81,173.02 L1895.37,173.10 L1893.87,173.22 L1892.31,173.35 L1890.70,173.52 L1889.04,173.72 L1887.32,173.96 L1885.55,174.23 L1883.73,174.55 L1881.86,174.90 L1879.95,175.30 L1877.99,175.74 L1875.99,176.23 L1873.94,176.75 L1871.86,177.33 L1869.74,177.95 L1867.58,178.61 L1865.39,179.33 L1863.18,180.08 L1860.93,180.89 L1858.66,181.74 L1856.37,182.63 L1854.05,183.58 L1851.72,184.56 L1849.37,185.60 L1847.01,186.67 L1844.71,187.76 L1842.50,188.84 L1840.38,189.92 L1838.33,191.01 L1836.36,192.12 L1834.46,193.24 L1832.63,194.38 L1830.85,195.57 L1829.13,196.79 L1827.46,198.07 L1825.83,199.41 L1824.25,200.82 L1822.71,202.32 L1821.24,203.89 L1819.85,205.51 L1818.56,207.18 L1817.38,208.87 L1816.33,210.57 L1815.42,212.27 L1814.65,213.95 L1814.03,215.61 L1813.56,217.23 L1813.25,218.80 L1813.09,220.40 L1813.08,222.07 L1813.23,223.82 L1813.55,225.62 L1814.03,227.45 L1814.66,229.30 L1815.44,231.16 L1816.36,233.00 L1817.39,234.81 L1818.54,236.57 L1819.77,238.27 L1821.07,239.88 L1822.41,241.40 L1823.81,242.85 L1825.31,244.27 L1826.93,245.68 L1828.67,247.09 L1830.56,248.51 L1832.58,249.97 L1834.76,251.46 L1837.09,253.01 L1839.57,254.61 L1842.18,256.29 L1844.93,258.05 L1847.79,259.90 L1850.71,261.83 L1853.54,263.75 L1856.27,265.66 L1858.93,267.53 L1861.52,269.38 L1864.06,271.19 L1866.55,272.96 L1869.00,274.69 L1871.42,276.38 L1873.80,278.02 L1876.17,279.61 L1878.51,281.14 L1880.84,282.62 L1883.23,284.09 L1885.70,285.56 L1888.26,287.05 L1890.89,288.55 L1893.60,290.07 L1896.39,291.61 L1899.25,293.17 L1902.17,294.77 L1905.16,296.40 L1908.21,298.06 L1911.30,299.78 L1914.43,301.55 L1917.59,303.37 L1920.77,305.26 L1923.97,307.21 L1927.18,309.23 L1930.39,311.32 L1933.60,313.49 L1936.80,315.73 L1939.97,318.07 L1943.12,320.48 L1946.23,322.99 L1949.30,325.58 L1952.31,328.27 L1955.27,331.05 L1958.17,333.96 L1961.00,336.99 L1963.70,340.15 L1966.26,343.43 L1968.65,346.85 L1970.83,350.40 L1972.78,354.07 L1974.46,357.88 L1975.82,361.82 L1976.83,365.88 L1977.43,370.06 L1977.58,374.32 L1977.28,378.51 L1976.57,382.58 L1975.49,386.54 L1974.10,390.39 L1972.43,394.10 L1970.52,397.70 L1968.41,401.18 L1966.12,404.53 L1963.68,407.77 L1961.14,410.89 L1958.52,413.90 L1955.85,416.80 L1953.11,419.64 L1950.29,422.41 L1947.39,425.13 L1944.42,427.79 L1941.38,430.39 L1938.26,432.93 L1935.08,435.41 L1931.83,437.82 L1928.51,440.17 L1925.12,442.46 L1921.67,444.68 L1918.16,446.84 L1914.58,448.93 L1910.93,450.95 L1907.22,452.90 L1903.45,454.78 L1899.61,456.59 L1895.71,458.32 L1891.74,459.98 L1887.71,461.57 L1883.60,463.07 L1879.43,464.49 L1875.19,465.82 L1870.88,467.07 L1866.50,468.22 L1862.08,469.27 L1857.62,470.21 L1853.14,471.06 L1848.64,471.81 L1844.12,472.46 L1839.60,473.02 L1835.08,473.47 L1830.55,473.84 L1826.04,474.10 L1821.54,474.28 L1817.07,474.36 L1812.62,474.36 L1808.20,474.27 L1803.81,474.10 L1799.45,473.86 L1795.14,473.54 L1790.86,473.14 L1786.63,472.68 L1782.44,472.16 L1778.29,471.57 L1774.18,470.93 L1770.11,470.23 L1766.08,469.47 L1762.11,468.65 L1758.17,467.78 L1754.28,466.85 L1750.43,465.88 L1746.63,464.86 L1742.86,463.80 L1739.14,462.69 L1735.46,461.54 L1731.81,460.36 L1728.20,459.13 L1724.63,457.87 L1721.10,456.58 L1717.60,455.26 L1714.14,453.90 L1710.71,452.51 L1707.32,451.11 L1703.98,449.68 L1700.67,448.22 L1697.39,446.75 L1694.15,445.27 L1690.94,443.76 L1687.77,442.25 L1684.62,440.72 L1681.50,439.18 L1678.40,437.62 L1675.33,436.07 L1672.29,434.50 L1669.27,432.93 L1666.27,431.36 L1663.29,429.78 L1660.33,428.21 L1657.39,426.64 L1654.46,425.07 L1651.55,423.51 L1648.65,421.96 L1645.77,420.41 L1642.91,418.87 L1640.06,417.35 L1637.22,415.84 L1634.40,414.34 L1631.59,412.86 L1628.80,411.39 L1626.02,409.94 L1623.25,408.52 L1620.50,407.12 L1617.77,405.74 L1615.04,404.38 L1612.34,403.06 L1609.65,401.76 L1606.98,400.49 L1604.33,399.25 L1601.71,398.04 L1599.10,396.87 L1596.52,395.73 L1593.97,394.63 L1591.43,393.57 L1588.93,392.54 L1586.46,391.56 L1584.01,390.61 L1581.60,389.72 L1579.23,388.86 L1576.89,388.05 L1574.59,387.29 L1572.33,386.57 L1570.09,385.89 L1567.88,385.25 L1565.69,384.65 L1563.53,384.09 L1561.40,383.57 L1559.30,383.09 L1557.23,382.65 L1555.20,382.24 L1553.20,381.87 L1551.24,381.54 L1549.32,381.25 L1547.44,380.99 L1545.60,380.77 L1543.79,380.58 L1542.03,380.42 L1540.32,380.29 L1538.64,380.18 L1537.00,380.09 L1535.41,380.02 L1533.84,379.96 L1532.31,379.93 L1530.80,379.91 L1529.32,379.91 L1527.85,379.93 L1526.40,379.96 L1524.95,380.01 L1523.51,380.07 L1522.07,380.16 L1520.61,380.25 L1519.15,380.37 L1517.66,380.50 L1516.15,380.66 L1514.60,380.84 L1513.03,381.04 L1511.41,381.28 L1509.76,381.55 L1508.06,381.86 L1506.35,382.21 L1504.63,382.59 L1502.90,383.02 L1501.16,383.48 L1499.41,383.98 L1497.66,384.53 L1495.90,385.12 L1494.14,385.75 L1492.38,386.43 L1490.62,387.16 L1488.86,387.94 L1487.10,388.77 L1485.34,389.66 L1483.59,390.60 L1481.84,391.61 L1480.11,392.68 L1478.38,393.82 L1476.66,395.03 L1474.97,396.31 L1473.29,397.67 L1471.63,399.10 L1470.00,400.62 L1468.40,402.22 L1466.83,403.92 L1465.30,405.70 L1463.83,407.56 L1462.42,409.49 L1461.10,411.48 L1459.88,413.51 L1458.78,415.56 L1457.80,417.64 L1456.95,419.72 L1456.25,421.79 L1455.68,423.84 L1455.27,425.86 L1455.01,427.82 L1454.90,429.73 L1454.93,431.56 L1455.11,433.31 L1455.43,434.96 L1455.87,436.51 L1456.48,438.07 L1457.28,439.70 L1458.25,441.37 L1459.39,443.09 L1460.69,444.85 L1462.15,446.64 L1463.75,448.44 L1465.44,450.24 L1467.16,451.97 L1468.93,453.66 L1470.73,455.29 L1472.58,456.88 L1474.46,458.43 L1476.39,459.94 L1478.36,461.42 L1480.37,462.87 L1482.42,464.29 L1484.53,465.69 L1486.68,467.07 L1488.87,468.44 L1491.12,469.79 L1493.41,471.14 L1495.76,472.48 L1498.15,473.81 L1500.59,475.15 L1503.07,476.48 L1505.60,477.83 L1508.18,479.18 L1510.80,480.54 L1513.47,481.91 L1516.17,483.30 L1518.92,484.71 L1521.71,486.14 L1524.53,487.59 L1527.37,489.06 L1530.25,490.56 L1533.16,492.10 L1536.09,493.66 L1539.04,495.26 L1542.01,496.91 L1545.00,498.59 L1548.01,500.32 L1551.02,502.10 L1554.05,503.92 L1557.07,505.80 L1560.10,507.73 L1563.13,509.72 L1566.15,511.76 L1569.15,513.86 L1572.14,516.03 L1575.11,518.26 L1578.06,520.56 L1580.97,522.92 L1583.85,525.35 L1586.69,527.85 L1589.50,530.42 L1592.26,533.06 L1594.99,535.79 L1597.70,538.64 L1600.39,541.62 L1603.01,544.72 L1605.54,547.95 L1607.95,551.31 L1610.20,554.79 L1612.27,558.41 L1614.11,562.16 L1615.68,566.03 L1616.95,570.04 L1617.86,574.16 L1618.38,578.38 L1618.48,582.53 L1618.19,586.60 L1617.57,590.58 L1616.65,594.47 L1615.46,598.27 L1614.02,601.97 L1612.38,605.58 L1610.55,609.08 L1608.55,612.49 L1606.41,615.79 L1604.15,618.99 L1601.77,622.08 L1599.28,625.10 L1596.68,628.04 L1593.97,630.91 L1591.15,633.70 L1588.22,636.42 L1585.20,639.05 L1582.08,641.61 L1578.86,644.09 L1575.55,646.49 L1572.15,648.81 L1568.66,651.05 L1565.10,653.21 L1561.45,655.28 L1557.73,657.28 L1553.93,659.19 L1550.07,661.02 L1546.14,662.76 L1542.15,664.42 L1538.10,665.99 L1534.00,667.48 L1529.85,668.89 L1525.65,670.21 L1521.41,671.44 L1517.12,672.59 L1512.81,673.65 L1508.46,674.62 L1504.08,675.51 L1499.69,676.32 L1495.28,677.06 L1490.85,677.71 L1486.42,678.28 L1481.97,678.78 L1477.51,679.19 L1473.05,679.53 L1468.58,679.78 L1464.12,679.96 L1459.65,680.05 L1455.21,680.07 L1450.80,680.00 L1446.42,679.86 L1442.08,679.65 L1437.77,679.37 L1433.49,679.01 L1429.26,678.60 L1425.07,678.12 L1420.92,677.58 L1416.82,676.98 L1412.76,676.31 L1408.75,675.59 L1404.79,674.82 L1400.88,673.99 L1397.01,673.11 L1393.19,672.18 L1389.41,671.21 L1385.68,670.20 L1382.00,669.15 L1378.35,668.06 L1374.75,666.94 L1371.18,665.78 L1367.66,664.59 L1364.17,663.37 L1360.71,662.12 L1357.29,660.84 L1353.90,659.54 L1350.54,658.22 L1347.21,656.87 L1343.91,655.51 L1340.64,654.12 L1337.39,652.72 L1334.17,651.30 L1330.97,649.87 L1327.80,648.42 L1324.65,646.96 L1321.52,645.49 L1318.41,644.01 L1315.32,642.52 L1312.26,641.02 L1309.22,639.51 L1306.20,638.00 L1303.20,636.48 L1300.23,634.96 L1297.28,633.44 L1294.35,631.91 L1291.44,630.38 L1288.55,628.85 L1285.68,627.33 L1282.84,625.81 L1280.02,624.30 L1277.22,622.79 L1274.45,621.30 L1271.69,619.82 L1268.97,618.35 L1266.26,616.89 L1263.57,615.46 L1260.91,614.04 L1258.27,612.63 L1255.65,611.25 L1253.05,609.90 L1250.46,608.57 L1247.90,607.27 L1245.35,606.00 L1242.82,604.75 L1240.31,603.54 L1237.82,602.36 L1235.36,601.22 L1232.91,600.11 L1230.49,599.04 L1228.10,598.01 L1225.73,597.01 L1223.38,596.06 L1221.07,595.15 L1218.79,594.28 L1216.53,593.45 L1214.31,592.67 L1212.13,591.93 L1209.98,591.24 L1207.86,590.59 L1205.79,589.98 L1203.76,589.43 L1201.76,588.91 L1199.81,588.44 L1197.90,588.01 L1196.03,587.63 L1194.19,587.28 L1192.36,586.97 L1190.54,586.69 L1188.73,586.45 L1186.93,586.23 L1185.14,586.05 L1183.36,585.90 L1181.59,585.78 L1179.84,585.69 L1178.10,585.63 L1176.37,585.59 L1174.66,585.58 L1172.95,585.61 L1171.26,585.65 L1169.57,585.73 L1167.90,585.83 L1166.23,585.96 L1164.56,586.12 L1162.90,586.31 L1161.25,586.52 L1159.59,586.77 L1157.94,587.04 L1156.28,587.34 L1154.62,587.68 L1152.95,588.04 L1151.28,588.44 L1149.61,588.88 L1147.92,589.35 L1146.23,589.86 L1144.53,590.41 L1142.82,591.01 L1141.10,591.65 L1139.37,592.33 L1137.64,593.07 L1135.90,593.85 L1134.15,594.68 L1132.39,595.57 L1130.63,596.51 L1128.87,597.50 L1127.10,598.56 L1125.34,599.68 L1123.57,600.85 L1121.81,602.09 L1120.05,603.40 L1118.30,604.77 L1116.56,606.20 L1114.83,607.71 L1113.12,609.28 L1111.42,610.93 L1109.76,612.64 L1108.19,614.35 L1106.74,616.04 L1105.42,617.70 L1104.25,619.32 L1103.21,620.90 L1102.30,622.42 L1101.53,623.87 L1100.90,625.26 L1100.40,626.57 L1100.03,627.82 L1099.77,629.00 L1099.62,630.19 L1099.60,631.54 L1099.72,633.03 L1099.99,634.64 L1100.42,636.34 L1101.01,638.10 L1101.73,639.91 L1102.59,641.73 L1103.57,643.55 L1104.64,645.33 L1105.78,647.07 L1106.96,648.73 L1108.20,650.32 L1109.52,651.88 L1110.95,653.42 L1112.48,654.93 L1114.13,656.45 L1115.90,657.98 L1117.80,659.52 L1119.83,661.09 L1121.99,662.69 L1124.27,664.34 L1126.68,666.03 L1129.21,667.78 L1131.82,669.59 L1134.42,671.41 L1136.99,673.21 L1139.53,675.00 L1142.06,676.77 L1144.58,678.52 L1147.09,680.25 L1149.59,681.97 L1152.09,683.66 L1154.59,685.33 L1157.10,686.98 L1159.60,688.61 L1162.12,690.22 L1164.64,691.81 L1167.17,693.38 L1169.71,694.93 L1172.27,696.45 L1174.85,697.96 L1177.45,699.44 L1180.07,700.90 L1182.71,702.34 L1185.37,703.76 L1188.06,705.16 L1190.77,706.54 L1193.50,707.90 L1196.26,709.27 L1199.16,710.71 L1202.21,712.22 L1205.39,713.82 L1208.68,715.51 L1212.08,717.32 L1215.57,719.24 L1219.11,721.28 L1222.70,723.47 L1226.31,725.79 L1229.90,728.27 L1233.46,730.91 L1236.95,733.70 L1240.31,736.63 L1243.51,739.67 L1246.56,742.82 L1249.44,746.08 L1252.13,749.46 L1254.60,752.95 L1256.84,756.56 L1258.83,760.27 L1260.54,764.09 L1261.95,768.01 L1263.02,772.03 L1263.74,776.15 L1264.08,780.33 L1264.03,784.46 L1263.62,788.52 L1262.90,792.49 L1261.90,796.38 L1260.64,800.19 L1259.15,803.90 L1257.47,807.52 L1255.60,811.05 L1253.59,814.48 L1251.43,817.82 L1249.17,821.06 L1246.80,824.19 L1244.34,827.26 L1241.77,830.27 L1239.12,833.21 L1236.37,836.09 L1233.53,838.90 L1230.60,841.64 L1227.59,844.32 L1224.50,846.93 L1221.32,849.47 L1218.06,851.95 L1214.72,854.35 L1211.30,856.68 L1207.80,858.95 L1204.23,861.14 L1200.58,863.26 L1196.86,865.31 L1193.07,867.28 L1189.20,869.17 L1185.25,870.99 L1181.24,872.73 L1177.14,874.39 L1172.98,875.97 L1168.74,877.46 L1164.43,878.87 L1160.06,880.18 L1155.64,881.40 L1151.16,882.52 L1146.64,883.54 L1142.08,884.47 L1137.49,885.29 L1132.86,886.01 L1128.22,886.63 L1123.57,887.15 L1118.91,887.56 L1114.25,887.88 L1109.60,888.10 L1104.97,888.23 L1100.37,888.26 L1095.79,888.20 L1091.24,888.05 L1086.74,887.81 L1082.28,887.50 L1077.86,887.10 L1073.49,886.63 L1069.17,886.09 L1064.91,885.48 L1060.69,884.80 L1056.53,884.06 L1052.42,883.26 L1048.37,882.40 L1044.36,881.49 L1040.41,880.53 L1036.51,879.52 L1032.65,878.47 L1028.85,877.37 L1025.09,876.22 L1021.38,875.04 L1017.71,873.81 L1014.08,872.55 L1010.50,871.25 L1006.95,869.92 L1003.45,868.55 L999.98,867.16 L996.56,865.73 L993.17,864.27 L989.81,862.78 L986.49,861.27 L983.20,859.73 L979.95,858.17 L976.73,856.58 L973.54,854.97 L970.38,853.33 L967.26,851.68 L964.16,850.01 L961.11,848.32 L958.09,846.62 L955.12,844.92 L952.17,843.22 L949.24,841.52 L946.35,839.83 L943.47,838.14 L940.62,836.46 L937.78,834.79 L934.97,833.12 L932.17,831.47 L929.38,829.83 L926.61,828.21 L923.86,826.61 L921.11,825.03 L918.38,823.47 L915.66,821.93 L912.96,820.41 L910.26,818.93 L907.57,817.47 L904.90,816.05 L902.24,814.66 L899.60,813.30 L896.98,811.97 L894.39,810.68 L891.82,809.42 L889.27,808.20 L886.76,807.03 L884.27,805.89 L881.81,804.80 L879.38,803.75 L876.98,802.75 L874.62,801.80 L872.30,800.90 L870.02,800.05 L867.78,799.25 L865.58,798.51 L863.42,797.82 L861.28,797.16 L859.15,796.55 L857.04,795.97 L854.95,795.44 L852.88,794.95 L850.84,794.49 L848.82,794.07 L846.82,793.69 L844.85,793.35 L842.90,793.04 L840.98,792.77 L839.09,792.53 L837.23,792.33 L835.40,792.16 L833.59,792.01 L831.82,791.89 L830.07,791.80 L828.34,791.73 L826.64,791.68 L824.96,791.66 L823.30,791.66 L821.66,791.68 L820.03,791.72 L818.41,791.78 L816.80,791.87 L815.19,791.98 L813.59,792.11 L811.98,792.26 L810.37,792.43 L808.75,792.63 L807.11,792.86 L805.46,793.11 L803.80,793.39 L802.11,793.70 L800.41,794.05 L798.69,794.43 L796.94,794.85 L795.17,795.31 L793.38,795.82 L791.57,796.37 L789.73,796.96 L787.86,797.60 L785.97,798.29 L784.06,799.03 L782.12,799.82 L780.16,800.67 L778.18,801.57 L776.18,802.53 L774.17,803.55 L772.18,804.60 L770.23,805.68 L768.31,806.81 L766.43,807.98 L764.59,809.19 L762.78,810.44 L761.01,811.75 L759.27,813.10 L757.59,814.52 L755.94,815.99 L754.34,817.52 L752.78,819.12 L751.28,820.79 L749.85,822.52 L748.51,824.28 L747.25,826.07 L746.10,827.88 L745.06,829.68 L744.15,831.48 L743.37,833.24 L742.72,834.97 L742.21,836.65 L741.84,838.28 L741.61,839.84 L741.51,841.37 L741.55,842.97 L741.74,844.62 L742.06,846.32 L742.53,848.04 L743.13,849.78 L743.86,851.51 L744.70,853.22 L745.64,854.89 L746.67,856.51 L747.76,858.05 L748.90,859.51 L750.12,860.91 L751.44,862.28 L752.88,863.64 L754.44,865.01 L756.14,866.38 L757.98,867.78 L759.97,869.20 L762.10,870.66 L764.39,872.16 L766.81,873.72 L769.38,875.33 L772.07,877.01 L774.85,878.75 L777.60,880.49 L780.31,882.22 L782.97,883.94 L785.61,885.63 L788.21,887.31 L790.79,888.97 L793.34,890.61 L795.88,892.23 L798.39,893.83 L800.89,895.41 L803.38,896.96 L805.85,898.49 L808.33,900.00 L810.82,901.50 L813.32,902.98 L815.83,904.45 L818.35,905.91 L820.90,907.35 L823.46,908.78 L826.04,910.21 L828.64,911.62 L831.27,913.02 L833.92,914.42 L836.59,915.81 L839.33,917.23 L842.23,918.73 L845.28,920.32 L848.45,922.01 L851.74,923.81 L855.12,925.73 L858.56,927.78 L862.05,929.97 L865.54,932.30 L869.02,934.79 L872.45,937.44 L875.80,940.24 L879.05,943.21 L882.12,946.30 L884.99,949.48 L887.68,952.74 L890.17,956.09 L892.47,959.51 L894.57,963.01 L896.45,966.58 L898.10,970.22 L899.51,973.91 L900.66,977.66 L901.53,981.47 L902.10,985.34 L902.33,989.20 L902.24,993.02 L901.83,996.79 L901.12,1000.49 L900.14,1004.12 L898.89,1007.67 L897.40,1011.15 L895.68,1014.55 L893.76,1017.87 L891.65,1021.11 L889.36,1024.26 L886.92,1027.33 L884.34,1030.32 L881.63,1033.22 L878.82,1036.05 L875.90,1038.79 L872.90,1041.45 L869.83,1044.04 L866.69,1046.55 L863.51,1048.98 L860.29,1051.33 L857.04,1053.61 L853.78,1055.82 L850.51,1057.95 L847.24,1060.01 L843.93,1062.02 L840.59,1063.98 L837.20,1065.90 L833.78,1067.76 L830.30,1069.58 L826.78,1071.34 L823.21,1073.05 L819.59,1074.70 L815.91,1076.30 L812.17,1077.84 L808.37,1079.31 L804.50,1080.73 L800.57,1082.08 L796.57,1083.36 L792.50,1084.57 L788.36,1085.72 L784.16,1086.78 L779.88,1087.77 L775.52,1088.68 L771.10,1089.50 L766.62,1090.23 L762.06,1090.87 L757.45,1091.41 L752.78,1091.84 L748.10,1092.17 L743.41,1092.39 L738.75,1092.51 L734.10,1092.53 L729.48,1092.46 L724.89,1092.29 L720.33,1092.03 L715.82,1091.68 L711.34,1091.25 L706.91,1090.75 L702.53,1090.16 L698.19,1089.51 L693.90,1088.78 L689.66,1087.98 L685.47,1087.11 L681.34,1086.19 L677.25,1085.20 L673.21,1084.16 L669.22,1083.06 L665.28,1081.91 L661.39,1080.70 L657.54,1079.45 L653.75,1078.15 L650.00,1076.81 L646.29,1075.42 L642.64,1074.00 L639.05,1072.54 L635.52,1071.06 L632.04,1069.54 L628.60,1068.00 L625.22,1066.43 L621.88,1064.84 L618.59,1063.23 L615.34,1061.60 L612.13,1059.95 L608.96,1058.29 L605.82,1056.61 L602.71,1054.92 L599.64,1053.22 L596.60,1051.51 L593.59,1049.80 L590.61,1048.08 L587.65,1046.35 L584.72,1044.62 L581.81,1042.89 L578.93,1041.16 L576.07,1039.44 L573.23,1037.71 L570.41,1035.99 L567.61,1034.28 L564.82,1032.58 L562.06,1030.88 L559.31,1029.20 L556.59,1027.53 L553.87,1025.88 L551.18,1024.24 L548.50,1022.62 L545.84,1021.02 L543.19,1019.44 L540.56,1017.88 L537.94,1016.35 L535.34,1014.85 L532.75,1013.36 L530.14,1011.89 L527.53,1010.43 L524.91,1008.98 L522.29,1007.54 L519.66,1006.12 L517.02,1004.70 L514.38,1003.30 L511.73,1001.91 L509.07,1000.52 L506.41,999.15 L503.74,997.79 L501.06,996.43 L498.37,995.09 L495.68,993.75 L492.99,992.42 L490.31,991.08 L487.63,989.75 L484.95,988.41 L482.28,987.08 L479.62,985.74 L476.96,984.40 L474.31,983.06 L471.66,981.72 L469.01,980.37 L466.37,979.02 L463.73,977.67 L461.10,976.31 L458.47,974.95 L455.84,973.58 L453.22,972.21 L450.60,970.83 L447.99,969.45 L445.38,968.06 L442.77,966.67 L440.16,965.28 L437.54,963.88 L434.91,962.49 L432.27,961.10 L429.63,959.71 L426.97,958.31 L424.31,956.92 L421.65,955.53 L418.97,954.14 L416.29,952.75 L413.60,951.35 L410.90,949.96 L408.20,948.56 L405.49,947.16 L402.78,945.76 L400.09,944.37 L397.43,943.00 L394.80,941.66 L392.21,940.33 L389.65,939.04 L387.13,937.77 L384.63,936.53 L382.17,935.32 L379.75,934.14 L377.35,933.01 L375.00,931.91 L372.68,930.85 L370.40,929.83 L368.16,928.85 L365.96,927.92 L363.80,927.04 L361.69,926.20 L359.63,925.41 L357.63,924.67 L355.67,923.98 L353.77,923.34 L351.92,922.76 L350.13,922.23 L348.40,921.75 L346.73,921.33 L345.13,920.96 L343.58,920.64 L342.09,920.36 L340.67,920.14 L339.29,919.95 L337.93,919.80 L336.56,919.69 L335.16,919.61 L333.74,919.57 L332.30,919.57 L330.84,919.60 L329.37,919.66 L327.87,919.77 L326.35,919.92 L324.81,920.10 L323.26,920.32 L321.68,920.58 L320.09,920.87 L318.47,921.21 L316.84,921.58 L315.19,921.99 L313.53,922.45 L311.85,922.94 L310.16,923.48 L308.46,924.07 L306.75,924.70 L305.04,925.38 L303.32,926.11 L301.60,926.88 L299.87,927.70 L298.15,928.58 L296.43,929.51 L294.72,930.48 L293.02,931.52 L291.34,932.60 L289.67,933.74 L288.02,934.94 L287.47,935.35 Z" fill="#ffffff"/>
<path d="M271.3,936.5 L237.6,916.2 C235,914.6 231.9,908.9 231.9,904.9 C231.9,894.9 249.8,890 263.32,887.17 L263.32,887.17 L267.18,885.73 L271.09,884.37 L275.07,883.09 L279.11,881.87 L283.20,880.74 L287.34,879.67 L291.54,878.69 L295.79,877.78 L300.08,876.96 L304.42,876.21 L308.81,875.55 L313.24,874.98 L317.70,874.50 L322.20,874.12 L326.73,873.84 L331.29,873.66 L335.86,873.59 L340.44,873.62 L345.02,873.76 L349.60,874.00 L354.17,874.36 L358.68,874.81 L363.11,875.36 L367.45,876.00 L371.71,876.72 L375.89,877.51 L379.97,878.38 L383.97,879.31 L387.89,880.30 L391.72,881.34 L395.47,882.43 L399.15,883.56 L402.76,884.73 L406.30,885.93 L409.78,887.16 L413.21,888.42 L416.58,889.70 L419.90,891.00 L423.16,892.32 L426.39,893.65 L429.57,895.00 L432.70,896.35 L435.80,897.72 L438.86,899.09 L441.89,900.46 L444.88,901.84 L447.84,903.21 L450.76,904.58 L453.66,905.95 L456.53,907.30 L459.37,908.65 L462.20,909.99 L465.03,911.34 L467.86,912.68 L470.70,914.03 L473.54,915.39 L476.38,916.74 L479.22,918.10 L482.06,919.46 L484.90,920.83 L487.75,922.20 L490.60,923.58 L493.44,924.96 L496.29,926.34 L499.14,927.73 L501.99,929.13 L504.84,930.53 L507.70,931.93 L510.56,933.34 L513.43,934.75 L516.30,936.17 L519.18,937.59 L522.06,939.01 L524.95,940.44 L527.83,941.88 L530.73,943.32 L533.62,944.77 L536.53,946.22 L539.43,947.68 L542.34,949.15 L545.25,950.62 L548.16,952.10 L551.08,953.59 L554.00,955.09 L556.93,956.60 L559.86,958.11 L562.78,959.64 L565.71,961.18 L568.63,962.73 L571.55,964.30 L574.46,965.88 L577.37,967.47 L580.28,969.08 L583.18,970.70 L586.08,972.33 L588.98,973.98 L591.87,975.65 L594.76,977.33 L597.64,979.03 L600.52,980.74 L603.39,982.47 L606.25,984.21 L609.08,985.95 L611.89,987.69 L614.68,989.44 L617.46,991.18 L620.21,992.92 L622.95,994.65 L625.67,996.38 L628.38,998.10 L631.07,999.82 L633.75,1001.52 L636.42,1003.21 L639.07,1004.89 L641.71,1006.55 L644.33,1008.19 L646.95,1009.81 L649.55,1011.42 L652.14,1013.00 L654.72,1014.56 L657.29,1016.09 L659.84,1017.60 L662.38,1019.08 L664.91,1020.53 L667.43,1021.94 L669.93,1023.33 L672.42,1024.67 L674.90,1025.99 L677.36,1027.26 L679.80,1028.49 L682.23,1029.69 L684.63,1030.84 L687.02,1031.94 L689.38,1033.01 L691.72,1034.02 L694.04,1034.99 L696.33,1035.91 L698.60,1036.78 L700.84,1037.61 L703.06,1038.39 L705.27,1039.13 L707.45,1039.82 L709.60,1040.46 L711.71,1041.06 L713.80,1041.62 L715.84,1042.12 L717.84,1042.58 L719.79,1042.99 L721.69,1043.36 L723.54,1043.68 L725.34,1043.95 L727.07,1044.19 L728.75,1044.38 L730.36,1044.53 L731.91,1044.65 L733.39,1044.74 L734.81,1044.80 L736.18,1044.83 L737.49,1044.83 L738.74,1044.81 L739.96,1044.77 L741.14,1044.70 L742.29,1044.62 L743.45,1044.51 L744.66,1044.37 L745.92,1044.20 L747.24,1044.00 L748.62,1043.76 L750.07,1043.48 L751.59,1043.15 L753.18,1042.78 L754.84,1042.35 L756.57,1041.87 L758.37,1041.33 L760.24,1040.73 L762.17,1040.07 L764.16,1039.34 L766.20,1038.54 L768.30,1037.68 L770.45,1036.75 L772.65,1035.75 L774.88,1034.68 L777.16,1033.55 L779.48,1032.35 L781.83,1031.08 L784.22,1029.74 L786.63,1028.34 L789.06,1026.88 L791.46,1025.38 L793.83,1023.86 L796.15,1022.30 L798.41,1020.72 L800.62,1019.12 L802.75,1017.49 L804.79,1015.85 L806.76,1014.20 L808.62,1012.53 L810.39,1010.85 L812.04,1009.16 L813.59,1007.48 L815.01,1005.79 L816.30,1004.10 L817.46,1002.41 L818.50,1000.72 L819.40,999.04 L820.16,997.37 L820.78,995.70 L821.27,994.02 L821.62,992.35 L821.82,990.68 L821.88,988.99 L821.79,987.28 L821.53,985.48 L821.11,983.60 L820.51,981.66 L819.75,979.68 L818.84,977.69 L817.79,975.70 L816.61,973.75 L815.31,971.84 L813.93,970.01 L812.49,968.27 L811.00,966.64 L809.51,965.15 L807.98,963.77 L806.38,962.44 L804.71,961.15 L802.94,959.90 L801.07,958.65 L799.08,957.40 L796.96,956.14 L794.71,954.85 L792.32,953.54 L789.79,952.18 L787.11,950.76 L784.30,949.28 L781.37,947.74 L778.45,946.18 L775.55,944.62 L772.68,943.06 L769.84,941.50 L767.02,939.93 L764.23,938.35 L761.46,936.78 L758.70,935.19 L755.97,933.61 L753.25,932.01 L750.55,930.41 L747.86,928.81 L745.20,927.20 L742.56,925.60 L739.95,924.00 L737.36,922.41 L734.78,920.83 L732.22,919.25 L729.67,917.68 L727.13,916.12 L724.60,914.57 L722.07,913.03 L719.54,911.50 L717.00,909.98 L714.42,908.45 L711.68,906.84 L708.80,905.15 L705.81,903.36 L702.70,901.47 L699.52,899.47 L696.27,897.35 L693.00,895.10 L689.71,892.71 L686.45,890.19 L683.24,887.52 L680.12,884.69 L677.11,881.72 L674.26,878.62 L671.61,875.42 L669.15,872.12 L666.88,868.73 L664.83,865.25 L662.99,861.69 L661.40,858.04 L660.06,854.31 L659.00,850.50 L658.24,846.62 L657.80,842.67 L657.72,838.67 L658.00,834.73 L658.59,830.85 L659.47,827.05 L660.62,823.32 L662.01,819.67 L663.62,816.10 L665.43,812.61 L667.41,809.21 L669.55,805.90 L671.84,802.67 L674.27,799.54 L676.82,796.51 L679.50,793.57 L682.30,790.73 L685.20,787.97 L688.20,785.31 L691.29,782.75 L694.46,780.27 L697.71,777.89 L701.02,775.60 L704.38,773.40 L707.78,771.28 L711.23,769.26 L714.69,767.31 L718.19,765.45 L721.74,763.65 L725.34,761.91 L728.99,760.24 L732.70,758.63 L736.45,757.08 L740.26,755.61 L744.11,754.19 L748.01,752.85 L751.96,751.58 L755.96,750.37 L759.99,749.24 L764.07,748.17 L768.18,747.18 L772.33,746.26 L776.51,745.41 L780.73,744.63 L784.97,743.94 L789.24,743.32 L793.52,742.78 L797.83,742.32 L802.15,741.93 L806.47,741.62 L810.81,741.39 L815.14,741.24 L819.47,741.17 L823.79,741.17 L828.11,741.24 L832.41,741.39 L836.69,741.62 L840.96,741.91 L845.20,742.28 L849.41,742.72 L853.60,743.22 L857.75,743.80 L861.87,744.44 L865.96,745.14 L870.01,745.90 L874.03,746.73 L878.00,747.61 L881.94,748.54 L885.84,749.54 L889.70,750.58 L893.51,751.68 L897.29,752.83 L901.02,754.04 L904.71,755.29 L908.36,756.59 L911.97,757.94 L915.52,759.34 L919.02,760.77 L922.44,762.24 L925.80,763.73 L929.10,765.25 L932.34,766.79 L935.53,768.36 L938.67,769.95 L941.76,771.55 L944.80,773.17 L947.81,774.80 L950.77,776.45 L953.70,778.11 L956.60,779.77 L959.46,781.44 L962.29,783.12 L965.10,784.80 L967.89,786.48 L970.66,788.15 L973.42,789.82 L976.16,791.48 L978.89,793.14 L981.60,794.78 L984.31,796.41 L987.01,798.03 L989.70,799.63 L992.38,801.22 L995.05,802.79 L997.71,804.33 L1000.37,805.86 L1003.03,807.35 L1005.68,808.83 L1008.32,810.27 L1010.95,811.68 L1013.58,813.06 L1016.20,814.41 L1018.81,815.72 L1021.41,817.00 L1024.00,818.25 L1026.58,819.47 L1029.17,820.66 L1031.75,821.82 L1034.32,822.95 L1036.88,824.04 L1039.44,825.10 L1041.98,826.13 L1044.51,827.11 L1047.02,828.07 L1049.52,828.98 L1052.00,829.86 L1054.45,830.69 L1056.89,831.49 L1059.30,832.25 L1061.68,832.96 L1064.03,833.63 L1066.34,834.27 L1068.63,834.85 L1070.87,835.40 L1073.08,835.91 L1075.25,836.37 L1077.37,836.79 L1079.45,837.16 L1081.48,837.50 L1083.47,837.80 L1085.40,838.05 L1087.28,838.27 L1089.11,838.45 L1090.89,838.60 L1092.62,838.71 L1094.30,838.79 L1095.93,838.85 L1097.51,838.87 L1099.06,838.87 L1100.56,838.84 L1102.04,838.78 L1103.49,838.70 L1104.92,838.60 L1106.33,838.47 L1107.74,838.31 L1109.14,838.12 L1110.55,837.91 L1111.98,837.67 L1113.43,837.39 L1114.90,837.07 L1116.40,836.72 L1117.94,836.32 L1119.52,835.88 L1121.14,835.38 L1122.81,834.82 L1124.53,834.20 L1126.30,833.52 L1128.11,832.77 L1129.96,831.95 L1131.84,831.07 L1133.74,830.12 L1135.66,829.10 L1137.60,828.01 L1139.55,826.86 L1141.50,825.64 L1143.45,824.35 L1145.40,823.00 L1147.33,821.58 L1149.25,820.09 L1151.16,818.54 L1153.04,816.92 L1154.90,815.23 L1156.72,813.48 L1158.51,811.67 L1160.27,809.79 L1161.98,807.85 L1163.65,805.85 L1165.27,803.79 L1166.82,801.67 L1168.27,799.54 L1169.61,797.39 L1170.81,795.25 L1171.88,793.13 L1172.80,791.03 L1173.56,788.98 L1174.16,786.97 L1174.59,785.03 L1174.85,783.17 L1174.94,781.40 L1174.87,779.72 L1174.64,778.11 L1174.25,776.46 L1173.70,774.79 L1172.99,773.11 L1172.13,771.42 L1171.13,769.74 L1169.99,768.08 L1168.72,766.45 L1167.36,764.86 L1165.90,763.33 L1164.37,761.86 L1162.79,760.46 L1161.18,759.15 L1159.53,757.91 L1157.79,756.71 L1155.96,755.51 L1154.02,754.32 L1151.97,753.12 L1149.79,751.89 L1147.48,750.64 L1145.02,749.35 L1142.43,748.00 L1139.68,746.60 L1136.80,745.12 L1133.78,743.57 L1130.67,741.95 L1127.60,740.32 L1124.57,738.70 L1121.59,737.08 L1118.66,735.45 L1115.79,733.81 L1112.96,732.18 L1110.18,730.54 L1107.45,728.90 L1104.76,727.25 L1102.11,725.61 L1099.50,723.97 L1096.92,722.32 L1094.38,720.68 L1091.87,719.03 L1089.38,717.38 L1086.93,715.74 L1084.49,714.09 L1082.08,712.45 L1079.69,710.80 L1077.32,709.15 L1074.95,707.51 L1072.60,705.86 L1070.25,704.21 L1067.89,702.57 L1065.45,700.90 L1062.85,699.13 L1060.10,697.27 L1057.24,695.30 L1054.27,693.22 L1051.22,691.02 L1048.11,688.69 L1044.98,686.23 L1041.84,683.64 L1038.74,680.91 L1035.69,678.03 L1032.73,675.02 L1029.88,671.85 L1027.17,668.58 L1024.64,665.20 L1022.30,661.73 L1020.15,658.16 L1018.21,654.50 L1016.51,650.75 L1015.06,646.92 L1013.90,643.00 L1013.06,639.00 L1012.57,634.93 L1012.48,630.78 L1012.83,626.60 L1013.61,622.53 L1014.77,618.59 L1016.26,614.79 L1018.05,611.13 L1020.07,607.61 L1022.30,604.23 L1024.70,600.98 L1027.23,597.87 L1029.87,594.89 L1032.58,592.05 L1035.35,589.33 L1038.16,586.71 L1041.04,584.17 L1043.99,581.70 L1047.01,579.30 L1050.10,576.97 L1053.25,574.71 L1056.48,572.52 L1059.76,570.40 L1063.11,568.35 L1066.53,566.37 L1070.00,564.46 L1073.53,562.63 L1077.12,560.87 L1080.77,559.18 L1084.47,557.57 L1088.21,556.03 L1092.01,554.56 L1095.85,553.17 L1099.74,551.85 L1103.67,550.61 L1107.63,549.45 L1111.63,548.36 L1115.66,547.35 L1119.72,546.41 L1123.79,545.54 L1127.89,544.73 L1132.00,544.00 L1136.13,543.34 L1140.28,542.74 L1144.43,542.21 L1148.60,541.76 L1152.77,541.36 L1156.95,541.04 L1161.13,540.78 L1165.32,540.59 L1169.50,540.47 L1173.68,540.41 L1177.86,540.42 L1182.03,540.49 L1186.19,540.62 L1190.35,540.82 L1194.49,541.07 L1198.62,541.40 L1202.73,541.79 L1206.83,542.24 L1210.90,542.77 L1214.96,543.36 L1218.98,544.01 L1222.98,544.73 L1226.94,545.51 L1230.86,546.35 L1234.72,547.25 L1238.53,548.19 L1242.28,549.18 L1245.98,550.22 L1249.63,551.29 L1253.23,552.41 L1256.79,553.57 L1260.30,554.76 L1263.76,555.98 L1267.18,557.24 L1270.56,558.52 L1273.90,559.83 L1277.21,561.17 L1280.48,562.53 L1283.71,563.91 L1286.92,565.31 L1290.09,566.73 L1293.23,568.17 L1296.35,569.62 L1299.43,571.09 L1302.50,572.57 L1305.54,574.05 L1308.55,575.55 L1311.55,577.06 L1314.52,578.57 L1317.48,580.08 L1320.41,581.61 L1323.33,583.13 L1326.23,584.65 L1329.10,586.18 L1331.97,587.70 L1334.81,589.22 L1337.64,590.73 L1340.45,592.24 L1343.25,593.75 L1346.04,595.24 L1348.81,596.72 L1351.57,598.20 L1354.32,599.66 L1357.06,601.11 L1359.79,602.55 L1362.50,603.97 L1365.21,605.38 L1367.90,606.76 L1370.58,608.13 L1373.25,609.48 L1375.90,610.81 L1378.55,612.12 L1381.18,613.40 L1383.80,614.65 L1386.40,615.87 L1388.99,617.07 L1391.57,618.24 L1394.12,619.37 L1396.67,620.48 L1399.19,621.55 L1401.69,622.58 L1404.17,623.58 L1406.63,624.54 L1409.07,625.47 L1411.48,626.35 L1413.87,627.20 L1416.22,628.00 L1418.55,628.76 L1420.85,629.48 L1423.11,630.16 L1425.34,630.80 L1427.54,631.39 L1429.70,631.94 L1431.82,632.45 L1433.89,632.91 L1435.93,633.34 L1437.93,633.72 L1439.88,634.05 L1441.80,634.35 L1443.67,634.61 L1445.50,634.83 L1447.29,635.02 L1449.05,635.17 L1450.77,635.29 L1452.46,635.38 L1454.13,635.44 L1455.79,635.47 L1457.42,635.47 L1459.06,635.44 L1460.69,635.38 L1462.36,635.29 L1464.05,635.17 L1465.76,635.01 L1467.49,634.82 L1469.25,634.60 L1471.02,634.34 L1472.82,634.04 L1474.63,633.71 L1476.46,633.34 L1478.31,632.92 L1480.16,632.47 L1482.03,631.97 L1483.91,631.43 L1485.79,630.83 L1487.68,630.20 L1489.57,629.51 L1491.46,628.77 L1493.35,627.98 L1495.24,627.14 L1497.12,626.25 L1498.99,625.30 L1500.86,624.30 L1502.71,623.24 L1504.55,622.12 L1506.37,620.94 L1508.17,619.70 L1509.95,618.40 L1511.71,617.03 L1513.43,615.60 L1515.13,614.10 L1516.79,612.54 L1518.42,610.91 L1520.00,609.20 L1521.55,607.43 L1523.04,605.58 L1524.48,603.66 L1525.86,601.67 L1527.15,599.65 L1528.32,597.61 L1529.38,595.56 L1530.30,593.52 L1531.07,591.50 L1531.69,589.52 L1532.16,587.60 L1532.45,585.73 L1532.59,583.95 L1532.57,582.26 L1532.39,580.68 L1532.06,579.15 L1531.56,577.56 L1530.89,575.91 L1530.03,574.20 L1529.01,572.45 L1527.81,570.65 L1526.45,568.82 L1524.94,566.97 L1523.30,565.10 L1521.54,563.23 L1519.68,561.36 L1517.73,559.49 L1515.72,557.66 L1513.69,555.89 L1511.65,554.18 L1509.60,552.53 L1507.53,550.93 L1505.45,549.38 L1503.34,547.87 L1501.21,546.40 L1499.06,544.96 L1496.88,543.56 L1494.67,542.18 L1492.43,540.82 L1490.16,539.48 L1487.85,538.15 L1485.50,536.84 L1483.10,535.53 L1480.68,534.23 L1478.21,532.92 L1475.70,531.60 L1473.16,530.27 L1470.57,528.94 L1467.93,527.58 L1465.26,526.21 L1462.54,524.81 L1459.78,523.39 L1456.98,521.94 L1454.14,520.45 L1451.25,518.94 L1448.33,517.38 L1445.38,515.78 L1442.40,514.14 L1439.40,512.45 L1436.38,510.72 L1433.35,508.93 L1430.31,507.09 L1427.27,505.20 L1424.23,503.25 L1421.19,501.25 L1418.17,499.18 L1415.16,497.06 L1412.17,494.87 L1409.22,492.62 L1406.30,490.30 L1403.42,487.92 L1400.60,485.46 L1397.82,482.94 L1395.11,480.34 L1392.47,477.68 L1389.90,474.93 L1387.40,472.12 L1384.98,469.22 L1382.61,466.19 L1380.32,463.01 L1378.14,459.68 L1376.12,456.21 L1374.30,452.60 L1372.72,448.84 L1371.42,444.95 L1370.48,441.00 L1369.90,437.08 L1369.64,433.20 L1369.69,429.35 L1370.01,425.55 L1370.60,421.79 L1371.44,418.08 L1372.50,414.42 L1373.77,410.82 L1375.24,407.27 L1376.89,403.79 L1378.72,400.37 L1380.71,397.03 L1382.85,393.76 L1385.14,390.56 L1387.55,387.44 L1390.10,384.41 L1392.76,381.47 L1395.54,378.62 L1398.43,375.85 L1401.43,373.19 L1404.52,370.61 L1407.71,368.12 L1411.00,365.73 L1414.36,363.43 L1417.81,361.22 L1421.34,359.10 L1424.94,357.07 L1428.60,355.14 L1432.32,353.29 L1436.10,351.54 L1439.92,349.87 L1443.79,348.30 L1447.69,346.81 L1451.63,345.41 L1455.60,344.10 L1459.59,342.87 L1463.59,341.72 L1467.61,340.66 L1471.64,339.68 L1475.67,338.77 L1479.70,337.95 L1483.74,337.20 L1487.80,336.52 L1491.86,335.92 L1495.91,335.37 L1499.97,334.90 L1504.03,334.49 L1508.08,334.15 L1512.13,333.87 L1516.17,333.65 L1520.20,333.50 L1524.22,333.41 L1528.23,333.38 L1532.23,333.41 L1536.22,333.50 L1540.19,333.65 L1544.15,333.86 L1548.09,334.12 L1552.01,334.43 L1555.91,334.80 L1559.80,335.22 L1563.67,335.69 L1567.52,336.21 L1571.35,336.79 L1575.16,337.42 L1578.94,338.10 L1582.69,338.83 L1586.42,339.62 L1590.13,340.46 L1593.80,341.34 L1597.45,342.27 L1601.08,343.24 L1604.67,344.26 L1608.24,345.33 L1611.78,346.43 L1615.30,347.58 L1618.78,348.77 L1622.24,350.00 L1625.65,351.26 L1629.03,352.55 L1632.37,353.86 L1635.68,355.21 L1638.95,356.58 L1642.19,357.98 L1645.40,359.39 L1648.59,360.83 L1651.74,362.28 L1654.87,363.76 L1657.97,365.25 L1661.06,366.75 L1664.11,368.26 L1667.15,369.79 L1670.17,371.32 L1673.16,372.86 L1676.14,374.41 L1679.11,375.96 L1682.06,377.52 L1684.99,379.07 L1687.92,380.63 L1690.82,382.18 L1693.72,383.73 L1696.60,385.27 L1699.47,386.81 L1702.33,388.34 L1705.18,389.86 L1708.02,391.37 L1710.84,392.87 L1713.66,394.35 L1716.46,395.82 L1719.26,397.27 L1722.04,398.70 L1724.81,400.11 L1727.57,401.50 L1730.32,402.87 L1733.06,404.21 L1735.78,405.53 L1738.48,406.82 L1741.17,408.08 L1743.85,409.31 L1746.50,410.51 L1749.14,411.68 L1751.76,412.81 L1754.36,413.90 L1756.94,414.96 L1759.50,415.98 L1762.04,416.96 L1764.55,417.90 L1767.03,418.80 L1769.50,419.66 L1771.95,420.47 L1774.37,421.25 L1776.76,421.98 L1779.11,422.67 L1781.44,423.32 L1783.73,423.92 L1785.97,424.48 L1788.18,424.99 L1790.34,425.46 L1792.45,425.88 L1794.51,426.26 L1796.51,426.59 L1798.46,426.88 L1800.35,427.12 L1802.17,427.34 L1803.93,427.52 L1805.63,427.66 L1807.26,427.78 L1808.84,427.87 L1810.35,427.93 L1811.81,427.96 L1813.22,427.97 L1814.59,427.96 L1815.92,427.93 L1817.22,427.88 L1818.50,427.81 L1819.77,427.72 L1821.03,427.61 L1822.30,427.48 L1823.59,427.32 L1824.90,427.13 L1826.24,426.92 L1827.63,426.67 L1829.07,426.38 L1830.55,426.04 L1832.11,425.64 L1833.74,425.18 L1835.46,424.65 L1837.24,424.05 L1839.08,423.38 L1840.98,422.63 L1842.93,421.82 L1844.92,420.93 L1846.95,419.97 L1849.00,418.94 L1851.08,417.83 L1853.17,416.66 L1855.28,415.41 L1857.39,414.10 L1859.50,412.72 L1861.61,411.27 L1863.71,409.76 L1865.79,408.18 L1867.86,406.54 L1869.91,404.83 L1871.93,403.07 L1873.93,401.24 L1875.89,399.36 L1877.81,397.41 L1879.69,395.41 L1881.51,393.38 L1883.23,391.36 L1884.83,389.34 L1886.29,387.35 L1887.59,385.38 L1888.73,383.46 L1889.69,381.58 L1890.47,379.77 L1891.07,378.02 L1891.49,376.36 L1891.72,374.78 L1891.78,373.28 L1891.67,371.83 L1891.39,370.29 L1890.92,368.67 L1890.27,366.98 L1889.44,365.24 L1888.43,363.44 L1887.24,361.62 L1885.89,359.77 L1884.40,357.92 L1882.77,356.07 L1881.02,354.23 L1879.19,352.42 L1877.29,350.64 L1875.35,348.93 L1873.37,347.26 L1871.34,345.64 L1869.27,344.06 L1867.16,342.51 L1865.00,340.99 L1862.78,339.49 L1860.52,338.01 L1858.21,336.54 L1855.84,335.08 L1853.42,333.62 L1850.94,332.16 L1848.41,330.70 L1845.82,329.23 L1843.19,327.74 L1840.51,326.23 L1837.80,324.69 L1835.04,323.12 L1832.24,321.51 L1829.42,319.87 L1826.56,318.18 L1823.68,316.45 L1820.77,314.66 L1817.86,312.82 L1815.01,310.96 L1812.25,309.13 L1809.59,307.31 L1807.01,305.53 L1804.51,303.77 L1802.08,302.05 L1799.72,300.37 L1797.41,298.72 L1795.15,297.11 L1792.94,295.55 L1790.77,294.04 L1788.62,292.57 L1786.44,291.13 L1784.09,289.61 L1781.54,287.99 L1778.82,286.28 L1775.93,284.45 L1772.92,282.50 L1769.78,280.42 L1766.57,278.21 L1763.30,275.84 L1760.01,273.32 L1756.74,270.65 L1753.52,267.80 L1750.40,264.80 L1747.44,261.67 L1744.66,258.45 L1742.07,255.14 L1739.68,251.73 L1737.49,248.23 L1735.52,244.64 L1733.78,240.97 L1732.29,237.22 L1731.07,233.39 L1730.15,229.48 L1729.54,225.51 L1729.27,221.48 L1729.38,217.39 L1729.86,213.35 L1730.70,209.40 L1731.85,205.54 L1733.28,201.78 L1734.98,198.11 L1736.92,194.55 L1739.07,191.09 L1741.41,187.73 L1743.93,184.47 L1746.62,181.33 L1749.45,178.30 L1752.42,175.38 L1755.51,172.59 L1758.70,169.92 L1761.97,167.37 L1765.31,164.94 L1768.71,162.63 L1772.14,160.42 L1775.60,158.32 L1779.06,156.33 L1782.52,154.43 L1785.96,152.63 L1789.36,150.91 L1792.77,149.25 L1796.21,147.63 L1799.68,146.06 L1803.18,144.53 L1806.71,143.04 L1810.27,141.60 L1813.87,140.21 L1817.49,138.86 L1821.15,137.57 L1824.84,136.32 L1828.57,135.12 L1832.32,133.98 L1836.11,132.88 L1839.93,131.84 L1843.78,130.86 L1847.66,129.93 L1851.58,129.06 L1855.52,128.25 L1859.50,127.50 L1863.50,126.81 L1867.54,126.19 L1871.59,125.63 L1875.68,125.13 L1879.78,124.70 L1883.91,124.33 L1888.06,124.03 L1892.22,123.80 L1896.40,123.64 L1900.60,123.55 L1904.81,123.54 L1909.03,123.60 L1913.25,123.73 L1917.47,123.95 L1921.70,124.24 L1925.92,124.62 L1930.13,125.07 L1934.33,125.60 L1938.50,126.21 L1942.61,126.89 L1946.67,127.64 L1950.67,128.45 L1954.62,129.33 L1958.50,130.26 L1962.34,131.25 L1966.11,132.30 L1969.84,133.39 L1973.51,134.54 L1977.14,135.72 L1980.71,136.95 L1984.25,138.23 L1987.74,139.53 L1991.19,140.88 L1994.60,142.26 L1997.98,143.67 L2001.32,145.11 L2004.63,146.58 L2007.90,148.08 L2011.15,149.60 L2014.37,151.14 L2017.56,152.71 L2020.72,154.30 L2023.86,155.91 L2026.98,157.53 L2030.07,159.18 L2033.14,160.83 L2036.19,162.51 L2039.22,164.19 L2042.23,165.88 L2045.22,167.58 L2048.19,169.29 L2051.14,171.01 L2054.08,172.73 L2056.99,174.45 L2059.89,176.18 L2062.78,177.91 L2065.65,179.63 L2068.50,181.35 L2071.33,183.07 L2074.15,184.78 L2076.95,186.49 L2079.74,188.18 L2082.51,189.87 L2085.26,191.54 L2088.00,193.20 L2090.71,194.84 L2093.42,196.47 L2096.10,198.08 L2098.78,199.67 L2101.45,201.26 L2104.12,202.83 L2106.78,204.40 L2109.42,205.96 L2112.06,207.51 L2114.68,209.05 L2117.30,210.59 L2119.90,212.13 L2122.50,213.66 L2125.08,215.18 L2127.66,216.70 L2130.24,218.22 L2132.80,219.73 L2135.36,221.24 L2137.91,222.75 L2140.46,224.25 L2143.00,225.75 L2145.54,227.24 L2148.07,228.74 L2150.61,230.23 L2153.13,231.72 L2155.66,233.21 L2158.19,234.69 L2160.73,236.17 L2163.27,237.65 L2165.82,239.12 L2168.38,240.58 L2170.95,242.05 L2173.52,243.51 L2176.10,244.96 L2178.69,246.42 L2181.29,247.87 L2183.90,249.32 L2186.52,250.76 L2189.15,252.21 L2191.79,253.65 L2194.44,255.09 L2197.09,256.52 L2199.74,257.94 L2202.38,259.35 L2205.03,260.75 L2207.67,262.14 L2210.31,263.51 L2212.96,264.87 L2215.59,266.21 L2218.23,267.53 L2220.86,268.84 L2223.49,270.13 L2226.11,271.40 L2228.72,272.64 L2231.33,273.87 L2233.93,275.06 L2236.53,276.24 L2239.11,277.39 L2241.69,278.51 L2244.25,279.61 L2246.80,280.67 L2249.34,281.71 L2251.87,282.71 L2254.37,283.68 L2256.87,284.62 L2259.34,285.53 L2261.80,286.40 L2264.23,287.24 L2266.65,288.04 L2269.04,288.80 L2271.40,289.52 L2273.74,290.21 L2276.06,290.85 L2278.35,291.46 L2280.60,292.02 L2282.83,292.55 L2285.02,293.03 L2287.18,293.47 L2289.31,293.88 L2291.39,294.24 L2293.45,294.56 L2295.46,294.84 L2297.44,295.09 L2299.38,295.29 L2301.29,295.46 L2303.16,295.59 L2305.00,295.68 L2306.81,295.74 L2308.59,295.76 L2310.35,295.75 L2312.09,295.70 L2313.81,295.62 L2315.52,295.51 L2317.22,295.36 L2318.92,295.18 L2320.63,294.97 L2322.35,294.71 L2324.08,294.41 L2325.83,294.08 L2327.61,293.69 L2329.41,293.26 L2331.25,292.78 L2333.13,292.24 L2335.04,291.65 L2337.00,291.00 L2338.99,290.28 L2341.03,289.49 L2343.12,288.64 L2345.24,287.71 L2347.41,286.70 L2349.62,285.61 L2351.87,284.44 L2354.15,283.19 L2354.92,282.75 L2362.2,282.3 L2381.8,293.5 C2388.7,297.5 2401.8,303.8 2401.8,311.8 C2401.8,323.8 2375,336.9 2349.82,341.85 L2349.82,341.85 L2345.04,342.63 L2340.24,343.31 L2335.43,343.90 L2330.61,344.38 L2325.80,344.76 L2320.99,345.04 L2316.20,345.23 L2311.43,345.33 L2306.70,345.33 L2302.00,345.24 L2297.34,345.07 L2292.73,344.82 L2288.16,344.48 L2283.65,344.08 L2279.20,343.59 L2274.80,343.04 L2270.45,342.43 L2266.17,341.75 L2261.95,341.01 L2257.78,340.22 L2253.68,339.37 L2249.63,338.48 L2245.63,337.54 L2241.70,336.55 L2237.81,335.52 L2233.98,334.46 L2230.20,333.35 L2226.47,332.21 L2222.79,331.04 L2219.15,329.83 L2215.56,328.60 L2212.01,327.34 L2208.49,326.05 L2205.02,324.74 L2201.58,323.41 L2198.18,322.05 L2194.81,320.68 L2191.48,319.29 L2188.18,317.87 L2184.91,316.45 L2181.67,315.00 L2178.46,313.55 L2175.28,312.08 L2172.12,310.59 L2169.00,309.10 L2165.90,307.60 L2162.82,306.08 L2159.77,304.57 L2156.75,303.04 L2153.75,301.51 L2150.78,299.97 L2147.83,298.44 L2144.90,296.90 L2141.99,295.35 L2139.11,293.81 L2136.26,292.27 L2133.42,290.74 L2130.61,289.20 L2127.81,287.67 L2125.02,286.13 L2122.24,284.59 L2119.48,283.04 L2116.71,281.50 L2113.96,279.95 L2111.22,278.39 L2108.48,276.83 L2105.75,275.27 L2103.03,273.70 L2100.32,272.13 L2097.61,270.55 L2094.91,268.97 L2092.21,267.39 L2089.52,265.79 L2086.82,264.20 L2084.12,262.61 L2081.42,261.01 L2078.71,259.41 L2076.00,257.81 L2073.28,256.20 L2070.56,254.60 L2067.83,252.98 L2065.10,251.37 L2062.36,249.75 L2059.61,248.13 L2056.85,246.50 L2054.09,244.87 L2051.32,243.23 L2048.54,241.59 L2045.75,239.95 L2042.95,238.29 L2040.14,236.63 L2037.32,234.97 L2034.49,233.30 L2031.66,231.61 L2028.82,229.92 L2025.99,228.22 L2023.17,226.52 L2020.35,224.82 L2017.55,223.12 L2014.76,221.43 L2011.97,219.74 L2009.20,218.05 L2006.43,216.38 L2003.68,214.71 L2000.93,213.06 L1998.19,211.42 L1995.46,209.79 L1992.75,208.18 L1990.04,206.59 L1987.34,205.01 L1984.66,203.46 L1981.99,201.93 L1979.33,200.42 L1976.68,198.94 L1974.05,197.48 L1971.44,196.06 L1968.84,194.66 L1966.26,193.30 L1963.70,191.97 L1961.16,190.68 L1958.64,189.42 L1956.15,188.20 L1953.68,187.03 L1951.24,185.89 L1948.83,184.80 L1946.45,183.76 L1944.11,182.76 L1941.81,181.80 L1939.54,180.90 L1937.32,180.05 L1935.14,179.25 L1933.02,178.50 L1930.95,177.80 L1928.93,177.16 L1926.98,176.57 L1925.09,176.03 L1923.27,175.55 L1921.52,175.12 L1919.85,174.74 L1918.25,174.41 L1916.74,174.13 L1915.31,173.89 L1913.96,173.68 L1912.70,173.52 L1911.52,173.38 L1910.36,173.26 L1909.21,173.16 L1908.07,173.07 L1906.91,173.00 L1905.75,172.95 L1904.57,172.91 L1903.37,172.88 L1902.14,172.87 L1900.87,172.88 L1899.56,172.91 L1898.21,172.95 L1896.81,173.02 L1895.37,173.10 L1893.87,173.22 L1892.31,173.35 L1890.70,173.52 L1889.04,173.72 L1887.32,173.96 L1885.55,174.23 L1883.73,174.55 L1881.86,174.90 L1879.95,175.30 L1877.99,175.74 L1875.99,176.23 L1873.94,176.75 L1871.86,177.33 L1869.74,177.95 L1867.58,178.61 L1865.39,179.33 L1863.18,180.08 L1860.93,180.89 L1858.66,181.74 L1856.37,182.63 L1854.05,183.58 L1851.72,184.56 L1849.37,185.60 L1847.01,186.67 L1844.71,187.76 L1842.50,188.84 L1840.38,189.92 L1838.33,191.01 L1836.36,192.12 L1834.46,193.24 L1832.63,194.38 L1830.85,195.57 L1829.13,196.79 L1827.46,198.07 L1825.83,199.41 L1824.25,200.82 L1822.71,202.32 L1821.24,203.89 L1819.85,205.51 L1818.56,207.18 L1817.38,208.87 L1816.33,210.57 L1815.42,212.27 L1814.65,213.95 L1814.03,215.61 L1813.56,217.23 L1813.25,218.80 L1813.09,220.40 L1813.08,222.07 L1813.23,223.82 L1813.55,225.62 L1814.03,227.45 L1814.66,229.30 L1815.44,231.16 L1816.36,233.00 L1817.39,234.81 L1818.54,236.57 L1819.77,238.27 L1821.07,239.88 L1822.41,241.40 L1823.81,242.85 L1825.31,244.27 L1826.93,245.68 L1828.67,247.09 L1830.56,248.51 L1832.58,249.97 L1834.76,251.46 L1837.09,253.01 L1839.57,254.61 L1842.18,256.29 L1844.93,258.05 L1847.79,259.90 L1850.71,261.83 L1853.54,263.75 L1856.27,265.66 L1858.93,267.53 L1861.52,269.38 L1864.06,271.19 L1866.55,272.96 L1869.00,274.69 L1871.42,276.38 L1873.80,278.02 L1876.17,279.61 L1878.51,281.14 L1880.84,282.62 L1883.23,284.09 L1885.70,285.56 L1888.26,287.05 L1890.89,288.55 L1893.60,290.07 L1896.39,291.61 L1899.25,293.17 L1902.17,294.77 L1905.16,296.40 L1908.21,298.06 L1911.30,299.78 L1914.43,301.55 L1917.59,303.37 L1920.77,305.26 L1923.97,307.21 L1927.18,309.23 L1930.39,311.32 L1933.60,313.49 L1936.80,315.73 L1939.97,318.07 L1943.12,320.48 L1946.23,322.99 L1949.30,325.58 L1952.31,328.27 L1955.27,331.05 L1958.17,333.96 L1961.00,336.99 L1963.70,340.15 L1966.26,343.43 L1968.65,346.85 L1970.83,350.40 L1972.78,354.07 L1974.46,357.88 L1975.82,361.82 L1976.83,365.88 L1977.43,370.06 L1977.58,374.32 L1977.28,378.51 L1976.57,382.58 L1975.49,386.54 L1974.10,390.39 L1972.43,394.10 L1970.52,397.70 L1968.41,401.18 L1966.12,404.53 L1963.68,407.77 L1961.14,410.89 L1958.52,413.90 L1955.85,416.80 L1953.11,419.64 L1950.29,422.41 L1947.39,425.13 L1944.42,427.79 L1941.38,430.39 L1938.26,432.93 L1935.08,435.41 L1931.83,437.82 L1928.51,440.17 L1925.12,442.46 L1921.67,444.68 L1918.16,446.84 L1914.58,448.93 L1910.93,450.95 L1907.22,452.90 L1903.45,454.78 L1899.61,456.59 L1895.71,458.32 L1891.74,459.98 L1887.71,461.57 L1883.60,463.07 L1879.43,464.49 L1875.19,465.82 L1870.88,467.07 L1866.50,468.22 L1862.08,469.27 L1857.62,470.21 L1853.14,471.06 L1848.64,471.81 L1844.12,472.46 L1839.60,473.02 L1835.08,473.47 L1830.55,473.84 L1826.04,474.10 L1821.54,474.28 L1817.07,474.36 L1812.62,474.36 L1808.20,474.27 L1803.81,474.10 L1799.45,473.86 L1795.14,473.54 L1790.86,473.14 L1786.63,472.68 L1782.44,472.16 L1778.29,471.57 L1774.18,470.93 L1770.11,470.23 L1766.08,469.47 L1762.11,468.65 L1758.17,467.78 L1754.28,466.85 L1750.43,465.88 L1746.63,464.86 L1742.86,463.80 L1739.14,462.69 L1735.46,461.54 L1731.81,460.36 L1728.20,459.13 L1724.63,457.87 L1721.10,456.58 L1717.60,455.26 L1714.14,453.90 L1710.71,452.51 L1707.32,451.11 L1703.98,449.68 L1700.67,448.22 L1697.39,446.75 L1694.15,445.27 L1690.94,443.76 L1687.77,442.25 L1684.62,440.72 L1681.50,439.18 L1678.40,437.62 L1675.33,436.07 L1672.29,434.50 L1669.27,432.93 L1666.27,431.36 L1663.29,429.78 L1660.33,428.21 L1657.39,426.64 L1654.46,425.07 L1651.55,423.51 L1648.65,421.96 L1645.77,420.41 L1642.91,418.87 L1640.06,417.35 L1637.22,415.84 L1634.40,414.34 L1631.59,412.86 L1628.80,411.39 L1626.02,409.94 L1623.25,408.52 L1620.50,407.12 L1617.77,405.74 L1615.04,404.38 L1612.34,403.06 L1609.65,401.76 L1606.98,400.49 L1604.33,399.25 L1601.71,398.04 L1599.10,396.87 L1596.52,395.73 L1593.97,394.63 L1591.43,393.57 L1588.93,392.54 L1586.46,391.56 L1584.01,390.61 L1581.60,389.72 L1579.23,388.86 L1576.89,388.05 L1574.59,387.29 L1572.33,386.57 L1570.09,385.89 L1567.88,385.25 L1565.69,384.65 L1563.53,384.09 L1561.40,383.57 L1559.30,383.09 L1557.23,382.65 L1555.20,382.24 L1553.20,381.87 L1551.24,381.54 L1549.32,381.25 L1547.44,380.99 L1545.60,380.77 L1543.79,380.58 L1542.03,380.42 L1540.32,380.29 L1538.64,380.18 L1537.00,380.09 L1535.41,380.02 L1533.84,379.96 L1532.31,379.93 L1530.80,379.91 L1529.32,379.91 L1527.85,379.93 L1526.40,379.96 L1524.95,380.01 L1523.51,380.07 L1522.07,380.16 L1520.61,380.25 L1519.15,380.37 L1517.66,380.50 L1516.15,380.66 L1514.60,380.84 L1513.03,381.04 L1511.41,381.28 L1509.76,381.55 L1508.06,381.86 L1506.35,382.21 L1504.63,382.59 L1502.90,383.02 L1501.16,383.48 L1499.41,383.98 L1497.66,384.53 L1495.90,385.12 L1494.14,385.75 L1492.38,386.43 L1490.62,387.16 L1488.86,387.94 L1487.10,388.77 L1485.34,389.66 L1483.59,390.60 L1481.84,391.61 L1480.11,392.68 L1478.38,393.82 L1476.66,395.03 L1474.97,396.31 L1473.29,397.67 L1471.63,399.10 L1470.00,400.62 L1468.40,402.22 L1466.83,403.92 L1465.30,405.70 L1463.83,407.56 L1462.42,409.49 L1461.10,411.48 L1459.88,413.51 L1458.78,415.56 L1457.80,417.64 L1456.95,419.72 L1456.25,421.79 L1455.68,423.84 L1455.27,425.86 L1455.01,427.82 L1454.90,429.73 L1454.93,431.56 L1455.11,433.31 L1455.43,434.96 L1455.87,436.51 L1456.48,438.07 L1457.28,439.70 L1458.25,441.37 L1459.39,443.09 L1460.69,444.85 L1462.15,446.64 L1463.75,448.44 L1465.44,450.24 L1467.16,451.97 L1468.93,453.66 L1470.73,455.29 L1472.58,456.88 L1474.46,458.43 L1476.39,459.94 L1478.36,461.42 L1480.37,462.87 L1482.42,464.29 L1484.53,465.69 L1486.68,467.07 L1488.87,468.44 L1491.12,469.79 L1493.41,471.14 L1495.76,472.48 L1498.15,473.81 L1500.59,475.15 L1503.07,476.48 L1505.60,477.83 L1508.18,479.18 L1510.80,480.54 L1513.47,481.91 L1516.17,483.30 L1518.92,484.71 L1521.71,486.14 L1524.53,487.59 L1527.37,489.06 L1530.25,490.56 L1533.16,492.10 L1536.09,493.66 L1539.04,495.26 L1542.01,496.91 L1545.00,498.59 L1548.01,500.32 L1551.02,502.10 L1554.05,503.92 L1557.07,505.80 L1560.10,507.73 L1563.13,509.72 L1566.15,511.76 L1569.15,513.86 L1572.14,516.03 L1575.11,518.26 L1578.06,520.56 L1580.97,522.92 L1583.85,525.35 L1586.69,527.85 L1589.50,530.42 L1592.26,533.06 L1594.99,535.79 L1597.70,538.64 L1600.39,541.62 L1603.01,544.72 L1605.54,547.95 L1607.95,551.31 L1610.20,554.79 L1612.27,558.41 L1614.11,562.16 L1615.68,566.03 L1616.95,570.04 L1617.86,574.16 L1618.38,578.38 L1618.48,582.53 L1618.19,586.60 L1617.57,590.58 L1616.65,594.47 L1615.46,598.27 L1614.02,601.97 L1612.38,605.58 L1610.55,609.08 L1608.55,612.49 L1606.41,615.79 L1604.15,618.99 L1601.77,622.08 L1599.28,625.10 L1596.68,628.04 L1593.97,630.91 L1591.15,633.70 L1588.22,636.42 L1585.20,639.05 L1582.08,641.61 L1578.86,644.09 L1575.55,646.49 L1572.15,648.81 L1568.66,651.05 L1565.10,653.21 L1561.45,655.28 L1557.73,657.28 L1553.93,659.19 L1550.07,661.02 L1546.14,662.76 L1542.15,664.42 L1538.10,665.99 L1534.00,667.48 L1529.85,668.89 L1525.65,670.21 L1521.41,671.44 L1517.12,672.59 L1512.81,673.65 L1508.46,674.62 L1504.08,675.51 L1499.69,676.32 L1495.28,677.06 L1490.85,677.71 L1486.42,678.28 L1481.97,678.78 L1477.51,679.19 L1473.05,679.53 L1468.58,679.78 L1464.12,679.96 L1459.65,680.05 L1455.21,680.07 L1450.80,680.00 L1446.42,679.86 L1442.08,679.65 L1437.77,679.37 L1433.49,679.01 L1429.26,678.60 L1425.07,678.12 L1420.92,677.58 L1416.82,676.98 L1412.76,676.31 L1408.75,675.59 L1404.79,674.82 L1400.88,673.99 L1397.01,673.11 L1393.19,672.18 L1389.41,671.21 L1385.68,670.20 L1382.00,669.15 L1378.35,668.06 L1374.75,666.94 L1371.18,665.78 L1367.66,664.59 L1364.17,663.37 L1360.71,662.12 L1357.29,660.84 L1353.90,659.54 L1350.54,658.22 L1347.21,656.87 L1343.91,655.51 L1340.64,654.12 L1337.39,652.72 L1334.17,651.30 L1330.97,649.87 L1327.80,648.42 L1324.65,646.96 L1321.52,645.49 L1318.41,644.01 L1315.32,642.52 L1312.26,641.02 L1309.22,639.51 L1306.20,638.00 L1303.20,636.48 L1300.23,634.96 L1297.28,633.44 L1294.35,631.91 L1291.44,630.38 L1288.55,628.85 L1285.68,627.33 L1282.84,625.81 L1280.02,624.30 L1277.22,622.79 L1274.45,621.30 L1271.69,619.82 L1268.97,618.35 L1266.26,616.89 L1263.57,615.46 L1260.91,614.04 L1258.27,612.63 L1255.65,611.25 L1253.05,609.90 L1250.46,608.57 L1247.90,607.27 L1245.35,606.00 L1242.82,604.75 L1240.31,603.54 L1237.82,602.36 L1235.36,601.22 L1232.91,600.11 L1230.49,599.04 L1228.10,598.01 L1225.73,597.01 L1223.38,596.06 L1221.07,595.15 L1218.79,594.28 L1216.53,593.45 L1214.31,592.67 L1212.13,591.93 L1209.98,591.24 L1207.86,590.59 L1205.79,589.98 L1203.76,589.43 L1201.76,588.91 L1199.81,588.44 L1197.90,588.01 L1196.03,587.63 L1194.19,587.28 L1192.36,586.97 L1190.54,586.69 L1188.73,586.45 L1186.93,586.23 L1185.14,586.05 L1183.36,585.90 L1181.59,585.78 L1179.84,585.69 L1178.10,585.63 L1176.37,585.59 L1174.66,585.58 L1172.95,585.61 L1171.26,585.65 L1169.57,585.73 L1167.90,585.83 L1166.23,585.96 L1164.56,586.12 L1162.90,586.31 L1161.25,586.52 L1159.59,586.77 L1157.94,587.04 L1156.28,587.34 L1154.62,587.68 L1152.95,588.04 L1151.28,588.44 L1149.61,588.88 L1147.92,589.35 L1146.23,589.86 L1144.53,590.41 L1142.82,591.01 L1141.10,591.65 L1139.37,592.33 L1137.64,593.07 L1135.90,593.85 L1134.15,594.68 L1132.39,595.57 L1130.63,596.51 L1128.87,597.50 L1127.10,598.56 L1125.34,599.68 L1123.57,600.85 L1121.81,602.09 L1120.05,603.40 L1118.30,604.77 L1116.56,606.20 L1114.83,607.71 L1113.12,609.28 L1111.42,610.93 L1109.76,612.64 L1108.19,614.35 L1106.74,616.04 L1105.42,617.70 L1104.25,619.32 L1103.21,620.90 L1102.30,622.42 L1101.53,623.87 L1100.90,625.26 L1100.40,626.57 L1100.03,627.82 L1099.77,629.00 L1099.62,630.19 L1099.60,631.54 L1099.72,633.03 L1099.99,634.64 L1100.42,636.34 L1101.01,638.10 L1101.73,639.91 L1102.59,641.73 L1103.57,643.55 L1104.64,645.33 L1105.78,647.07 L1106.96,648.73 L1108.20,650.32 L1109.52,651.88 L1110.95,653.42 L1112.48,654.93 L1114.13,656.45 L1115.90,657.98 L1117.80,659.52 L1119.83,661.09 L1121.99,662.69 L1124.27,664.34 L1126.68,666.03 L1129.21,667.78 L1131.82,669.59 L1134.42,671.41 L1136.99,673.21 L1139.53,675.00 L1142.06,676.77 L1144.58,678.52 L1147.09,680.25 L1149.59,681.97 L1152.09,683.66 L1154.59,685.33 L1157.10,686.98 L1159.60,688.61 L1162.12,690.22 L1164.64,691.81 L1167.17,693.38 L1169.71,694.93 L1172.27,696.45 L1174.85,697.96 L1177.45,699.44 L1180.07,700.90 L1182.71,702.34 L1185.37,703.76 L1188.06,705.16 L1190.77,706.54 L1193.50,707.90 L1196.26,709.27 L1199.16,710.71 L1202.21,712.22 L1205.39,713.82 L1208.68,715.51 L1212.08,717.32 L1215.57,719.24 L1219.11,721.28 L1222.70,723.47 L1226.31,725.79 L1229.90,728.27 L1233.46,730.91 L1236.95,733.70 L1240.31,736.63 L1243.51,739.67 L1246.56,742.82 L1249.44,746.08 L1252.13,749.46 L1254.60,752.95 L1256.84,756.56 L1258.83,760.27 L1260.54,764.09 L1261.95,768.01 L1263.02,772.03 L1263.74,776.15 L1264.08,780.33 L1264.03,784.46 L1263.62,788.52 L1262.90,792.49 L1261.90,796.38 L1260.64,800.19 L1259.15,803.90 L1257.47,807.52 L1255.60,811.05 L1253.59,814.48 L1251.43,817.82 L1249.17,821.06 L1246.80,824.19 L1244.34,827.26 L1241.77,830.27 L1239.12,833.21 L1236.37,836.09 L1233.53,838.90 L1230.60,841.64 L1227.59,844.32 L1224.50,846.93 L1221.32,849.47 L1218.06,851.95 L1214.72,854.35 L1211.30,856.68 L1207.80,858.95 L1204.23,861.14 L1200.58,863.26 L1196.86,865.31 L1193.07,867.28 L1189.20,869.17 L1185.25,870.99 L1181.24,872.73 L1177.14,874.39 L1172.98,875.97 L1168.74,877.46 L1164.43,878.87 L1160.06,880.18 L1155.64,881.40 L1151.16,882.52 L1146.64,883.54 L1142.08,884.47 L1137.49,885.29 L1132.86,886.01 L1128.22,886.63 L1123.57,887.15 L1118.91,887.56 L1114.25,887.88 L1109.60,888.10 L1104.97,888.23 L1100.37,888.26 L1095.79,888.20 L1091.24,888.05 L1086.74,887.81 L1082.28,887.50 L1077.86,887.10 L1073.49,886.63 L1069.17,886.09 L1064.91,885.48 L1060.69,884.80 L1056.53,884.06 L1052.42,883.26 L1048.37,882.40 L1044.36,881.49 L1040.41,880.53 L1036.51,879.52 L1032.65,878.47 L1028.85,877.37 L1025.09,876.22 L1021.38,875.04 L1017.71,873.81 L1014.08,872.55 L1010.50,871.25 L1006.95,869.92 L1003.45,868.55 L999.98,867.16 L996.56,865.73 L993.17,864.27 L989.81,862.78 L986.49,861.27 L983.20,859.73 L979.95,858.17 L976.73,856.58 L973.54,854.97 L970.38,853.33 L967.26,851.68 L964.16,850.01 L961.11,848.32 L958.09,846.62 L955.12,844.92 L952.17,843.22 L949.24,841.52 L946.35,839.83 L943.47,838.14 L940.62,836.46 L937.78,834.79 L934.97,833.12 L932.17,831.47 L929.38,829.83 L926.61,828.21 L923.86,826.61 L921.11,825.03 L918.38,823.47 L915.66,821.93 L912.96,820.41 L910.26,818.93 L907.57,817.47 L904.90,816.05 L902.24,814.66 L899.60,813.30 L896.98,811.97 L894.39,810.68 L891.82,809.42 L889.27,808.20 L886.76,807.03 L884.27,805.89 L881.81,804.80 L879.38,803.75 L876.98,802.75 L874.62,801.80 L872.30,800.90 L870.02,800.05 L867.78,799.25 L865.58,798.51 L863.42,797.82 L861.28,797.16 L859.15,796.55 L857.04,795.97 L854.95,795.44 L852.88,794.95 L850.84,794.49 L848.82,794.07 L846.82,793.69 L844.85,793.35 L842.90,793.04 L840.98,792.77 L839.09,792.53 L837.23,792.33 L835.40,792.16 L833.59,792.01 L831.82,791.89 L830.07,791.80 L828.34,791.73 L826.64,791.68 L824.96,791.66 L823.30,791.66 L821.66,791.68 L820.03,791.72 L818.41,791.78 L816.80,791.87 L815.19,791.98 L813.59,792.11 L811.98,792.26 L810.37,792.43 L808.75,792.63 L807.11,792.86 L805.46,793.11 L803.80,793.39 L802.11,793.70 L800.41,794.05 L798.69,794.43 L796.94,794.85 L795.17,795.31 L793.38,795.82 L791.57,796.37 L789.73,796.96 L787.86,797.60 L785.97,798.29 L784.06,799.03 L782.12,799.82 L780.16,800.67 L778.18,801.57 L776.18,802.53 L774.17,803.55 L772.18,804.60 L770.23,805.68 L768.31,806.81 L766.43,807.98 L764.59,809.19 L762.78,810.44 L761.01,811.75 L759.27,813.10 L757.59,814.52 L755.94,815.99 L754.34,817.52 L752.78,819.12 L751.28,820.79 L749.85,822.52 L748.51,824.28 L747.25,826.07 L746.10,827.88 L745.06,829.68 L744.15,831.48 L743.37,833.24 L742.72,834.97 L742.21,836.65 L741.84,838.28 L741.61,839.84 L741.51,841.37 L741.55,842.97 L741.74,844.62 L742.06,846.32 L742.53,848.04 L743.13,849.78 L743.86,851.51 L744.70,853.22 L745.64,854.89 L746.67,856.51 L747.76,858.05 L748.90,859.51 L750.12,860.91 L751.44,862.28 L752.88,863.64 L754.44,865.01 L756.14,866.38 L757.98,867.78 L759.97,869.20 L762.10,870.66 L764.39,872.16 L766.81,873.72 L769.38,875.33 L772.07,877.01 L774.85,878.75 L777.60,880.49 L780.31,882.22 L782.97,883.94 L785.61,885.63 L788.21,887.31 L790.79,888.97 L793.34,890.61 L795.88,892.23 L798.39,893.83 L800.89,895.41 L803.38,896.96 L805.85,898.49 L808.33,900.00 L810.82,901.50 L813.32,902.98 L815.83,904.45 L818.35,905.91 L820.90,907.35 L823.46,908.78 L826.04,910.21 L828.64,911.62 L831.27,913.02 L833.92,914.42 L836.59,915.81 L839.33,917.23 L842.23,918.73 L845.28,920.32 L848.45,922.01 L851.74,923.81 L855.12,925.73 L858.56,927.78 L862.05,929.97 L865.54,932.30 L869.02,934.79 L872.45,937.44 L875.80,940.24 L879.05,943.21 L882.12,946.30 L884.99,949.48 L887.68,952.74 L890.17,956.09 L892.47,959.51 L894.57,963.01 L896.45,966.58 L898.10,970.22 L899.51,973.91 L900.66,977.66 L901.53,981.47 L902.10,985.34 L902.33,989.20 L902.24,993.02 L901.83,996.79 L901.12,1000.49 L900.14,1004.12 L898.89,1007.67 L897.40,1011.15 L895.68,1014.55 L893.76,1017.87 L891.65,1021.11 L889.36,1024.26 L886.92,1027.33 L884.34,1030.32 L881.63,1033.22 L878.82,1036.05 L875.90,1038.79 L872.90,1041.45 L869.83,1044.04 L866.69,1046.55 L863.51,1048.98 L860.29,1051.33 L857.04,1053.61 L853.78,1055.82 L850.51,1057.95 L847.24,1060.01 L843.93,1062.02 L840.59,1063.98 L837.20,1065.90 L833.78,1067.76 L830.30,1069.58 L826.78,1071.34 L823.21,1073.05 L819.59,1074.70 L815.91,1076.30 L812.17,1077.84 L808.37,1079.31 L804.50,1080.73 L800.57,1082.08 L796.57,1083.36 L792.50,1084.57 L788.36,1085.72 L784.16,1086.78 L779.88,1087.77 L775.52,1088.68 L771.10,1089.50 L766.62,1090.23 L762.06,1090.87 L757.45,1091.41 L752.78,1091.84 L748.10,1092.17 L743.41,1092.39 L738.75,1092.51 L734.10,1092.53 L729.48,1092.46 L724.89,1092.29 L720.33,1092.03 L715.82,1091.68 L711.34,1091.25 L706.91,1090.75 L702.53,1090.16 L698.19,1089.51 L693.90,1088.78 L689.66,1087.98 L685.47,1087.11 L681.34,1086.19 L677.25,1085.20 L673.21,1084.16 L669.22,1083.06 L665.28,1081.91 L661.39,1080.70 L657.54,1079.45 L653.75,1078.15 L650.00,1076.81 L646.29,1075.42 L642.64,1074.00 L639.05,1072.54 L635.52,1071.06 L632.04,1069.54 L628.60,1068.00 L625.22,1066.43 L621.88,1064.84 L618.59,1063.23 L615.34,1061.60 L612.13,1059.95 L608.96,1058.29 L605.82,1056.61 L602.71,1054.92 L599.64,1053.22 L596.60,1051.51 L593.59,1049.80 L590.61,1048.08 L587.65,1046.35 L584.72,1044.62 L581.81,1042.89 L578.93,1041.16 L576.07,1039.44 L573.23,1037.71 L570.41,1035.99 L567.61,1034.28 L564.82,1032.58 L562.06,1030.88 L559.31,1029.20 L556.59,1027.53 L553.87,1025.88 L551.18,1024.24 L548.50,1022.62 L545.84,1021.02 L543.19,1019.44 L540.56,1017.88 L537.94,1016.35 L535.34,1014.85 L532.75,1013.36 L530.14,1011.89 L527.53,1010.43 L524.91,1008.98 L522.29,1007.54 L519.66,1006.12 L517.02,1004.70 L514.38,1003.30 L511.73,1001.91 L509.07,1000.52 L506.41,999.15 L503.74,997.79 L501.06,996.43 L498.37,995.09 L495.68,993.75 L492.99,992.42 L490.31,991.08 L487.63,989.75 L484.95,988.41 L482.28,987.08 L479.62,985.74 L476.96,984.40 L474.31,983.06 L471.66,981.72 L469.01,980.37 L466.37,979.02 L463.73,977.67 L461.10,976.31 L458.47,974.95 L455.84,973.58 L453.22,972.21 L450.60,970.83 L447.99,969.45 L445.38,968.06 L442.77,966.67 L440.16,965.28 L437.54,963.88 L434.91,962.49 L432.27,961.10 L429.63,959.71 L426.97,958.31 L424.31,956.92 L421.65,955.53 L418.97,954.14 L416.29,952.75 L413.60,951.35 L410.90,949.96 L408.20,948.56 L405.49,947.16 L402.78,945.76 L400.09,944.37 L397.43,943.00 L394.80,941.66 L392.21,940.33 L389.65,939.04 L387.13,937.77 L384.63,936.53 L382.17,935.32 L379.75,934.14 L377.35,933.01 L375.00,931.91 L372.68,930.85 L370.40,929.83 L368.16,928.85 L365.96,927.92 L363.80,927.04 L361.69,926.20 L359.63,925.41 L357.63,924.67 L355.67,923.98 L353.77,923.34 L351.92,922.76 L350.13,922.23 L348.40,921.75 L346.73,921.33 L345.13,920.96 L343.58,920.64 L342.09,920.36 L340.67,920.14 L339.29,919.95 L337.93,919.80 L336.56,919.69 L335.16,919.61 L333.74,919.57 L332.30,919.57 L330.84,919.60 L329.37,919.66 L327.87,919.77 L326.35,919.92 L324.81,920.10 L323.26,920.32 L321.68,920.58 L320.09,920.87 L318.47,921.21 L316.84,921.58 L315.19,921.99 L313.53,922.45 L311.85,922.94 L310.16,923.48 L308.46,924.07 L306.75,924.70 L305.04,925.38 L303.32,926.11 L301.60,926.88 L299.87,927.70 L298.15,928.58 L296.43,929.51 L294.72,930.48 L293.02,931.52 L291.34,932.60 L289.67,933.74 L288.02,934.94 L287.47,935.35 Z" fill="url(#rg)" stroke="url(#eg)" stroke-width="1.4"/>
<path d="M251.05,920.34 L252.66,919.14 L254.29,917.97 L255.95,916.83 L257.63,915.71 L259.34,914.62 L261.07,913.56 L262.82,912.53 L264.60,911.52 L266.40,910.54 L268.21,909.59 L270.05,908.67 L271.91,907.78 L273.78,906.91 L275.67,906.08 L277.58,905.27 L279.51,904.49 L281.45,903.74 L283.41,903.01 L285.38,902.32 L287.36,901.65 L289.36,901.01 L291.37,900.40 L293.39,899.82 L295.42,899.27 L297.46,898.75 L299.51,898.26 L301.57,897.79 L303.64,897.36 L305.71,896.95 L307.79,896.57 L309.88,896.23 L311.97,895.91 L314.06,895.62 L316.16,895.36 L318.27,895.13 L320.37,894.93 L322.48,894.76 L324.59,894.62 L326.70,894.51 L328.80,894.43 L330.91,894.37 L333.01,894.35 L335.12,894.36 L337.21,894.40 L339.31,894.47 L341.40,894.57 L343.48,894.70 L345.56,894.86 L347.63,895.05 L349.70,895.27 L351.76,895.51 L353.81,895.79 L355.85,896.10 L357.89,896.43 L359.92,896.79 L361.95,897.18 L363.96,897.59 L365.98,898.03 L367.98,898.49 L369.99,898.97 L371.98,899.48 L373.97,900.01 L375.96,900.56 L377.94,901.13 L379.92,901.72 L381.89,902.33 L383.85,902.96 L385.82,903.61 L387.77,904.28 L389.73,904.96 L391.68,905.66 L393.62,906.37 L395.56,907.10 L397.50,907.84 L399.44,908.59 L401.37,909.36 L403.30,910.14 L405.22,910.93 L407.14,911.73 L409.06,912.55 L410.98,913.37 L412.90,914.20 L414.81,915.04 L416.72,915.88 L418.63,916.73 L420.54,917.59 L422.44,918.45 L424.34,919.32 L426.25,920.19 L428.15,921.07 L430.05,921.95 L431.95,922.83 L433.85,923.71 L435.74,924.59 L437.64,925.47 L439.54,926.36 L441.43,927.24 L443.33,928.12 L445.22,929.00 L447.12,929.89 L449.01,930.77 L450.90,931.65 L452.80,932.54 L454.69,933.42 L456.58,934.31 L458.47,935.20 L460.36,936.09 L462.24,936.98 L464.13,937.87 L466.01,938.76 L467.90,939.65 L469.78,940.55 L471.66,941.45 L473.55,942.34 L475.42,943.24 L477.30,944.15 L479.18,945.05 L481.06,945.96 L482.93,946.86 L484.80,947.77 L486.67,948.69 L488.54,949.60 L490.41,950.52 L492.28,951.44 L494.14,952.36 L495.08,952.82" fill="none" stroke="url(#dg)" stroke-width="2.2" stroke-dasharray="20 19" stroke-dashoffset="8.36"/>
<path d="M495.08,952.82 L496.94,953.75 L498.80,954.68 L500.66,955.61 L502.52,956.54 L504.37,957.48 L506.23,958.42 L508.08,959.37 L509.93,960.31 L511.78,961.27 L513.62,962.22 L515.47,963.18 L517.31,964.14 L519.15,965.11 L520.99,966.08 L522.82,967.05 L524.66,968.03 L526.49,969.01 L528.32,969.99 L530.14,970.98 L531.97,971.98 L533.79,972.98 L535.61,973.98 L537.42,974.99 L539.24,976.00 L541.05,977.02 L542.86,978.04 L544.67,979.07 L546.47,980.10 L548.27,981.14 L550.07,982.18 L551.87,983.23 L553.66,984.29 L555.45,985.34 L557.24,986.41 L559.02,987.48 L560.80,988.56 L562.58,989.64 L564.36,990.73 L566.13,991.82 L567.90,992.92 L569.66,994.03 L571.43,995.14 L573.18,996.26 L574.94,997.39 L576.69,998.52 L578.44,999.65 L580.19,1000.80 L581.94,1001.94 L583.68,1003.10 L585.42,1004.25 L587.16,1005.41 L588.90,1006.57 L590.64,1007.74 L592.37,1008.90 L594.11,1010.07 L595.84,1011.24 L597.57,1012.41 L599.31,1013.58 L601.04,1014.75 L602.78,1015.92 L604.51,1017.09 L606.25,1018.26 L607.98,1019.43 L609.72,1020.59 L611.46,1021.75 L613.20,1022.91 L614.94,1024.06 L616.69,1025.21 L618.43,1026.35 L620.18,1027.49 L621.94,1028.63 L623.69,1029.76 L625.45,1030.88 L627.21,1031.99 L628.98,1033.10 L630.75,1034.20 L632.52,1035.29 L634.30,1036.37 L636.08,1037.45 L637.87,1038.51 L639.67,1039.57 L641.46,1040.61 L643.27,1041.65 L645.08,1042.67 L646.89,1043.68 L648.71,1044.68 L650.54,1045.66 L652.38,1046.63 L654.22,1047.59 L656.07,1048.54 L657.92,1049.47 L659.79,1050.38 L661.66,1051.28 L663.54,1052.17 L665.43,1053.03 L667.32,1053.88 L669.23,1054.72 L671.14,1055.54 L673.06,1056.33 L674.99,1057.11 L676.94,1057.88 L678.88,1058.62 L680.84,1059.34 L682.81,1060.04 L684.78,1060.72 L686.76,1061.39 L688.75,1062.03 L690.74,1062.65 L692.74,1063.24 L694.75,1063.82 L696.76,1064.37 L698.77,1064.90 L700.79,1065.41 L702.82,1065.89 L704.84,1066.35 L706.87,1066.78 L708.91,1067.19 L710.95,1067.58 L712.99,1067.94 L715.03,1068.27 L717.07,1068.58 L719.12,1068.86 L721.16,1069.11 L723.21,1069.34 L725.26,1069.54 L726.28,1069.63" fill="none" stroke="url(#dg)" stroke-width="2.2" stroke-dasharray="20 19" stroke-dashoffset="37.45"/>
<path d="M726.28,1069.63 L728.33,1069.78 L730.38,1069.91 L732.42,1070.01 L734.47,1070.08 L736.51,1070.12 L738.55,1070.13 L740.59,1070.11 L742.62,1070.06 L744.66,1069.97 L746.69,1069.86 L748.71,1069.71 L750.73,1069.53 L752.75,1069.32 L754.76,1069.08 L756.77,1068.81 L758.78,1068.50 L760.78,1068.17 L762.78,1067.80 L764.77,1067.40 L766.76,1066.97 L768.75,1066.52 L770.73,1066.03 L772.71,1065.51 L774.69,1064.96 L776.66,1064.39 L778.63,1063.78 L780.59,1063.15 L782.55,1062.48 L784.51,1061.79 L786.46,1061.07 L788.41,1060.32 L790.36,1059.54 L792.30,1058.74 L794.24,1057.91 L796.18,1057.05 L798.11,1056.16 L800.04,1055.25 L801.97,1054.30 L803.89,1053.34 L805.81,1052.34 L807.72,1051.33 L809.64,1050.28 L811.55,1049.21 L813.45,1048.11 L815.36,1046.99 L817.26,1045.85 L819.15,1044.67 L821.05,1043.48 L822.94,1042.26 L824.82,1041.01 L826.69,1039.74 L828.55,1038.45 L830.39,1037.14 L832.21,1035.80 L834.01,1034.44 L835.79,1033.06 L837.53,1031.65 L839.25,1030.23 L840.93,1028.78 L842.58,1027.31 L844.18,1025.82 L845.74,1024.31 L847.26,1022.78 L848.72,1021.23 L850.14,1019.66 L851.49,1018.07 L852.80,1016.47 L854.04,1014.84 L855.21,1013.20 L856.32,1011.54 L857.37,1009.86 L858.33,1008.16 L859.23,1006.45 L860.04,1004.71 L860.77,1002.97 L861.42,1001.20 L861.98,999.43 L862.45,997.63 L862.83,995.82 L863.11,994.00 L863.29,992.16 L863.37,990.31 L863.34,988.44 L863.21,986.56 L862.97,984.66 L862.62,982.76 L862.16,980.85 L861.61,978.94 L860.96,977.03 L860.22,975.13 L859.39,973.24 L858.48,971.36 L857.48,969.49 L856.41,967.65 L855.27,965.83 L854.05,964.04 L852.78,962.28 L851.44,960.56 L850.04,958.87 L848.59,957.23 L847.08,955.64 L845.54,954.09 L843.94,952.61 L842.31,951.17 L840.65,949.78 L838.94,948.45 L837.21,947.15 L835.45,945.90 L833.66,944.69 L831.85,943.51 L830.02,942.36 L828.17,941.25 L826.30,940.16 L824.43,939.09 L822.54,938.05 L820.65,937.02 L818.76,936.01 L816.86,935.01 L814.97,934.02 L813.08,933.03 L811.20,932.05 L809.32,931.07 L807.46,930.09 L805.61,929.11 L804.69,928.61" fill="none" stroke="url(#dg)" stroke-width="2.2" stroke-dasharray="20 19" stroke-dashoffset="27.72"/>
<path d="M804.69,928.61 L802.85,927.63 L801.03,926.64 L799.21,925.65 L797.40,924.66 L795.59,923.67 L793.80,922.68 L792.01,921.68 L790.22,920.69 L788.44,919.69 L786.67,918.68 L784.90,917.68 L783.13,916.67 L781.37,915.66 L779.61,914.64 L777.85,913.62 L776.09,912.60 L774.33,911.58 L772.58,910.55 L770.82,909.52 L769.07,908.49 L767.31,907.45 L765.55,906.41 L763.78,905.37 L762.01,904.33 L760.24,903.29 L758.45,902.25 L756.67,901.21 L754.87,900.16 L753.07,899.12 L751.26,898.07 L749.44,897.03 L747.61,895.99 L745.76,894.95 L743.91,893.90 L742.04,892.86 L740.17,891.82 L738.29,890.78 L736.40,889.72 L734.52,888.66 L732.64,887.59 L730.77,886.50 L728.90,885.39 L727.05,884.26 L725.22,883.11 L723.41,881.93 L721.61,880.73 L719.85,879.49 L718.11,878.22 L716.41,876.92 L714.74,875.57 L713.11,874.19 L711.52,872.75 L709.97,871.28 L708.47,869.75 L707.03,868.18 L705.64,866.56 L704.31,864.90 L703.05,863.21 L701.86,861.48 L700.74,859.71 L699.70,857.92 L698.75,856.10 L697.88,854.26 L697.10,852.39 L696.42,850.51 L695.84,848.61 L695.37,846.69 L695.00,844.77 L694.75,842.84 L694.62,840.90 L694.60,838.96 L694.71,837.02 L694.93,835.08 L695.27,833.15 L695.70,831.22 L696.24,829.30 L696.88,827.40 L697.60,825.50 L698.42,823.63 L699.32,821.77 L700.29,819.93 L701.34,818.11 L702.46,816.31 L703.64,814.55 L704.88,812.81 L706.18,811.10 L707.53,809.43 L708.92,807.79 L710.36,806.19 L711.83,804.63 L713.35,803.10 L714.90,801.61 L716.48,800.15 L718.10,798.73 L719.75,797.35 L721.42,796.00 L723.13,794.68 L724.86,793.40 L726.62,792.14 L728.40,790.92 L730.20,789.74 L732.02,788.58 L733.86,787.45 L735.72,786.35 L737.59,785.28 L739.47,784.24 L741.37,783.23 L743.27,782.25 L745.19,781.29 L747.11,780.36 L749.04,779.46 L750.97,778.58 L752.92,777.73 L754.87,776.91 L756.83,776.11 L758.80,775.34 L760.78,774.60 L762.76,773.88 L764.74,773.19 L766.74,772.53 L768.74,771.89 L770.74,771.27 L772.75,770.69 L774.77,770.12 L775.78,769.85" fill="none" stroke="url(#dg)" stroke-width="2.2" stroke-dasharray="20 19" stroke-dashoffset="18.19"/>
<path d="M775.78,769.85 L777.80,769.33 L779.83,768.83 L781.86,768.36 L783.90,767.91 L785.94,767.48 L787.98,767.09 L790.03,766.71 L792.08,766.36 L794.14,766.04 L796.19,765.74 L798.25,765.47 L800.31,765.21 L802.38,764.99 L804.44,764.79 L806.51,764.61 L808.58,764.45 L810.65,764.32 L812.72,764.21 L814.79,764.13 L816.86,764.07 L818.93,764.03 L821.00,764.02 L823.08,764.02 L825.15,764.06 L827.22,764.11 L829.29,764.19 L831.35,764.29 L833.42,764.41 L835.49,764.56 L837.55,764.72 L839.61,764.91 L841.67,765.13 L843.72,765.36 L845.78,765.62 L847.83,765.89 L849.87,766.19 L851.92,766.51 L853.96,766.86 L855.99,767.22 L858.02,767.61 L860.05,768.01 L862.07,768.44 L864.09,768.89 L866.10,769.36 L868.10,769.85 L870.10,770.36 L872.10,770.89 L874.09,771.44 L876.07,772.01 L878.05,772.60 L880.01,773.22 L881.98,773.85 L883.93,774.50 L885.88,775.17 L887.82,775.86 L889.75,776.57 L891.67,777.30 L893.58,778.05 L895.49,778.82 L897.39,779.61 L899.28,780.41 L901.16,781.23 L903.04,782.07 L904.91,782.93 L906.78,783.80 L908.63,784.68 L910.48,785.58 L912.33,786.49 L914.17,787.42 L916.01,788.36 L917.84,789.31 L919.66,790.28 L921.48,791.25 L923.30,792.24 L925.11,793.23 L926.92,794.24 L928.73,795.25 L930.54,796.28 L932.34,797.31 L934.14,798.35 L935.93,799.39 L937.73,800.44 L939.52,801.50 L941.31,802.57 L943.11,803.64 L944.90,804.71 L946.69,805.79 L948.48,806.87 L950.27,807.95 L952.06,809.04 L953.85,810.12 L955.64,811.21 L957.43,812.30 L959.23,813.39 L961.02,814.48 L962.82,815.57 L964.62,816.65 L966.42,817.74 L968.23,818.82 L970.03,819.90 L971.85,820.97 L973.66,822.04 L975.48,823.11 L977.30,824.17 L979.13,825.23 L980.96,826.28 L982.80,827.32 L984.64,828.35 L986.49,829.38 L988.34,830.40 L990.20,831.41 L992.07,832.41 L993.94,833.40 L995.82,834.38 L997.71,835.35 L999.60,836.31 L1001.50,837.25 L1003.40,838.19 L1005.31,839.11 L1007.23,840.02 L1009.15,840.92 L1011.08,841.81 L1013.01,842.68 L1014.95,843.54 L1016.89,844.38 L1017.86,844.80" fill="none" stroke="url(#dg)" stroke-width="2.2" stroke-dasharray="20 19" stroke-dashoffset="8.42"/>
<path d="M1017.86,844.80 L1019.81,845.63 L1021.77,846.44 L1023.73,847.23 L1025.69,848.01 L1027.66,848.78 L1029.64,849.52 L1031.61,850.26 L1033.59,850.97 L1035.58,851.67 L1037.57,852.36 L1039.56,853.02 L1041.55,853.67 L1043.55,854.30 L1045.55,854.91 L1047.56,855.51 L1049.56,856.08 L1051.57,856.64 L1053.58,857.17 L1055.60,857.69 L1057.62,858.19 L1059.63,858.66 L1061.65,859.12 L1063.68,859.56 L1065.70,859.97 L1067.73,860.36 L1069.75,860.74 L1071.78,861.09 L1073.81,861.41 L1075.84,861.72 L1077.87,862.00 L1079.90,862.26 L1081.93,862.49 L1083.96,862.70 L1086.00,862.89 L1088.03,863.05 L1090.06,863.19 L1092.09,863.30 L1094.12,863.39 L1096.16,863.45 L1098.19,863.49 L1100.22,863.49 L1102.24,863.48 L1104.27,863.43 L1106.30,863.36 L1108.32,863.26 L1110.35,863.14 L1112.37,862.98 L1114.39,862.80 L1116.41,862.59 L1118.42,862.35 L1120.44,862.08 L1122.45,861.78 L1124.46,861.45 L1126.46,861.09 L1128.47,860.70 L1130.47,860.28 L1132.46,859.83 L1134.46,859.35 L1136.45,858.83 L1138.44,858.29 L1140.42,857.71 L1142.40,857.10 L1144.38,856.45 L1146.35,855.77 L1148.31,855.06 L1150.28,854.32 L1152.23,853.54 L1154.18,852.74 L1156.12,851.89 L1158.05,851.02 L1159.97,850.12 L1161.87,849.18 L1163.77,848.21 L1165.66,847.21 L1167.53,846.18 L1169.39,845.12 L1171.23,844.02 L1173.06,842.90 L1174.87,841.74 L1176.66,840.56 L1178.44,839.34 L1180.19,838.09 L1181.93,836.82 L1183.64,835.51 L1185.33,834.17 L1187.01,832.80 L1188.65,831.41 L1190.28,829.98 L1191.88,828.53 L1193.45,827.05 L1194.99,825.53 L1196.51,823.99 L1198.00,822.42 L1199.46,820.83 L1200.90,819.20 L1202.30,817.55 L1203.67,815.86 L1205.00,814.15 L1206.31,812.42 L1207.57,810.65 L1208.80,808.86 L1209.99,807.05 L1211.12,805.22 L1212.20,803.36 L1213.22,801.49 L1214.18,799.61 L1215.07,797.71 L1215.89,795.79 L1216.62,793.87 L1217.28,791.94 L1217.85,790.01 L1218.33,788.07 L1218.71,786.12 L1218.99,784.18 L1219.16,782.24 L1219.22,780.30 L1219.16,778.37 L1218.99,776.44 L1218.70,774.52 L1218.31,772.62 L1217.80,770.72 L1217.20,768.84 L1216.50,766.98 L1215.70,765.14 L1214.82,763.32" fill="none" stroke="url(#dg)" stroke-width="2.2" stroke-dasharray="20 19" stroke-dashoffset="36.70"/>
<path d="M1214.82,763.32 L1213.85,761.53 L1212.79,759.75 L1211.67,758.01 L1210.46,756.30 L1209.20,754.61 L1207.86,752.96 L1206.47,751.35 L1205.02,749.77 L1203.52,748.23 L1201.97,746.74 L1200.37,745.29 L1198.74,743.88 L1197.07,742.51 L1195.37,741.19 L1193.64,739.90 L1191.88,738.65 L1190.09,737.43 L1188.28,736.24 L1186.45,735.08 L1184.61,733.94 L1182.75,732.83 L1180.88,731.73 L1179.01,730.65 L1177.12,729.59 L1175.24,728.53 L1173.36,727.49 L1171.48,726.45 L1169.60,725.42 L1167.74,724.39 L1165.89,723.35 L1164.05,722.32 L1162.22,721.28 L1160.41,720.24 L1158.60,719.20 L1156.81,718.16 L1155.02,717.11 L1153.25,716.06 L1151.48,715.02 L1149.72,713.96 L1147.97,712.91 L1146.22,711.86 L1144.48,710.80 L1142.74,709.74 L1141.01,708.68 L1139.28,707.62 L1137.55,706.56 L1135.83,705.50 L1134.10,704.44 L1132.38,703.37 L1130.66,702.30 L1128.93,701.24 L1127.21,700.17 L1125.48,699.10 L1123.75,698.03 L1122.02,696.96 L1120.28,695.88 L1118.54,694.81 L1116.79,693.74 L1115.04,692.67 L1113.28,691.59 L1111.51,690.52 L1109.73,689.44 L1107.95,688.37 L1106.16,687.29 L1104.35,686.22 L1102.54,685.14 L1100.71,684.06 L1098.87,682.99 L1097.02,681.91 L1095.17,680.82 L1093.32,679.72 L1091.46,678.62 L1089.61,677.49 L1087.76,676.36 L1085.93,675.20 L1084.10,674.02 L1082.28,672.81 L1080.49,671.58 L1078.71,670.31 L1076.95,669.02 L1075.21,667.68 L1073.51,666.31 L1071.83,664.90 L1070.19,663.45 L1068.58,661.94 L1067.01,660.39 L1065.48,658.79 L1064.00,657.15 L1062.57,655.46 L1061.20,653.73 L1059.89,651.97 L1058.66,650.17 L1057.50,648.35 L1056.43,646.50 L1055.44,644.63 L1054.55,642.75 L1053.76,640.85 L1053.07,638.94 L1052.49,637.03 L1052.04,635.11 L1051.70,633.20 L1051.50,631.29 L1051.43,629.38 L1051.50,627.49 L1051.70,625.62 L1052.04,623.76 L1052.49,621.91 L1053.07,620.08 L1053.75,618.27 L1054.53,616.47 L1055.41,614.70 L1056.38,612.95 L1057.44,611.21 L1058.56,609.50 L1059.76,607.82 L1061.02,606.16 L1062.34,604.52 L1063.70,602.91 L1065.11,601.33 L1066.55,599.78 L1068.02,598.26 L1069.52,596.77 L1071.04,595.30 L1072.59,593.87 L1073.37,593.17" fill="none" stroke="url(#dg)" stroke-width="2.2" stroke-dasharray="20 19" stroke-dashoffset="26.10"/>
<path d="M1073.37,593.17 L1074.94,591.78 L1076.54,590.43 L1078.17,589.10 L1079.81,587.80 L1081.47,586.54 L1083.16,585.30 L1084.86,584.09 L1086.58,582.91 L1088.32,581.76 L1090.08,580.64 L1091.86,579.55 L1093.66,578.49 L1095.47,577.46 L1097.30,576.45 L1099.14,575.48 L1101.00,574.53 L1102.88,573.61 L1104.77,572.72 L1106.68,571.86 L1108.59,571.02 L1110.53,570.21 L1112.47,569.44 L1114.43,568.68 L1116.40,567.96 L1118.38,567.26 L1120.38,566.59 L1122.38,565.95 L1124.40,565.34 L1126.42,564.75 L1128.45,564.19 L1130.50,563.65 L1132.55,563.15 L1134.61,562.67 L1136.68,562.21 L1138.75,561.78 L1140.83,561.38 L1142.92,561.00 L1145.01,560.65 L1147.11,560.33 L1149.21,560.03 L1151.32,559.76 L1153.43,559.51 L1155.55,559.29 L1157.67,559.09 L1159.79,558.92 L1161.91,558.78 L1164.04,558.66 L1166.17,558.56 L1168.30,558.49 L1170.42,558.44 L1172.55,558.42 L1174.68,558.42 L1176.81,558.45 L1178.93,558.50 L1181.06,558.58 L1183.18,558.67 L1185.30,558.80 L1187.41,558.94 L1189.53,559.11 L1191.63,559.31 L1193.74,559.53 L1195.84,559.77 L1197.93,560.03 L1200.02,560.32 L1202.10,560.63 L1204.17,560.96 L1206.24,561.32 L1208.30,561.69 L1210.35,562.09 L1212.40,562.52 L1214.43,562.96 L1216.46,563.43 L1218.47,563.92 L1220.48,564.43 L1222.48,564.96 L1224.47,565.51 L1226.45,566.08 L1228.43,566.67 L1230.40,567.28 L1232.36,567.91 L1234.31,568.56 L1236.25,569.22 L1238.19,569.91 L1240.13,570.61 L1242.05,571.32 L1243.97,572.05 L1245.88,572.80 L1247.79,573.56 L1249.69,574.34 L1251.58,575.13 L1253.47,575.94 L1255.36,576.76 L1257.24,577.59 L1259.11,578.44 L1260.98,579.30 L1262.84,580.17 L1264.71,581.05 L1266.56,581.95 L1268.41,582.85 L1270.26,583.77 L1272.11,584.69 L1273.95,585.63 L1275.79,586.57 L1277.62,587.52 L1279.45,588.48 L1281.28,589.45 L1283.11,590.43 L1284.94,591.41 L1286.76,592.40 L1288.58,593.39 L1290.40,594.40 L1292.21,595.40 L1294.03,596.41 L1295.85,597.43 L1297.66,598.45 L1299.47,599.48 L1301.28,600.50 L1303.10,601.53 L1304.91,602.57 L1306.72,603.60 L1308.53,604.64 L1310.34,605.68 L1312.15,606.71 L1313.97,607.75 L1315.78,608.79" fill="none" stroke="url(#dg)" stroke-width="2.2" stroke-dasharray="20 19" stroke-dashoffset="18.41"/>
<path d="M1315.78,608.79 L1317.59,609.83 L1319.41,610.87 L1321.23,611.90 L1323.05,612.94 L1324.87,613.97 L1326.69,615.00 L1328.51,616.03 L1330.33,617.05 L1332.16,618.08 L1333.99,619.09 L1335.82,620.11 L1337.65,621.12 L1339.48,622.12 L1341.32,623.12 L1343.16,624.11 L1345.00,625.10 L1346.84,626.08 L1348.69,627.05 L1350.54,628.02 L1352.39,628.98 L1354.24,629.93 L1356.09,630.87 L1357.95,631.81 L1359.81,632.73 L1361.68,633.65 L1363.54,634.56 L1365.41,635.45 L1367.29,636.34 L1369.16,637.21 L1371.04,638.08 L1372.92,638.93 L1374.81,639.77 L1376.70,640.60 L1378.59,641.42 L1380.49,642.22 L1382.39,643.01 L1384.29,643.79 L1386.20,644.55 L1388.12,645.30 L1390.03,646.03 L1391.95,646.75 L1393.88,647.45 L1395.80,648.14 L1397.74,648.81 L1399.67,649.46 L1401.62,650.09 L1403.56,650.71 L1405.51,651.31 L1407.47,651.90 L1409.43,652.46 L1411.39,653.01 L1413.36,653.53 L1415.34,654.04 L1417.32,654.53 L1419.30,654.99 L1421.29,655.44 L1423.29,655.87 L1425.29,656.27 L1427.29,656.65 L1429.30,657.01 L1431.32,657.35 L1433.34,657.66 L1435.37,657.95 L1437.41,658.22 L1439.45,658.46 L1441.49,658.68 L1443.54,658.87 L1445.60,659.04 L1447.66,659.19 L1449.73,659.30 L1451.81,659.40 L1453.89,659.46 L1455.98,659.50 L1458.08,659.51 L1460.18,659.49 L1462.29,659.45 L1464.40,659.38 L1466.52,659.27 L1468.65,659.14 L1470.78,658.99 L1472.91,658.80 L1475.04,658.58 L1477.17,658.34 L1479.31,658.07 L1481.44,657.77 L1483.58,657.44 L1485.71,657.08 L1487.83,656.69 L1489.96,656.27 L1492.08,655.83 L1494.19,655.35 L1496.30,654.85 L1498.40,654.31 L1500.49,653.75 L1502.57,653.16 L1504.64,652.53 L1506.71,651.88 L1508.76,651.20 L1510.80,650.49 L1512.82,649.75 L1514.84,648.98 L1516.83,648.18 L1518.81,647.34 L1520.78,646.48 L1522.73,645.59 L1524.66,644.67 L1526.57,643.72 L1528.46,642.74 L1530.33,641.72 L1532.18,640.68 L1534.01,639.61 L1535.81,638.50 L1537.59,637.37 L1539.35,636.20 L1541.08,635.01 L1542.78,633.78 L1544.46,632.52 L1546.11,631.23 L1547.73,629.91 L1549.32,628.56 L1550.88,627.18 L1552.40,625.76 L1553.90,624.32 L1555.36,622.84 L1556.08,622.09" fill="none" stroke="url(#dg)" stroke-width="2.2" stroke-dasharray="20 19" stroke-dashoffset="8.08"/>
<path d="M1556.08,622.09 L1557.49,620.56 L1558.87,619.01 L1560.21,617.42 L1561.51,615.80 L1562.78,614.15 L1564.00,612.46 L1565.19,610.75 L1566.34,609.00 L1567.43,607.23 L1568.48,605.43 L1569.47,603.60 L1570.40,601.76 L1571.26,599.89 L1572.04,598.01 L1572.75,596.12 L1573.38,594.22 L1573.93,592.30 L1574.38,590.38 L1574.74,588.45 L1574.99,586.53 L1575.14,584.60 L1575.17,582.67 L1575.10,580.76 L1574.90,578.84 L1574.57,576.94 L1574.12,575.05 L1573.56,573.18 L1572.88,571.32 L1572.10,569.47 L1571.22,567.64 L1570.25,565.82 L1569.19,564.03 L1568.05,562.26 L1566.84,560.50 L1565.57,558.77 L1564.23,557.06 L1562.85,555.38 L1561.41,553.72 L1559.93,552.09 L1558.42,550.49 L1556.88,548.91 L1555.32,547.37 L1553.74,545.86 L1552.15,544.38 L1550.54,542.93 L1548.93,541.51 L1547.30,540.12 L1545.66,538.75 L1544.01,537.42 L1542.35,536.11 L1540.68,534.82 L1539.00,533.56 L1537.30,532.32 L1535.60,531.11 L1533.89,529.91 L1532.17,528.74 L1530.44,527.59 L1528.70,526.45 L1526.95,525.34 L1525.19,524.24 L1523.43,523.15 L1521.66,522.09 L1519.88,521.03 L1518.09,519.99 L1516.30,518.97 L1514.49,517.95 L1512.69,516.95 L1510.87,515.95 L1509.05,514.96 L1507.23,513.99 L1505.39,513.01 L1503.56,512.05 L1501.72,511.09 L1499.87,510.13 L1498.02,509.18 L1496.16,508.23 L1494.30,507.29 L1492.44,506.34 L1490.57,505.39 L1488.71,504.44 L1486.83,503.49 L1484.96,502.54 L1483.08,501.59 L1481.21,500.63 L1479.33,499.66 L1477.45,498.69 L1475.58,497.71 L1473.71,496.73 L1471.84,495.73 L1469.98,494.73 L1468.12,493.72 L1466.27,492.70 L1464.42,491.66 L1462.58,490.62 L1460.75,489.56 L1458.93,488.49 L1457.12,487.40 L1455.32,486.30 L1453.53,485.18 L1451.75,484.05 L1449.99,482.89 L1448.24,481.72 L1446.50,480.53 L1444.78,479.33 L1443.08,478.10 L1441.39,476.84 L1439.72,475.57 L1438.07,474.28 L1436.43,472.96 L1434.82,471.61 L1433.23,470.24 L1431.66,468.85 L1430.11,467.43 L1428.59,465.98 L1427.09,464.50 L1425.61,462.99 L1424.17,461.45 L1422.74,459.89 L1421.35,458.29 L1419.99,456.66 L1418.68,455.00 L1417.42,453.31 L1416.22,451.60 L1415.08,449.86 L1414.02,448.09" fill="none" stroke="url(#dg)" stroke-width="2.2" stroke-dasharray="20 19" stroke-dashoffset="37.08"/>
<path d="M1414.02,448.09 L1413.04,446.30 L1412.15,444.48 L1411.36,442.64 L1410.67,440.78 L1410.09,438.90 L1409.62,436.99 L1409.25,435.07 L1408.99,433.14 L1408.83,431.19 L1408.76,429.24 L1408.79,427.27 L1408.91,425.30 L1409.12,423.33 L1409.41,421.36 L1409.79,419.39 L1410.25,417.42 L1410.79,415.46 L1411.40,413.51 L1412.08,411.57 L1412.84,409.65 L1413.66,407.74 L1414.54,405.84 L1415.49,403.97 L1416.50,402.12 L1417.56,400.30 L1418.67,398.50 L1419.84,396.73 L1421.05,395.00 L1422.31,393.30 L1423.61,391.64 L1424.95,390.01 L1426.33,388.42 L1427.75,386.87 L1429.20,385.35 L1430.70,383.87 L1432.22,382.43 L1433.78,381.02 L1435.38,379.65 L1437.00,378.31 L1438.66,377.01 L1440.35,375.74 L1442.06,374.50 L1443.80,373.30 L1445.57,372.14 L1447.36,371.00 L1449.18,369.90 L1451.02,368.84 L1452.88,367.80 L1454.76,366.80 L1456.67,365.83 L1458.59,364.89 L1460.53,363.98 L1462.48,363.11 L1464.45,362.26 L1466.44,361.45 L1468.43,360.66 L1470.44,359.91 L1472.46,359.18 L1474.49,358.49 L1476.53,357.82 L1478.58,357.19 L1480.63,356.58 L1482.69,356.00 L1484.76,355.44 L1486.82,354.92 L1488.89,354.42 L1490.96,353.95 L1493.03,353.51 L1495.10,353.09 L1497.17,352.70 L1499.25,352.34 L1501.32,352.00 L1503.39,351.69 L1505.47,351.40 L1507.54,351.14 L1509.62,350.91 L1511.69,350.70 L1513.77,350.52 L1515.84,350.36 L1517.92,350.22 L1519.99,350.11 L1522.06,350.03 L1524.13,349.97 L1526.20,349.93 L1528.27,349.92 L1530.34,349.93 L1532.40,349.96 L1534.47,350.02 L1536.53,350.10 L1538.59,350.20 L1540.65,350.33 L1542.71,350.47 L1544.76,350.65 L1546.82,350.84 L1548.86,351.05 L1550.91,351.29 L1552.96,351.55 L1555.00,351.83 L1557.03,352.13 L1559.07,352.45 L1561.10,352.79 L1563.13,353.15 L1565.15,353.54 L1567.17,353.94 L1569.19,354.36 L1571.20,354.81 L1573.21,355.27 L1575.22,355.75 L1577.21,356.26 L1579.21,356.78 L1581.20,357.32 L1583.19,357.88 L1585.17,358.46 L1587.14,359.05 L1589.11,359.67 L1591.08,360.30 L1593.03,360.95 L1594.99,361.62 L1596.94,362.30 L1598.88,363.00 L1600.81,363.72 L1602.74,364.46 L1604.67,365.21 L1606.58,365.98 L1608.49,366.77 L1609.45,367.17" fill="none" stroke="url(#dg)" stroke-width="2.2" stroke-dasharray="20 19" stroke-dashoffset="27.75"/>
<path d="M1609.45,367.17 L1611.35,367.97 L1613.25,368.80 L1615.14,369.63 L1617.03,370.48 L1618.91,371.35 L1620.79,372.23 L1622.66,373.12 L1624.53,374.02 L1626.39,374.93 L1628.25,375.86 L1630.11,376.79 L1631.96,377.74 L1633.81,378.69 L1635.66,379.66 L1637.50,380.63 L1639.34,381.62 L1641.17,382.61 L1643.01,383.61 L1644.84,384.62 L1646.66,385.63 L1648.49,386.65 L1650.31,387.68 L1652.14,388.71 L1653.95,389.75 L1655.77,390.79 L1657.59,391.84 L1659.41,392.89 L1661.22,393.95 L1663.03,395.01 L1664.85,396.07 L1666.66,397.13 L1668.47,398.20 L1670.28,399.27 L1672.09,400.33 L1673.90,401.40 L1675.71,402.47 L1677.52,403.54 L1679.34,404.61 L1681.15,405.68 L1682.96,406.75 L1684.78,407.81 L1686.59,408.87 L1688.41,409.93 L1690.23,410.99 L1692.05,412.04 L1693.87,413.09 L1695.69,414.14 L1697.52,415.18 L1699.35,416.21 L1701.18,417.24 L1703.01,418.27 L1704.85,419.28 L1706.69,420.30 L1708.53,421.30 L1710.38,422.29 L1712.23,423.28 L1714.08,424.26 L1715.94,425.23 L1717.80,426.19 L1719.66,427.14 L1721.53,428.08 L1723.40,429.01 L1725.28,429.92 L1727.16,430.83 L1729.05,431.73 L1730.94,432.61 L1732.84,433.48 L1734.75,434.33 L1736.65,435.18 L1738.57,436.00 L1740.49,436.82 L1742.42,437.62 L1744.35,438.40 L1746.29,439.17 L1748.23,439.92 L1750.18,440.66 L1752.13,441.38 L1754.09,442.08 L1756.05,442.76 L1758.02,443.43 L1759.99,444.08 L1761.97,444.71 L1763.95,445.32 L1765.93,445.91 L1767.92,446.49 L1769.91,447.04 L1771.91,447.57 L1773.91,448.08 L1775.91,448.57 L1777.91,449.04 L1779.92,449.49 L1781.93,449.91 L1783.94,450.32 L1785.96,450.70 L1787.97,451.05 L1789.99,451.38 L1792.01,451.69 L1794.04,451.98 L1796.06,452.24 L1798.09,452.47 L1800.11,452.68 L1802.14,452.86 L1804.17,453.02 L1806.20,453.15 L1808.23,453.26 L1810.26,453.33 L1812.29,453.38 L1814.32,453.40 L1816.35,453.40 L1818.38,453.36 L1820.41,453.29 L1822.44,453.20 L1824.47,453.07 L1826.50,452.92 L1828.53,452.73 L1830.56,452.52 L1832.58,452.27 L1834.60,451.99 L1836.63,451.68 L1838.65,451.34 L1840.67,450.96 L1842.68,450.55 L1844.70,450.11 L1846.71,449.63 L1848.72,449.12 L1849.72,448.85" fill="none" stroke="url(#dg)" stroke-width="2.2" stroke-dasharray="20 19" stroke-dashoffset="18.29"/>
<path d="M1849.72,448.85 L1851.72,448.29 L1853.73,447.69 L1855.73,447.06 L1857.72,446.39 L1859.71,445.69 L1861.69,444.96 L1863.67,444.19 L1865.63,443.39 L1867.60,442.56 L1869.55,441.69 L1871.49,440.79 L1873.42,439.86 L1875.34,438.90 L1877.25,437.91 L1879.15,436.88 L1881.04,435.83 L1882.91,434.74 L1884.76,433.63 L1886.60,432.48 L1888.43,431.31 L1890.24,430.11 L1892.03,428.87 L1893.80,427.61 L1895.56,426.33 L1897.30,425.01 L1899.01,423.67 L1900.71,422.29 L1902.38,420.90 L1904.03,419.47 L1905.66,418.02 L1907.26,416.55 L1908.84,415.04 L1910.40,413.52 L1911.93,411.96 L1913.43,410.39 L1914.90,408.78 L1916.35,407.16 L1917.77,405.51 L1919.16,403.84 L1920.51,402.14 L1921.83,400.43 L1923.10,398.69 L1924.32,396.94 L1925.48,395.17 L1926.58,393.38 L1927.61,391.58 L1928.57,389.77 L1929.44,387.94 L1930.24,386.11 L1930.94,384.27 L1931.54,382.42 L1932.05,380.56 L1932.44,378.70 L1932.72,376.83 L1932.89,374.97 L1932.93,373.10 L1932.83,371.24 L1932.61,369.37 L1932.27,367.51 L1931.81,365.66 L1931.24,363.82 L1930.57,361.98 L1929.80,360.16 L1928.93,358.35 L1927.98,356.55 L1926.94,354.77 L1925.83,353.01 L1924.66,351.27 L1923.42,349.55 L1922.12,347.85 L1920.77,346.18 L1919.37,344.54 L1917.94,342.93 L1916.47,341.34 L1914.97,339.79 L1913.45,338.28 L1911.90,336.79 L1910.33,335.33 L1908.74,333.90 L1907.12,332.50 L1905.49,331.13 L1903.84,329.78 L1902.16,328.46 L1900.48,327.15 L1898.77,325.88 L1897.05,324.62 L1895.32,323.38 L1893.57,322.16 L1891.81,320.96 L1890.05,319.78 L1888.27,318.61 L1886.48,317.45 L1884.69,316.31 L1882.89,315.18 L1881.08,314.06 L1879.27,312.95 L1877.46,311.85 L1875.65,310.76 L1873.83,309.68 L1872.02,308.60 L1870.20,307.52 L1868.39,306.45 L1866.58,305.38 L1864.78,304.31 L1862.98,303.24 L1861.19,302.17 L1859.41,301.10 L1857.63,300.03 L1855.87,298.95 L1854.11,297.86 L1852.37,296.77 L1850.64,295.67 L1848.92,294.56 L1847.21,293.45 L1845.52,292.33 L1843.83,291.21 L1842.14,290.08 L1840.46,288.95 L1838.77,287.82 L1837.09,286.69 L1835.41,285.55 L1833.72,284.42 L1832.03,283.29 L1830.33,282.17 L1829.47,281.61" fill="none" stroke="url(#dg)" stroke-width="2.2" stroke-dasharray="20 19" stroke-dashoffset="8.65"/>
<path d="M1829.47,281.61 L1827.76,280.49 L1826.03,279.37 L1824.29,278.26 L1822.53,277.16 L1820.76,276.07 L1818.97,274.98 L1817.16,273.91 L1815.33,272.84 L1813.50,271.77 L1811.65,270.70 L1809.80,269.62 L1807.95,268.53 L1806.10,267.44 L1804.25,266.33 L1802.41,265.20 L1800.58,264.04 L1798.77,262.87 L1796.97,261.66 L1795.20,260.43 L1793.44,259.16 L1791.72,257.85 L1790.02,256.50 L1788.36,255.11 L1786.73,253.67 L1785.15,252.18 L1783.61,250.64 L1782.11,249.06 L1780.67,247.43 L1779.29,245.77 L1777.97,244.06 L1776.71,242.33 L1775.53,240.56 L1774.42,238.76 L1773.39,236.93 L1772.44,235.08 L1771.58,233.21 L1770.82,231.32 L1770.15,229.41 L1769.58,227.50 L1769.12,225.57 L1768.76,223.63 L1768.52,221.69 L1768.40,219.75 L1768.41,217.81 L1768.53,215.87 L1768.78,213.93 L1769.14,212.01 L1769.61,210.09 L1770.18,208.19 L1770.85,206.30 L1771.62,204.43 L1772.48,202.58 L1773.42,200.76 L1774.44,198.96 L1775.54,197.18 L1776.71,195.44 L1777.95,193.73 L1779.24,192.06 L1780.60,190.42 L1782.00,188.82 L1783.45,187.26 L1784.95,185.75 L1786.48,184.28 L1788.06,182.85 L1789.67,181.46 L1791.32,180.11 L1792.99,178.80 L1794.70,177.52 L1796.44,176.27 L1798.20,175.05 L1799.99,173.87 L1801.80,172.72 L1803.64,171.59 L1805.49,170.49 L1807.35,169.41 L1809.23,168.36 L1811.13,167.33 L1813.03,166.32 L1814.94,165.33 L1816.86,164.36 L1818.79,163.41 L1820.72,162.48 L1822.66,161.56 L1824.61,160.67 L1826.57,159.79 L1828.53,158.94 L1830.49,158.10 L1832.46,157.29 L1834.44,156.49 L1836.42,155.72 L1838.41,154.97 L1840.40,154.23 L1842.40,153.52 L1844.40,152.83 L1846.41,152.16 L1848.42,151.51 L1850.43,150.88 L1852.45,150.28 L1854.47,149.70 L1856.49,149.13 L1858.52,148.59 L1860.55,148.08 L1862.58,147.58 L1864.61,147.11 L1866.65,146.66 L1868.69,146.23 L1870.72,145.83 L1872.77,145.45 L1874.81,145.09 L1876.85,144.76 L1878.89,144.45 L1880.94,144.17 L1882.98,143.90 L1885.03,143.67 L1887.07,143.45 L1889.11,143.27 L1891.16,143.10 L1893.20,142.96 L1895.24,142.85 L1897.28,142.76 L1899.32,142.70 L1901.36,142.66 L1903.39,142.65 L1905.42,142.66 L1906.44,142.68" fill="none" stroke="url(#dg)" stroke-width="2.2" stroke-dasharray="20 19" stroke-dashoffset="0.15"/>
<path d="M1906.44,142.68 L1908.47,142.73 L1910.49,142.81 L1912.52,142.91 L1914.54,143.04 L1916.56,143.20 L1918.57,143.39 L1920.58,143.60 L1922.59,143.84 L1924.59,144.10 L1926.59,144.40 L1928.58,144.72 L1930.57,145.07 L1932.55,145.44 L1934.53,145.84 L1936.51,146.27 L1938.48,146.72 L1940.44,147.20 L1942.41,147.70 L1944.36,148.22 L1946.32,148.77 L1948.27,149.34 L1950.21,149.94 L1952.15,150.55 L1954.09,151.19 L1956.03,151.85 L1957.95,152.53 L1959.88,153.23 L1961.80,153.95 L1963.72,154.69 L1965.63,155.45 L1967.54,156.22 L1969.45,157.02 L1971.35,157.83 L1973.25,158.66 L1975.15,159.51 L1977.04,160.37 L1978.93,161.25 L1980.81,162.15 L1982.69,163.06 L1984.57,163.99 L1986.45,164.92 L1988.32,165.88 L1990.19,166.84 L1992.05,167.82 L1993.91,168.82 L1995.77,169.82 L1997.62,170.84 L1999.48,171.86 L2001.33,172.90 L2003.17,173.95 L2005.01,175.01 L2006.85,176.07 L2008.69,177.15 L2010.52,178.24 L2012.36,179.33 L2014.18,180.43 L2016.01,181.54 L2017.83,182.65 L2019.65,183.77 L2021.47,184.90 L2023.28,186.03 L2025.10,187.17 L2026.91,188.31 L2028.71,189.46 L2030.52,190.61 L2032.32,191.76 L2034.12,192.92 L2035.92,194.07 L2037.71,195.23 L2039.51,196.40 L2041.30,197.56 L2043.09,198.72 L2044.87,199.89 L2046.66,201.05 L2048.44,202.21 L2050.22,203.37 L2052.00,204.53 L2053.77,205.69 L2055.55,206.85 L2057.32,208.00 L2059.09,209.15 L2060.86,210.30 L2062.62,211.44 L2064.39,212.57 L2066.15,213.71 L2067.91,214.83 L2069.67,215.96 L2071.43,217.07 L2073.19,218.18 L2074.95,219.29 L2076.70,220.40 L2078.46,221.49 L2080.21,222.59 L2081.96,223.68 L2083.72,224.76 L2085.47,225.84 L2087.22,226.92 L2088.97,227.99 L2090.72,229.06 L2092.48,230.13 L2094.23,231.19 L2095.98,232.25 L2097.73,233.30 L2099.48,234.35 L2101.24,235.40 L2102.99,236.44 L2104.75,237.48 L2106.50,238.51 L2108.26,239.55 L2110.02,240.58 L2111.78,241.60 L2113.54,242.63 L2115.30,243.65 L2117.06,244.67 L2118.83,245.68 L2120.60,246.69 L2122.37,247.70 L2124.14,248.71 L2125.91,249.71 L2127.69,250.72 L2129.47,251.72 L2131.25,252.71 L2133.03,253.71 L2134.82,254.70 L2136.61,255.69 L2137.50,256.19" fill="none" stroke="url(#dg)" stroke-width="2.2" stroke-dasharray="20 19" stroke-dashoffset="29.62"/>
<path d="M2137.50,256.19 L2139.30,257.18 L2141.09,258.16 L2142.89,259.15 L2144.70,260.13 L2146.51,261.11 L2148.32,262.09 L2150.13,263.07 L2151.95,264.04 L2153.77,265.02 L2155.60,265.99 L2157.43,266.97 L2159.27,267.94 L2161.11,268.91 L2162.95,269.88 L2164.80,270.85 L2166.65,271.81 L2168.51,272.78 L2170.37,273.74 L2172.24,274.71 L2174.11,275.67 L2175.99,276.62 L2177.87,277.58 L2179.76,278.53 L2181.64,279.48 L2183.54,280.42 L2185.43,281.36 L2187.34,282.29 L2189.24,283.22 L2191.15,284.15 L2193.06,285.06 L2194.98,285.98 L2196.90,286.88 L2198.82,287.78 L2200.75,288.67 L2202.68,289.56 L2204.62,290.43 L2206.55,291.30 L2208.50,292.16 L2210.44,293.01 L2212.39,293.85 L2214.34,294.69 L2216.29,295.51 L2218.25,296.32 L2220.21,297.13 L2222.17,297.92 L2224.14,298.70 L2226.11,299.47 L2228.08,300.23 L2230.05,300.97 L2232.03,301.71 L2234.01,302.43 L2235.99,303.14 L2237.97,303.83 L2239.96,304.51 L2241.95,305.18 L2243.94,305.83 L2245.93,306.47 L2247.93,307.09 L2249.92,307.70 L2251.92,308.29 L2253.92,308.86 L2255.93,309.42 L2257.93,309.97 L2259.94,310.49 L2261.95,311.00 L2263.96,311.49 L2265.97,311.96 L2267.98,312.42 L2269.99,312.85 L2272.01,313.27 L2274.03,313.66 L2276.04,314.04 L2278.06,314.40 L2280.08,314.74 L2282.11,315.05 L2284.13,315.35 L2286.15,315.62 L2288.18,315.87 L2290.20,316.10 L2292.23,316.31 L2294.25,316.49 L2296.28,316.66 L2298.31,316.79 L2300.34,316.91 L2302.37,317.00 L2304.40,317.07 L2306.43,317.11 L2308.46,317.13 L2310.49,317.12 L2312.52,317.08 L2314.55,317.02 L2316.58,316.94 L2318.61,316.82 L2320.64,316.68 L2322.67,316.51 L2324.70,316.32 L2326.73,316.10 L2328.76,315.84 L2330.79,315.56 L2332.81,315.25 L2334.84,314.91 L2336.87,314.55 L2338.90,314.15 L2340.92,313.72 L2342.95,313.26 L2344.97,312.77 L2346.99,312.25 L2349.02,311.69 L2351.04,311.11 L2353.06,310.49 L2355.08,309.84 L2357.10,309.16 L2359.11,308.44 L2361.13,307.69 L2363.14,306.90 L2365.15,306.09 L2367.17,305.23 L2369.17,304.34 L2371.18,303.42 L2373.19,302.46 L2375.19,301.46 L2377.20,300.43 L2379.20,299.36 L2381.20,298.26 L2382.19,297.69" fill="none" stroke="url(#dg)" stroke-width="2.2" stroke-dasharray="20 19" stroke-dashoffset="18.63"/>
<polygon points="328.5,894.0 346.5,883.0 364.5,894.0 364.5,898.5 346.5,909.5 328.5,898.5" fill="none" stroke="#2f74c6" stroke-width="2.2" stroke-linejoin="round" opacity="0.8"/><polygon points="328.5,894.0 346.5,905.0 364.5,894.0 364.5,898.5 346.5,909.5 328.5,898.5" fill="#f6a623"/><polygon points="346.5,883.0 364.5,894.0 346.5,905.0 328.5,894.0" fill="#fff"/>
<polygon points="801.8,760.2 819.8,749.2 837.8,760.2 837.8,764.7 819.8,775.7 801.8,764.7" fill="none" stroke="#2f74c6" stroke-width="2.2" stroke-linejoin="round" opacity="0.8"/><polygon points="801.8,760.2 819.8,771.2 837.8,760.2 837.8,764.7 819.8,775.7 801.8,764.7" fill="#f6a623"/><polygon points="819.8,749.2 837.8,760.2 819.8,771.2 801.8,760.2" fill="#fff"/>
<polygon points="1127.5,855.5 1145.5,844.5 1163.5,855.5 1163.5,860.0 1145.5,871.0 1127.5,860.0" fill="none" stroke="#2f74c6" stroke-width="2.2" stroke-linejoin="round" opacity="0.8"/><polygon points="1127.5,855.5 1145.5,866.5 1163.5,855.5 1163.5,860.0 1145.5,871.0 1127.5,860.0" fill="#f6a623"/><polygon points="1145.5,844.5 1163.5,855.5 1145.5,866.5 1127.5,855.5" fill="#fff"/>
<polygon points="1085.6,571.5 1103.6,560.5 1121.6,571.5 1121.6,576.0 1103.6,587.0 1085.6,576.0" fill="none" stroke="#2f74c6" stroke-width="2.2" stroke-linejoin="round" opacity="0.8"/><polygon points="1085.6,571.5 1103.6,582.5 1121.6,571.5 1121.6,576.0 1103.6,587.0 1085.6,576.0" fill="#f6a623"/><polygon points="1103.6,560.5 1121.6,571.5 1103.6,582.5 1085.6,571.5" fill="#fff"/>
<polygon points="1405.8,652.2 1423.8,641.2 1441.8,652.2 1441.8,656.7 1423.8,667.7 1405.8,656.7" fill="none" stroke="#2f74c6" stroke-width="2.2" stroke-linejoin="round" opacity="0.8"/><polygon points="1405.8,652.2 1423.8,663.2 1441.8,652.2 1441.8,656.7 1423.8,667.7 1405.8,656.7" fill="#f6a623"/><polygon points="1423.8,641.2 1441.8,652.2 1423.8,663.2 1405.8,652.2" fill="#fff"/>
<polygon points="1394.8,439.5 1412.8,428.5 1430.8,439.5 1430.8,444.0 1412.8,455.0 1394.8,444.0" fill="none" stroke="#2f74c6" stroke-width="2.2" stroke-linejoin="round" opacity="0.8"/><polygon points="1394.8,439.5 1412.8,450.5 1430.8,439.5 1430.8,444.0 1412.8,455.0 1394.8,444.0" fill="#f6a623"/><polygon points="1412.8,428.5 1430.8,439.5 1412.8,450.5 1394.8,439.5" fill="#fff"/>
<polygon points="1754.9,448.0 1772.9,437.0 1790.9,448.0 1790.9,452.5 1772.9,463.5 1754.9,452.5" fill="none" stroke="#2f74c6" stroke-width="2.2" stroke-linejoin="round" opacity="0.8"/><polygon points="1754.9,448.0 1772.9,459.0 1790.9,448.0 1790.9,452.5 1772.9,463.5 1754.9,452.5" fill="#f6a623"/><polygon points="1772.9,437.0 1790.9,448.0 1772.9,459.0 1754.9,448.0" fill="#fff"/>
<polygon points="1749.8,216.0 1767.8,205.0 1785.8,216.0 1785.8,220.5 1767.8,231.5 1749.8,220.5" fill="none" stroke="#2f74c6" stroke-width="2.2" stroke-linejoin="round" opacity="0.8"/><polygon points="1749.8,216.0 1767.8,227.0 1785.8,216.0 1785.8,220.5 1767.8,231.5 1749.8,220.5" fill="#f6a623"/><polygon points="1767.8,205.0 1785.8,216.0 1767.8,227.0 1749.8,216.0" fill="#fff"/>
<polygon points="2249.2,309.3 2267.2,298.3 2285.2,309.3 2285.2,313.8 2267.2,324.8 2249.2,313.8" fill="none" stroke="#2f74c6" stroke-width="2.2" stroke-linejoin="round" opacity="0.8"/><polygon points="2249.2,309.3 2267.2,320.3 2285.2,309.3 2285.2,313.8 2267.2,324.8 2249.2,313.8" fill="#f6a623"/><polygon points="2267.2,298.3 2285.2,309.3 2267.2,320.3 2249.2,309.3" fill="#fff"/>
<line x1="345.2" y1="940.0" x2="345.2" y2="1130.0" stroke="#f4a62a" stroke-width="2"/>
<line x1="819.6" y1="688.0" x2="819.6" y2="759.0" stroke="#f4a62a" stroke-width="2"/>
<line x1="1145.8" y1="903.0" x2="1145.8" y2="1082.0" stroke="#f4a62a" stroke-width="2"/>
<line x1="1103.9" y1="450.0" x2="1103.9" y2="571.0" stroke="#f4a62a" stroke-width="2"/>
<line x1="1423.1" y1="697.0" x2="1423.1" y2="876.0" stroke="#f4a62a" stroke-width="2"/>
<line x1="1412.8" y1="313.7" x2="1412.8" y2="439.0" stroke="#f4a62a" stroke-width="2"/>
<line x1="1770.8" y1="490.0" x2="1770.8" y2="668.8" stroke="#f4a62a" stroke-width="2"/>
<line x1="1767.8" y1="112.0" x2="1767.8" y2="216.0" stroke="#f4a62a" stroke-width="2"/>
<line x1="2267.0" y1="205.0" x2="2267.0" y2="309.0" stroke="#f4a62a" stroke-width="2"/>
<circle cx="345.2" cy="1130.0" r="4.6" fill="#f4a62a"/>
<circle cx="819.6" cy="688.0" r="4.6" fill="#f4a62a"/>
<circle cx="1145.8" cy="1082.0" r="4.6" fill="#f4a62a"/>
<circle cx="1103.9" cy="450.0" r="4.6" fill="#f4a62a"/>
<circle cx="1423.1" cy="876.0" r="4.6" fill="#f4a62a"/>
<circle cx="1412.8" cy="313.7" r="4.6" fill="#f4a62a"/>
<circle cx="1770.8" cy="668.8" r="4.6" fill="#f4a62a"/>
<circle cx="1767.8" cy="112.0" r="4.6" fill="#f4a62a"/>
<circle cx="2267.0" cy="205.0" r="4.6" fill="#f4a62a"/>
<g clip-path="url(#cpA)"><g transform="translate(875,52)"><rect x="0" y="0" width="272" height="177" fill="#8d8b74"/><polygon points="0,40 60,48 100,40 130,30 150,20 272,10 272,177 0,177" fill="#6f6d48"/><polygon points="0,110 60,150 100,177 0,177" fill="#5c6232"/><polygon points="200,120 272,95 272,177 160,177" fill="#7a7150"/><polygon points="225,100 272,80 272,130 240,150" fill="#8c8262"/><polygon points="0,25 75,0 124,6 100,20 80,37 37,48 0,47" fill="#b4b3aa"/><polygon points="100,20 130,12 160,14 170,30 120,42 95,35" fill="#a8a79c"/><rect x="0" y="0" width="72" height="25" fill="#dcdcd6"/><polygon points="0,10 50,0 60,0 0,13" fill="#c05a40"/><rect x="0" y="14" width="72" height="3" fill="#b8b8b2"/><rect x="205" y="0" width="67" height="8" fill="#c8c6c0"/><rect x="220" y="0" width="40" height="4" fill="#b86a50"/><ellipse cx="160" cy="15" rx="25" ry="14" fill="#5a6432"/><rect x="215" y="15" width="27" height="14" fill="#3c3c3c"/><rect x="30" y="30" width="4" height="2" fill="#e0dcd6"/><rect x="40" y="27" width="4" height="2" fill="#e0dcd6"/><rect x="50" y="24" width="4" height="2" fill="#e0dcd6"/><rect x="60" y="36" width="4" height="2" fill="#e0dcd6"/><rect x="45" y="38" width="4" height="2" fill="#e0dcd6"/><rect x="30" y="40" width="4" height="2" fill="#e0dcd6"/><rect x="55" y="28" width="4" height="2" fill="#e0dcd6"/><rect x="120" y="30" width="4" height="2" fill="#e0dcd6"/><rect x="130" y="28" width="4" height="2" fill="#e0dcd6"/><rect x="140" y="25" width="4" height="2" fill="#e0dcd6"/><rect x="125" y="38" width="4" height="2" fill="#e0dcd6"/><polygon points="145,41 194,24 272,38 272,48 239,67" fill="#969690"/><polygon points="145,41 239,67 239,85 145,56" fill="#c4c4c0"/><polygon points="239,67 272,48 272,72 239,85" fill="#a4a4a0"/><line x1="162" y1="40" x2="200" y2="27" stroke="#d6d6d2" stroke-width="2.5"/><line x1="179" y1="45" x2="218" y2="31" stroke="#d6d6d2" stroke-width="2.5"/><line x1="196" y1="50" x2="235" y2="36" stroke="#d6d6d2" stroke-width="2.5"/><line x1="218" y1="56" x2="253" y2="42" stroke="#d6d6d2" stroke-width="2.5"/><polygon points="118,97 172,73 205,77 236,94 179,124 124,109" fill="#807f7a"/><polygon points="179,94 218,92 249,106 244,139 211,139 182,134" fill="#867f66"/><polygon points="179,98 215,93 218,110 184,124" fill="#4d6a52"/><polygon points="176,104 205,92 214,100 186,114" fill="#c8c8c4"/><polygon points="10,70 116,40 172,70 176,124 180,175 97,177 50,148 1,106 1,81" fill="#9b9b98"/><polygon points="52,75 116,48 170,72 170,95 110,100" fill="#999995"/><polygon points="1,82 52,75 116,110 120,130 60,140 1,106" fill="#a09f9c"/><polygon points="52,130 120,110 180,128 180,177 97,177" fill="#8e8e8b"/><polygon points="0,104 52,146 97,177 0,177" fill="#5e6434"/><polygon points="0,128 30,150 40,177 0,177" fill="#6d7440"/><polygon points="1,104 52,146 56,156 1,114" fill="#c8c8c2"/><polygon points="104,100 160,72 172,72 172,95 112,106" fill="#9c9c98"/><line x1="52" y1="136" x2="118" y2="108" stroke="#5a6aa0" stroke-width="1.2"/><line x1="72" y1="72" x2="115" y2="58" stroke="#d4d4d0" stroke-width="2.5"/><line x1="90" y1="79" x2="132" y2="64" stroke="#d4d4d0" stroke-width="2.5"/><line x1="108" y1="88" x2="152" y2="72" stroke="#d4d4d0" stroke-width="2.5"/><line x1="86" y1="158" x2="153" y2="122" stroke="#d4d4d0" stroke-width="3.5"/><line x1="20" y1="80" x2="50" y2="72" stroke="#d4d4d0" stroke-width="2.5"/><line x1="10" y1="70" x2="116" y2="40" stroke="#c8c8c4" stroke-width="3"/></g></g>
<g clip-path="url(#cpB)"><g transform="translate(462,379)"><rect x="0" y="0" width="272" height="177" fill="url(#pBbg)"/><rect x="0" y="0" width="124" height="62" fill="#b8c99e"/><rect x="0" y="40" width="40" height="60" fill="#c8d4c0"/><rect x="135" y="0" width="19" height="75" fill="#c2c6c0"/><rect x="154" y="0" width="30" height="75" fill="#dfe4dc"/><rect x="184" y="0" width="70" height="70" fill="#e2e3de"/><circle cx="216" cy="18" r="3.5" fill="#cfd0cc" stroke="#8a8a8a" stroke-width="0.8"/><circle cx="231" cy="18" r="3.5" fill="#cfd0cc" stroke="#8a8a8a" stroke-width="0.8"/><path d="M205,70 C205,30 245,30 245,60" fill="none" stroke="#202020" stroke-width="2"/><rect x="254" y="26" width="18" height="38" fill="#234f9c"/><rect x="199" y="65" width="73" height="42" fill="#e6c232"/><rect x="0" y="120" width="272" height="57" fill="#d4dcdc"/><rect x="167" y="80" width="84" height="57" fill="#6f9a70"/><rect x="238" y="80" width="13" height="65" fill="#7aa47a"/><rect x="172" y="37" width="28" height="38" fill="#5a9878" rx="4"/><rect x="222" y="55" width="32" height="22" fill="#3a3a3a"/><rect x="53" y="50" width="121" height="6" fill="#c9b98e"/><rect x="14" y="56" width="160" height="2" fill="#3c7a48"/><rect x="14" y="56" width="2" height="50" fill="#3c7a48"/><rect x="77" y="56" width="2" height="50" fill="#3c7a48"/><rect x="150" y="56" width="2" height="40" fill="#3c7a48"/><rect x="78" y="68" width="90" height="10" fill="#c0a880"/><polygon points="25,5 67,5 67,37 60,45 30,45 25,37" fill="#a4b4cc"/><ellipse cx="65" cy="7" rx="8" ry="6" fill="#3a3a3a"/><polygon points="28,30 52,30 55,60 50,117 35,117 30,90 19,117 20,70" fill="#274aa0"/><rect x="77" y="27" width="32" height="28" fill="#2e5ec0" rx="6"/><circle cx="92" cy="21" r="6" fill="#c89a86"/><rect x="77" y="45" width="30" height="10" fill="#1f62c8"/><rect x="123" y="39" width="18" height="15" fill="#2a5aa0"/><rect x="0" y="81" width="14" height="56" fill="#a6acac"/><rect x="48" y="71" width="29" height="22" fill="#9aa0a0" rx="5"/><rect x="42" y="88" width="35" height="34" fill="#7c8282"/><rect x="124" y="71" width="21" height="16" fill="#9ca2a2" rx="4"/><rect x="124" y="84" width="21" height="24" fill="#7e8484"/><rect x="93" y="90" width="20" height="20" fill="#2a2a2a"/><rect x="106" y="107" width="75" height="58" fill="#2660b4"/><rect x="106" y="107" width="55" height="58" fill="#1f58a8"/><rect x="0" y="138" width="35" height="39" fill="#2a66ba"/><rect x="30" y="122" width="86" height="55" fill="#1c4f98"/><rect x="88" y="122" width="28" height="55" fill="#2460b0"/><path d="M75,125 C100,120 102,150 103,177" fill="none" stroke="#1a1a1a" stroke-width="4"/><path d="M110,117 C135,112 140,130 142,150" fill="none" stroke="#1a1a1a" stroke-width="4"/><rect x="108" y="133" width="41" height="44" fill="#2a2a2a"/><rect x="108" y="140" width="12" height="37" fill="#9a9a9a"/><rect x="255" y="106" width="17" height="37" fill="#333638"/></g></g>
<g clip-path="url(#cpC)"><g transform="translate(154,609)"><rect x="0" y="0" width="272" height="177" fill="url(#pCbg)"/><polygon points="236,10 272,20 272,130 236,112" fill="#1a46b8"/><polygon points="0,112 272,112 272,177 0,177" fill="url(#pCfl)"/><polygon points="0,112 40,112 5,177 0,177" fill="#a8a4bc"/><polygon points="90,112 160,112 190,177 110,177" fill="#9c9aa8"/><polygon points="160,112 250,112 272,140 272,177 200,177" fill="#a4a2b2"/><line x1="42" y1="48" x2="236" y2="17" stroke="#d8d0f0" stroke-width="3"/><line x1="236" y1="17" x2="272" y2="30" stroke="#d0c8ea" stroke-width="2.5"/><rect x="85" y="99" width="13" height="14" fill="#9c9ca4"/><rect x="112" y="90" width="40" height="22" fill="#a0a0a8"/><rect x="171" y="100" width="13" height="13" fill="#9c9ca4"/><rect x="184" y="89" width="46" height="24" fill="#a8a8b0"/><line x1="91" y1="105" x2="96" y2="177" stroke="#8a8ab0" stroke-width="3"/><path d="M122,105 C130,130 150,155 170,177" fill="none" stroke="#c8c8d8" stroke-width="4"/><line x1="178" y1="106" x2="205" y2="160" stroke="#8a8ab0" stroke-width="3"/><polygon points="140,138 150,135 168,158 160,162" fill="#e0c030"/><polygon points="178,18 200,14 204,30 196,38 186,45 168,100 155,100 172,40" fill="#b6bac4"/><circle cx="152" cy="106" r="10" fill="#a8a8b0"/><line x1="193" y1="57" x2="236" y2="0" stroke="#1e1e22" stroke-width="4"/><polygon points="0,0 40,0 53,62 65,109 57,124 42,123 12,50 0,43" fill="#14161c"/><polygon points="0,43 12,50 0,80" fill="#1a1c22"/><polygon points="88,0 134,0 169,36 159,53 130,35 112,12" fill="#15171d"/><polygon points="44,0 52,0 52,20 46,18" fill="#4a6a30"/><polygon points="50,112 78,112 91,126 88,140 70,144 56,132" fill="#e0b8a4"/><polygon points="158,40 172,30 192,33 196,45 190,58 176,57 162,52" fill="#e4bca8"/><path d="M2,168 C40,145 70,128 100,110 C130,92 160,72 190,62 C206,57 214,64 218,78 C224,100 227,140 230,177" fill="none" stroke="#2e8ed8" stroke-width="13"/><path d="M2,168 C40,145 70,128 100,110 C130,92 160,72 190,62 C206,57 214,64 218,78 C224,100 227,140 230,177" fill="none" stroke="#60bdf2" stroke-width="7"/><path d="M150,113 C160,135 175,148 215,155 C240,160 255,168 268,177" fill="none" stroke="#2e8ed8" stroke-width="11"/><path d="M150,113 C160,135 175,148 215,155 C240,160 255,168 268,177" fill="none" stroke="#5cbaf0" stroke-width="6"/><circle cx="152" cy="108" r="6" fill="#b8b8c0"/></g></g>
<g clip-path="url(#cpD)"><g transform="translate(618,1167)"><rect x="0" y="0" width="272" height="177" fill="url(#pDsky)"/><line x1="0" y1="12" x2="272" y2="15" stroke="#b0a890" stroke-width="0.6"/><line x1="194" y1="5" x2="194" y2="35" stroke="#9a907c" stroke-width="1"/><path d="M18,0 L20,38 M25,10 L35,30 M15,15 L8,25" stroke="#c8bea8" stroke-width="2" fill="none"/><rect x="0" y="0" width="14" height="50" fill="#e2dac6"/><rect x="14" y="38" width="175" height="12" fill="#4a3d31"/><rect x="89" y="49" width="100" height="76" fill="#574637"/><rect x="140" y="58" width="20" height="2" fill="#d8d0c0"/><rect x="138" y="74" width="14" height="18" fill="#8e7e6c"/><rect x="175" y="65" width="14" height="60" fill="#3e3228"/><polygon points="183,37 272,4 272,135 190,124 183,57" fill="#d9d1bd"/><polygon points="183,37 272,4 272,24 183,56" fill="#e4ddcc"/><polygon points="183,55 272,25 272,30 183,60" fill="#b8b09c"/><rect x="219" y="57" width="14" height="24" fill="#6a4e3a"/><rect x="198" y="89" width="5" height="32" fill="#7a6a58"/><rect x="210" y="81" width="28" height="52" fill="#eaeaea"/><rect x="232" y="51" width="40" height="33" fill="#e6c64a"/><text x="246" y="60" font-size="6" font-weight="bold" fill="#4a4030">DEALER</text><text x="234" y="73" font-size="5" font-weight="bold" fill="#4a4030">BUMAR</text><rect x="236" y="84" width="36" height="50" fill="#cfc6b0"/><rect x="0" y="69" width="83" height="66" fill="#b9ad98"/><rect x="74" y="69" width="10" height="66" fill="#c8bea8"/><rect x="0" y="66" width="86" height="4" fill="#e0d8c8"/><rect x="0" y="49" width="89" height="18" fill="#dfbe4c"/><text x="14" y="57" font-size="6" font-weight="bold" fill="#4a3a28">BUMAR-WARYŃSKI</text><text x="33" y="64" font-size="6" font-weight="bold" fill="#4a3a28">DEALER</text><rect x="90" y="50" width="27" height="21" fill="#ecebe6"/><rect x="91" y="54" width="24" height="3" fill="#b0a898"/><rect x="92" y="62" width="18" height="4" fill="#a09888"/><rect x="83" y="82" width="36" height="54" fill="none" stroke="#d0cabc" stroke-width="2"/><polygon points="103,95 110,91 128,92 133,106 146,118 146,135 121,135 101,120" fill="#ecebe6"/><rect x="121" y="128" width="24" height="6" fill="#6a6050"/><rect x="95" y="104" width="7" height="22" fill="#5a5a6a"/><rect x="113" y="82" width="7" height="55" fill="#dcd6c8"/><rect x="0" y="135" width="272" height="42" fill="#c9c0aa"/><rect x="0" y="135" width="272" height="12" fill="#bdb39c"/><polygon points="0,147 272,142 272,145 0,151" fill="#8c8070"/><rect x="145" y="124" width="50" height="11" fill="#6e6050"/></g></g>
<g clip-path="url(#cpE)"><g transform="translate(1522,1018)"><rect x="0" y="0" width="273" height="176" fill="url(#pEbg)"/><ellipse cx="81" cy="170" rx="22" ry="3" fill="#d6d6de"/><ellipse cx="138" cy="169" rx="18" ry="3" fill="#d6d6de"/><ellipse cx="192" cy="169" rx="15" ry="3" fill="#d6d6de"/><circle cx="81.0" cy="18.5" r="14.0" fill="#1c1c1c"/><ellipse cx="84.0" cy="19.5" rx="6.5" ry="8.0" fill="#e4e4ea"/><ellipse cx="87.0" cy="20.0" rx="3.2" ry="6.5" fill="#4a4a4e"/><rect x="71.0" y="26.5" width="21.0" height="22.0" fill="#202020" rx="0.0"/><rect x="74.0" y="47.5" width="14.0" height="5.5" fill="url(#pEpin)" rx="0.0"/><rect x="70.0" y="52.0" width="22.0" height="5.5" fill="#0e0e0e" rx="0.0"/><rect x="64.0" y="55.5" width="34.0" height="29.0" fill="url(#pEcyl)" rx="0.0"/><rect x="64.0" y="60.5" width="7.0" height="20.0" fill="#262626" rx="0.0"/><rect x="68.0" y="83.5" width="26.0" height="25.0" fill="url(#pEcyl)" rx="0.0"/><rect x="62.0" y="104.5" width="37.0" height="25.0" fill="url(#pEcyl)" rx="0.0"/><rect x="54.0" y="110.0" width="19.0" height="15.0" fill="url(#pEpin)" rx="5.0"/><rect x="97.0" y="104.5" width="9.0" height="13.0" fill="url(#pEpin)" rx="4.0"/><rect x="69.0" y="128.5" width="25.0" height="17.0" fill="url(#pEcyl)" rx="0.0"/><rect x="64.0" y="142.5" width="34.0" height="25.5" fill="url(#pEcyl)" rx="3.0"/><circle cx="138.0" cy="40.3" r="11.8" fill="#1c1c1c"/><ellipse cx="140.5" cy="41.1" rx="5.5" ry="6.7" fill="#e4e4ea"/><ellipse cx="143.0" cy="41.5" rx="2.7" ry="5.5" fill="#4a4a4e"/><rect x="129.6" y="47.0" width="17.6" height="18.5" fill="#202020" rx="0.0"/><rect x="132.1" y="64.6" width="11.8" height="4.6" fill="url(#pEpin)" rx="0.0"/><rect x="128.8" y="68.4" width="18.5" height="4.6" fill="#0e0e0e" rx="0.0"/><rect x="123.7" y="71.3" width="28.6" height="24.4" fill="url(#pEcyl)" rx="0.0"/><rect x="123.7" y="75.5" width="5.9" height="16.8" fill="#262626" rx="0.0"/><rect x="127.1" y="94.9" width="21.8" height="21.0" fill="url(#pEcyl)" rx="0.0"/><rect x="122.0" y="112.5" width="31.1" height="21.0" fill="url(#pEcyl)" rx="0.0"/><rect x="115.3" y="117.1" width="16.0" height="12.6" fill="url(#pEpin)" rx="4.2"/><rect x="151.4" y="112.5" width="7.6" height="10.9" fill="url(#pEpin)" rx="3.4"/><rect x="127.9" y="132.7" width="21.0" height="14.3" fill="url(#pEcyl)" rx="0.0"/><rect x="123.7" y="144.4" width="28.6" height="21.4" fill="url(#pEcyl)" rx="2.5"/><circle cx="192.0" cy="58.1" r="10.1" fill="#1c1c1c"/><ellipse cx="194.2" cy="58.8" rx="4.7" ry="5.8" fill="#e4e4ea"/><ellipse cx="196.3" cy="59.2" rx="2.3" ry="4.7" fill="#4a4a4e"/><rect x="184.8" y="63.8" width="15.1" height="15.8" fill="#202020" rx="0.0"/><rect x="187.0" y="79.0" width="10.1" height="4.0" fill="url(#pEpin)" rx="0.0"/><rect x="184.1" y="82.2" width="15.8" height="4.0" fill="#0e0e0e" rx="0.0"/><rect x="179.8" y="84.7" width="24.5" height="20.9" fill="url(#pEcyl)" rx="0.0"/><rect x="179.8" y="88.3" width="5.0" height="14.4" fill="#262626" rx="0.0"/><rect x="182.6" y="104.9" width="18.7" height="18.0" fill="url(#pEcyl)" rx="0.0"/><rect x="178.3" y="120.0" width="26.6" height="18.0" fill="url(#pEcyl)" rx="0.0"/><rect x="172.6" y="124.0" width="13.7" height="10.8" fill="url(#pEpin)" rx="3.6"/><rect x="203.5" y="120.0" width="6.5" height="9.4" fill="url(#pEpin)" rx="2.9"/><rect x="183.4" y="137.3" width="18.0" height="12.2" fill="url(#pEcyl)" rx="0.0"/><rect x="179.8" y="147.4" width="24.5" height="18.4" fill="url(#pEcyl)" rx="2.2"/></g></g>
<g clip-path="url(#cpF)"><g transform="translate(2182,577)"><rect x="0" y="0" width="272" height="177" fill="#dfe2e7"/><rect x="0" y="0" width="272" height="14" fill="#d2d5db"/><polygon points="0,8 120,18 272,28 272,32 120,22 0,12" fill="#b8bcc4"/><rect x="0" y="14" width="40" height="30" fill="#eceef0"/><rect x="100" y="4" width="80" height="30" fill="#e6e8ec"/><circle cx="232" cy="10" r="4" fill="#fafafa"/><rect x="0" y="68" width="272" height="22" fill="#a2a8b3"/><rect x="0" y="76" width="272" height="8" fill="#868d9a"/><rect x="8" y="73" width="10" height="10" fill="#c4c8d0"/><rect x="30" y="73" width="10" height="10" fill="#c4c8d0"/><rect x="52" y="73" width="10" height="10" fill="#c4c8d0"/><rect x="74" y="73" width="10" height="10" fill="#c4c8d0"/><rect x="96" y="73" width="10" height="10" fill="#c4c8d0"/><rect x="118" y="73" width="10" height="10" fill="#c4c8d0"/><rect x="140" y="73" width="10" height="10" fill="#c4c8d0"/><rect x="162" y="73" width="10" height="10" fill="#c4c8d0"/><rect x="184" y="73" width="10" height="10" fill="#c4c8d0"/><rect x="206" y="73" width="10" height="10" fill="#c4c8d0"/><rect x="228" y="73" width="10" height="10" fill="#c4c8d0"/><rect x="250" y="73" width="10" height="10" fill="#c4c8d0"/><polygon points="0,130 120,125 272,120 272,177 0,177" fill="#c9ccd3"/><polygon points="0,150 60,145 120,177 0,177" fill="#bfc3cb"/><rect x="216" y="0" width="13" height="143" fill="#a9afba"/><rect x="115" y="19" width="9" height="105" fill="#a9afba"/><rect x="256" y="25" width="7" height="87" fill="#a9afba"/><rect x="50" y="45" width="7" height="67" fill="#a9afba"/><rect x="22" y="50" width="6" height="62" fill="#a9afba"/><line x1="0" y1="45" x2="124" y2="48" stroke="#cfd3da" stroke-width="6"/><line x1="0" y1="58" x2="124" y2="61" stroke="#cfd3da" stroke-width="5"/><line x1="0" y1="95" x2="124" y2="98" stroke="#cfd3da" stroke-width="6"/><line x1="0" y1="112" x2="124" y2="115" stroke="#cfd3da" stroke-width="5"/><line x1="124" y1="45" x2="150" y2="22" stroke="#a3aab6" stroke-width="6"/><line x1="124" y1="75" x2="150" y2="52" stroke="#a3aab6" stroke-width="6"/><line x1="124" y1="105" x2="152" y2="82" stroke="#a3aab6" stroke-width="6"/><line x1="229" y1="30" x2="265" y2="8" stroke="#a3aab6" stroke-width="6"/><line x1="229" y1="65" x2="272" y2="40" stroke="#a3aab6" stroke-width="6"/><line x1="229" y1="100" x2="272" y2="75" stroke="#a3aab6" stroke-width="6"/><line x1="57" y1="55" x2="72" y2="42" stroke="#a3aab6" stroke-width="6"/><line x1="57" y1="88" x2="75" y2="72" stroke="#a3aab6" stroke-width="6"/><line x1="28" y1="60" x2="38" y2="52" stroke="#a3aab6" stroke-width="6"/><line x1="229" y1="125" x2="272" y2="100" stroke="#a3aab6" stroke-width="6"/><polygon points="42,24 140,32 242,52 242,62 140,44 50,36" fill="#eef0f3"/><polygon points="150,0 272,14 272,40 230,30 150,10" fill="#eef0f3"/><polygon points="0,41 110,44 230,58 272,62 272,68 230,66 110,54 0,50" fill="#eef0f3"/><polygon points="40,88 140,85 215,92 215,100 140,98 42,102" fill="#eef0f3"/><polygon points="135,100 210,92 272,84 272,92 210,104 140,112" fill="#eef0f3"/><polygon points="0,105 60,102 130,108 200,116 200,122 130,118 60,114 0,116" fill="#eef0f3"/><polygon points="30,138 100,128 180,118 200,116 200,124 120,136 40,150" fill="#eef0f3"/><polygon points="60,150 150,132 150,140 70,158" fill="#eef0f3"/><polygon points="145,160 210,140 272,108 272,125 210,152 150,170" fill="#eef0f3"/><polygon points="188,172 240,150 272,132 272,145 245,162 195,177" fill="#eef0f3"/><line x1="45" y1="30" x2="240" y2="57" stroke="#d3d7de" stroke-width="1"/><line x1="0" y1="46" x2="272" y2="65" stroke="#d3d7de" stroke-width="1"/><line x1="40" y1="95" x2="215" y2="96" stroke="#d3d7de" stroke-width="1"/><line x1="0" y1="110" x2="200" y2="119" stroke="#d3d7de" stroke-width="1"/><line x1="40" y1="144" x2="200" y2="120" stroke="#d3d7de" stroke-width="1"/><line x1="150" y1="165" x2="272" y2="117" stroke="#d3d7de" stroke-width="1"/><line x1="195" y1="174" x2="272" y2="138" stroke="#d3d7de" stroke-width="1"/><circle cx="45.2" cy="31.6" r="1.5" fill="#2a4fb8"/><circle cx="48.4" cy="30.1" r="1.5" fill="#2a4fb8"/><circle cx="49.5" cy="31.0" r="1.5" fill="#2a4fb8"/><circle cx="48.4" cy="33.3" r="1.5" fill="#2a4fb8"/><circle cx="46.4" cy="33.3" r="1.5" fill="#2a4fb8"/><circle cx="47.4" cy="30.3" r="1.5" fill="#2a4fb8"/><circle cx="50.7" cy="30.1" r="1.5" fill="#2a4fb8"/><circle cx="45.8" cy="29.3" r="1.5" fill="#2a4fb8"/><circle cx="62.1" cy="30.2" r="1.5" fill="#c42a2a"/><circle cx="61.1" cy="30.5" r="1.5" fill="#c42a2a"/><circle cx="65.8" cy="23.2" r="1.5" fill="#c42a2a"/><circle cx="64.7" cy="29.7" r="1.5" fill="#c42a2a"/><circle cx="62.8" cy="24.0" r="1.5" fill="#c42a2a"/><circle cx="60.2" cy="25.0" r="1.5" fill="#c42a2a"/><circle cx="63.1" cy="28.6" r="1.5" fill="#c42a2a"/><circle cx="49.3" cy="66.4" r="1.5" fill="#2a4fb8"/><circle cx="43.4" cy="70.0" r="1.5" fill="#2a4fb8"/><circle cx="44.3" cy="63.2" r="1.5" fill="#2a4fb8"/><circle cx="43.6" cy="64.2" r="1.5" fill="#2a4fb8"/><circle cx="44.2" cy="68.2" r="1.5" fill="#2a4fb8"/><circle cx="45.8" cy="69.6" r="1.5" fill="#2a4fb8"/><circle cx="44.7" cy="66.9" r="1.5" fill="#2a4fb8"/><circle cx="44.6" cy="69.9" r="1.5" fill="#2a4fb8"/><circle cx="46.2" cy="65.6" r="1.5" fill="#2a4fb8"/><circle cx="50.1" cy="68.8" r="1.5" fill="#2a4fb8"/><circle cx="61.9" cy="61.6" r="1.5" fill="#c42a2a"/><circle cx="66.2" cy="63.6" r="1.5" fill="#c42a2a"/><circle cx="61.1" cy="64.3" r="1.5" fill="#c42a2a"/><circle cx="67.4" cy="59.2" r="1.5" fill="#c42a2a"/><circle cx="67.5" cy="63.7" r="1.5" fill="#c42a2a"/><circle cx="67.6" cy="66.0" r="1.5" fill="#c42a2a"/><circle cx="63.6" cy="64.8" r="1.5" fill="#c42a2a"/><circle cx="63.4" cy="66.6" r="1.5" fill="#c42a2a"/><circle cx="67.7" cy="61.5" r="1.5" fill="#c42a2a"/><circle cx="49.8" cy="98.4" r="1.5" fill="#2a4fb8"/><circle cx="44.0" cy="95.8" r="1.5" fill="#2a4fb8"/><circle cx="46.3" cy="102.0" r="1.5" fill="#2a4fb8"/><circle cx="46.8" cy="103.3" r="1.5" fill="#2a4fb8"/><circle cx="47.1" cy="99.0" r="1.5" fill="#2a4fb8"/><circle cx="42.5" cy="102.5" r="1.5" fill="#2a4fb8"/><circle cx="46.9" cy="102.5" r="1.5" fill="#2a4fb8"/><circle cx="46.9" cy="95.6" r="1.5" fill="#2a4fb8"/><circle cx="42.4" cy="96.1" r="1.5" fill="#2a4fb8"/><circle cx="45.0" cy="95.9" r="1.5" fill="#2a4fb8"/><circle cx="69.7" cy="99.4" r="1.5" fill="#c42a2a"/><circle cx="64.6" cy="97.7" r="1.5" fill="#c42a2a"/><circle cx="70.8" cy="104.5" r="1.5" fill="#c42a2a"/><circle cx="62.1" cy="99.2" r="1.5" fill="#c42a2a"/><circle cx="62.4" cy="101.9" r="1.5" fill="#c42a2a"/><circle cx="60.9" cy="99.4" r="1.5" fill="#c42a2a"/><circle cx="67.2" cy="103.8" r="1.5" fill="#c42a2a"/><circle cx="61.6" cy="103.8" r="1.5" fill="#c42a2a"/><circle cx="61.5" cy="103.1" r="1.5" fill="#c42a2a"/><circle cx="66.5" cy="98.1" r="1.5" fill="#c42a2a"/><circle cx="68.2" cy="106.8" r="1.5" fill="#c42a2a"/><circle cx="60.2" cy="100.8" r="1.5" fill="#c42a2a"/><circle cx="64.4" cy="97.2" r="1.5" fill="#c42a2a"/><circle cx="68.6" cy="102.1" r="1.5" fill="#c42a2a"/><circle cx="154.7" cy="107.1" r="1.5" fill="#2a4fb8"/><circle cx="161.2" cy="101.0" r="1.5" fill="#2a4fb8"/><circle cx="147.7" cy="109.9" r="1.5" fill="#2a4fb8"/><circle cx="151.4" cy="109.7" r="1.5" fill="#2a4fb8"/><circle cx="157.1" cy="99.6" r="1.5" fill="#2a4fb8"/><circle cx="157.0" cy="110.5" r="1.5" fill="#2a4fb8"/><circle cx="158.0" cy="102.4" r="1.5" fill="#2a4fb8"/><circle cx="158.4" cy="106.4" r="1.5" fill="#2a4fb8"/><circle cx="147.8" cy="100.9" r="1.5" fill="#2a4fb8"/><circle cx="155.3" cy="108.2" r="1.5" fill="#2a4fb8"/><circle cx="150.2" cy="108.2" r="1.5" fill="#2a4fb8"/><circle cx="157.0" cy="106.1" r="1.5" fill="#2a4fb8"/><circle cx="148.5" cy="101.3" r="1.5" fill="#2a4fb8"/><circle cx="159.7" cy="104.0" r="1.5" fill="#2a4fb8"/><circle cx="156.0" cy="107.4" r="1.5" fill="#2a4fb8"/><circle cx="159.3" cy="109.1" r="1.5" fill="#2a4fb8"/><circle cx="153.5" cy="107.8" r="1.5" fill="#2a4fb8"/><circle cx="149.3" cy="103.5" r="1.5" fill="#2a4fb8"/><circle cx="151.9" cy="102.9" r="1.5" fill="#2a4fb8"/><circle cx="149.7" cy="104.8" r="1.5" fill="#2a4fb8"/><circle cx="147.9" cy="104.0" r="1.5" fill="#2a4fb8"/><circle cx="155.0" cy="107.3" r="1.5" fill="#2a4fb8"/><circle cx="203.3" cy="101.7" r="1.5" fill="#c42a2a"/><circle cx="191.9" cy="106.4" r="1.5" fill="#c42a2a"/><circle cx="191.6" cy="104.2" r="1.5" fill="#c42a2a"/><circle cx="189.0" cy="101.3" r="1.5" fill="#c42a2a"/><circle cx="190.4" cy="101.8" r="1.5" fill="#c42a2a"/><circle cx="200.7" cy="111.1" r="1.5" fill="#c42a2a"/><circle cx="204.5" cy="109.3" r="1.5" fill="#c42a2a"/><circle cx="187.5" cy="105.4" r="1.5" fill="#c42a2a"/><circle cx="203.0" cy="102.6" r="1.5" fill="#c42a2a"/><circle cx="187.2" cy="107.3" r="1.5" fill="#c42a2a"/><circle cx="190.8" cy="110.7" r="1.5" fill="#c42a2a"/><circle cx="202.3" cy="107.5" r="1.5" fill="#c42a2a"/><circle cx="194.6" cy="109.1" r="1.5" fill="#c42a2a"/><circle cx="191.2" cy="105.1" r="1.5" fill="#c42a2a"/><circle cx="200.7" cy="105.5" r="1.5" fill="#c42a2a"/><circle cx="197.2" cy="101.9" r="1.5" fill="#c42a2a"/><circle cx="196.8" cy="110.8" r="1.5" fill="#c42a2a"/><circle cx="203.9" cy="103.8" r="1.5" fill="#c42a2a"/><circle cx="185.1" cy="107.0" r="1.5" fill="#c42a2a"/><circle cx="200.7" cy="101.8" r="1.5" fill="#c42a2a"/><circle cx="189.8" cy="106.6" r="1.5" fill="#c42a2a"/><circle cx="202.3" cy="104.0" r="1.5" fill="#c42a2a"/><circle cx="191.7" cy="101.2" r="1.5" fill="#c42a2a"/><circle cx="199.3" cy="104.4" r="1.5" fill="#c42a2a"/><circle cx="191.4" cy="50.0" r="1.5" fill="#c42a2a"/><circle cx="187.5" cy="54.9" r="1.5" fill="#c42a2a"/><circle cx="192.9" cy="57.3" r="1.5" fill="#c42a2a"/><circle cx="187.5" cy="51.5" r="1.5" fill="#c42a2a"/><circle cx="182.1" cy="51.8" r="1.5" fill="#c42a2a"/><circle cx="180.2" cy="53.3" r="1.5" fill="#c42a2a"/><circle cx="190.6" cy="49.1" r="1.5" fill="#c42a2a"/><circle cx="191.6" cy="49.8" r="1.5" fill="#c42a2a"/><circle cx="185.5" cy="51.9" r="1.5" fill="#c42a2a"/><circle cx="195.7" cy="51.6" r="1.5" fill="#c42a2a"/><circle cx="191.4" cy="46.2" r="1.5" fill="#c42a2a"/><circle cx="195.8" cy="53.9" r="1.5" fill="#c42a2a"/><circle cx="187.5" cy="52.6" r="1.5" fill="#c42a2a"/><circle cx="187.4" cy="50.2" r="1.5" fill="#c42a2a"/><circle cx="188.7" cy="47.0" r="1.5" fill="#c42a2a"/><circle cx="193.3" cy="46.5" r="1.5" fill="#c42a2a"/><circle cx="196.0" cy="51.7" r="1.5" fill="#c42a2a"/><circle cx="190.6" cy="57.7" r="1.5" fill="#c42a2a"/><circle cx="161.2" cy="61.7" r="1.5" fill="#2a4fb8"/><circle cx="158.7" cy="61.8" r="1.5" fill="#2a4fb8"/><circle cx="156.3" cy="54.3" r="1.5" fill="#2a4fb8"/><circle cx="156.0" cy="55.0" r="1.5" fill="#2a4fb8"/><circle cx="159.4" cy="57.6" r="1.5" fill="#2a4fb8"/><circle cx="162.0" cy="58.5" r="1.5" fill="#2a4fb8"/><circle cx="161.6" cy="59.8" r="1.5" fill="#2a4fb8"/><circle cx="163.0" cy="55.9" r="1.5" fill="#2a4fb8"/><circle cx="163.3" cy="57.9" r="1.5" fill="#2a4fb8"/><circle cx="157.2" cy="55.3" r="1.5" fill="#2a4fb8"/><circle cx="36.3" cy="144.1" r="1.5" fill="#2a4fb8"/><circle cx="41.7" cy="144.8" r="1.5" fill="#2a4fb8"/><circle cx="32.1" cy="143.6" r="1.5" fill="#2a4fb8"/><circle cx="36.4" cy="140.8" r="1.5" fill="#2a4fb8"/><circle cx="32.4" cy="139.1" r="1.5" fill="#2a4fb8"/><circle cx="33.9" cy="144.0" r="1.5" fill="#2a4fb8"/><circle cx="41.3" cy="142.4" r="1.5" fill="#2a4fb8"/><circle cx="37.0" cy="141.5" r="1.5" fill="#2a4fb8"/><circle cx="37.5" cy="146.1" r="1.5" fill="#2a4fb8"/><circle cx="40.1" cy="143.6" r="1.5" fill="#2a4fb8"/><circle cx="55.4" cy="145.3" r="1.5" fill="#c42a2a"/><circle cx="62.0" cy="147.6" r="1.5" fill="#c42a2a"/><circle cx="63.1" cy="151.8" r="1.5" fill="#c42a2a"/><circle cx="60.8" cy="149.1" r="1.5" fill="#c42a2a"/><circle cx="57.6" cy="148.4" r="1.5" fill="#c42a2a"/><circle cx="53.6" cy="147.5" r="1.5" fill="#c42a2a"/><circle cx="57.6" cy="151.3" r="1.5" fill="#c42a2a"/><circle cx="62.8" cy="149.8" r="1.5" fill="#c42a2a"/><circle cx="59.9" cy="147.3" r="1.5" fill="#c42a2a"/><circle cx="58.5" cy="146.8" r="1.5" fill="#c42a2a"/><circle cx="58.5" cy="150.0" r="1.5" fill="#c42a2a"/><circle cx="62.9" cy="149.4" r="1.5" fill="#c42a2a"/><circle cx="153.8" cy="156.4" r="1.5" fill="#2a4fb8"/><circle cx="162.5" cy="158.8" r="1.5" fill="#2a4fb8"/><circle cx="154.0" cy="160.1" r="1.5" fill="#2a4fb8"/><circle cx="155.9" cy="157.5" r="1.5" fill="#2a4fb8"/><circle cx="155.8" cy="163.8" r="1.5" fill="#2a4fb8"/><circle cx="155.0" cy="158.4" r="1.5" fill="#2a4fb8"/><circle cx="153.5" cy="156.1" r="1.5" fill="#2a4fb8"/><circle cx="150.9" cy="163.2" r="1.5" fill="#2a4fb8"/><circle cx="146.8" cy="157.9" r="1.5" fill="#2a4fb8"/><circle cx="162.0" cy="163.8" r="1.5" fill="#2a4fb8"/><circle cx="145.1" cy="161.9" r="1.5" fill="#2a4fb8"/><circle cx="148.5" cy="161.2" r="1.5" fill="#2a4fb8"/><circle cx="145.7" cy="163.8" r="1.5" fill="#2a4fb8"/><circle cx="154.5" cy="164.0" r="1.5" fill="#2a4fb8"/><circle cx="153.3" cy="163.2" r="1.5" fill="#2a4fb8"/><circle cx="147.7" cy="161.3" r="1.5" fill="#2a4fb8"/><circle cx="147.7" cy="159.9" r="1.5" fill="#2a4fb8"/><circle cx="164.9" cy="163.3" r="1.5" fill="#2a4fb8"/><circle cx="197.5" cy="170.7" r="1.5" fill="#c42a2a"/><circle cx="189.4" cy="164.8" r="1.5" fill="#c42a2a"/><circle cx="202.1" cy="162.3" r="1.5" fill="#c42a2a"/><circle cx="197.9" cy="170.2" r="1.5" fill="#c42a2a"/><circle cx="190.6" cy="168.4" r="1.5" fill="#c42a2a"/><circle cx="189.3" cy="165.8" r="1.5" fill="#c42a2a"/><circle cx="192.4" cy="163.3" r="1.5" fill="#c42a2a"/><circle cx="203.9" cy="166.7" r="1.5" fill="#c42a2a"/><circle cx="210.0" cy="167.6" r="1.5" fill="#c42a2a"/><circle cx="189.7" cy="164.6" r="1.5" fill="#c42a2a"/><circle cx="207.2" cy="168.6" r="1.5" fill="#c42a2a"/><circle cx="207.5" cy="170.4" r="1.5" fill="#c42a2a"/><circle cx="200.0" cy="167.2" r="1.5" fill="#c42a2a"/><circle cx="200.3" cy="168.6" r="1.5" fill="#c42a2a"/><circle cx="192.8" cy="169.3" r="1.5" fill="#c42a2a"/><circle cx="192.1" cy="164.5" r="1.5" fill="#c42a2a"/><circle cx="197.3" cy="166.4" r="1.5" fill="#c42a2a"/><circle cx="203.9" cy="164.8" r="1.5" fill="#c42a2a"/><circle cx="206.9" cy="168.2" r="1.5" fill="#c42a2a"/><circle cx="191.0" cy="161.1" r="1.5" fill="#c42a2a"/><circle cx="209.7" cy="168.1" r="1.5" fill="#c42a2a"/><circle cx="189.1" cy="170.9" r="1.5" fill="#c42a2a"/><circle cx="197.9" cy="161.4" r="1.5" fill="#c42a2a"/><circle cx="209.5" cy="162.8" r="1.5" fill="#c42a2a"/><circle cx="160.6" cy="0.6" r="1.5" fill="#2a4fb8"/><circle cx="157.1" cy="2.8" r="1.5" fill="#2a4fb8"/><circle cx="155.0" cy="7.0" r="1.5" fill="#2a4fb8"/><circle cx="158.6" cy="2.7" r="1.5" fill="#2a4fb8"/><circle cx="162.0" cy="5.0" r="1.5" fill="#2a4fb8"/><circle cx="156.7" cy="7.2" r="1.5" fill="#2a4fb8"/><circle cx="160.7" cy="1.2" r="1.5" fill="#2a4fb8"/><circle cx="153.7" cy="2.4" r="1.5" fill="#2a4fb8"/><circle cx="181.9" cy="6.8" r="1.5" fill="#c42a2a"/><circle cx="183.1" cy="2.4" r="1.5" fill="#c42a2a"/><circle cx="183.4" cy="2.3" r="1.5" fill="#c42a2a"/><circle cx="183.3" cy="6.1" r="1.5" fill="#c42a2a"/><circle cx="178.9" cy="2.7" r="1.5" fill="#c42a2a"/><circle cx="182.5" cy="5.1" r="1.5" fill="#c42a2a"/><circle cx="2.1" cy="128.4" r="1.5" fill="#c42a2a"/><circle cx="0.4" cy="132.9" r="1.5" fill="#c42a2a"/><circle cx="2.5" cy="129.5" r="1.5" fill="#c42a2a"/></g></g>
<text id="seg0" x="1193.50" y="90.7" font-size="27" font-weight="bold" fill="#0a3d82" textLength="503.40" lengthAdjust="spacingAndGlyphs">Budowa nowego Centrum Logistycznego</text>
<text id="seg1" x="1276.50" y="123.6" font-size="28" fill="#073a80" stroke="#ffffff" stroke-width="0.35" textLength="426.20" lengthAdjust="spacingAndGlyphs">i powierzchni biurowych (8 000 m2)</text>
<text id="seg2" x="1222.50" y="167.4" font-size="28" fill="#073a80" stroke="#ffffff" stroke-width="0.35" textLength="480.40" lengthAdjust="spacingAndGlyphs">Optymalizacja systemów wspierających</text>
<text id="seg3" x="1459.50" y="199.5" font-size="27" font-weight="bold" fill="#0a3d82" textLength="244.40" lengthAdjust="spacingAndGlyphs">sprzedaż i magazyn</text>
<text id="seg4" x="2157.50" y="140.8" font-size="28" fill="#073a80" stroke="#ffffff" stroke-width="0.35" textLength="177.20" lengthAdjust="spacingAndGlyphs">Wprowadzenie</text>
<text id="seg5" x="2157.50" y="172.7" font-size="27" font-weight="bold" fill="#0a3d82" textLength="176.40" lengthAdjust="spacingAndGlyphs">systemu WMS</text>
<text id="seg6" x="654.90" y="317.4" font-size="27" font-weight="bold" fill="#0a3d82" textLength="267.20" lengthAdjust="spacingAndGlyphs">Utworzenie głównego</text>
<text id="seg7" x="928.50" y="317.4" font-size="28" fill="#073a80" stroke="#ffffff" stroke-width="0.35" textLength="470.20" lengthAdjust="spacingAndGlyphs">magazynu handlowego przy ul. Świt 37</text>
<text id="seg8" x="1050.90" y="349.3" font-size="28" fill="#073a80" stroke="#ffffff" stroke-width="0.35" textLength="177.00" lengthAdjust="spacingAndGlyphs">Wprowadzenie</text>
<text id="seg9" x="1235.50" y="349.3" font-size="27" font-weight="bold" fill="#0a3d82" textLength="161.20" lengthAdjust="spacingAndGlyphs">systemu ERP</text>
<text id="seg10" x="808.10" y="461.0" font-size="27" font-weight="bold" fill="#0a3d82" textLength="156.60" lengthAdjust="spacingAndGlyphs">Rozpoczęcie</text>
<text id="seg11" x="971.70" y="461.0" font-size="28" fill="#073a80" stroke="#ffffff" stroke-width="0.35" textLength="110.60" lengthAdjust="spacingAndGlyphs">produkcji</text>
<text id="seg12" x="785.10" y="492.6" font-size="28" fill="#073a80" stroke="#ffffff" stroke-width="0.35" textLength="296.20" lengthAdjust="spacingAndGlyphs">zasilaczy hydraulicznych</text>
<text id="seg13" x="520.90" y="681.0" font-size="27" font-weight="bold" fill="#0a3d82" textLength="156.20" lengthAdjust="spacingAndGlyphs">Rozpoczęcie</text>
<text id="seg14" x="683.90" y="681.0" font-size="28" fill="#073a80" stroke="#ffffff" stroke-width="0.35" textLength="111.60" lengthAdjust="spacingAndGlyphs">produkcji</text>
<text id="seg15" x="468.30" y="713.2" font-size="28" fill="#073a80" stroke="#ffffff" stroke-width="0.35" textLength="326.20" lengthAdjust="spacingAndGlyphs">przewodów hydraulicznych</text>
<text id="seg16" x="1794.30" y="658.0" font-size="27" font-weight="bold" fill="#0a3d82" textLength="142.20" lengthAdjust="spacingAndGlyphs">Rozbudowa</text>
<text id="seg17" x="1944.50" y="658.0" font-size="28" fill="#073a80" stroke="#ffffff" stroke-width="0.35" textLength="127.80" lengthAdjust="spacingAndGlyphs">magazynu</text>
<text id="seg18" x="1794.30" y="690.6" font-size="28" fill="#073a80" stroke="#ffffff" stroke-width="0.35" textLength="351.20" lengthAdjust="spacingAndGlyphs">handlowego i magazynu stali</text>
<text id="seg19" x="1441.30" y="862.7" font-size="27" font-weight="bold" fill="#0a3d82" textLength="227.60" lengthAdjust="spacingAndGlyphs">Intensywny rozwój</text>
<text id="seg20" x="1676.70" y="862.7" font-size="28" fill="#073a80" stroke="#ffffff" stroke-width="0.35" textLength="273.40" lengthAdjust="spacingAndGlyphs">działalności handlowej</text>
<text id="seg21" x="1441.30" y="906.4" font-size="27" font-weight="bold" fill="#0a3d82" textLength="376.80" lengthAdjust="spacingAndGlyphs">Budowa Oddziału Handlowego</text>
<text id="seg22" x="1824.70" y="906.4" font-size="28" fill="#073a80" stroke="#ffffff" stroke-width="0.35" textLength="257.40" lengthAdjust="spacingAndGlyphs">przy ul. Strażackiej 41</text>
<text id="seg23" x="1171.90" y="1085.4" font-size="27" font-weight="bold" fill="#0a3d82" textLength="156.80" lengthAdjust="spacingAndGlyphs">Rozpoczęcie</text>
<text id="seg24" x="1333.90" y="1085.4" font-size="28" fill="#073a80" stroke="#ffffff" stroke-width="0.35" textLength="112.20" lengthAdjust="spacingAndGlyphs">produkcji</text>
<text id="seg25" x="1172.70" y="1117.6" font-size="28" fill="#073a80" stroke="#ffffff" stroke-width="0.35" textLength="301.60" lengthAdjust="spacingAndGlyphs">cylindrów hydraulicznych</text>
<text id="seg26" x="149.10" y="1191.2" font-size="27" font-weight="bold" fill="#0a3d82" textLength="192.80" lengthAdjust="spacingAndGlyphs">Założenie firmy</text>
<text id="seg27" x="146.70" y="1229.6" font-size="27" font-weight="bold" fill="#0a3d82" textLength="107.40" lengthAdjust="spacingAndGlyphs">Naprawa</text>
<text id="seg28" x="261.90" y="1229.6" font-size="28" fill="#073a80" stroke="#ffffff" stroke-width="0.35" textLength="277.00" lengthAdjust="spacingAndGlyphs">koparek i podnośników</text>
<text id="seg29" x="146.70" y="1263.0" font-size="28" fill="#073a80" stroke="#ffffff" stroke-width="0.35" textLength="135.20" lengthAdjust="spacingAndGlyphs">koszowych</text>
<text id="seg30" x="146.70" y="1299.8" font-size="27" font-weight="bold" fill="#0a3d82" textLength="288.00" lengthAdjust="spacingAndGlyphs">Rozpoczęcie sprzedaży</text>
<text id="seg31" x="443.70" y="1299.8" font-size="28" fill="#073a80" stroke="#ffffff" stroke-width="0.35" textLength="133.00" lengthAdjust="spacingAndGlyphs">elementów</text>
<text id="seg32" x="146.70" y="1332.5" font-size="28" fill="#073a80" stroke="#ffffff" stroke-width="0.35" textLength="204.80" lengthAdjust="spacingAndGlyphs">hydrauliki siłowej</text>
<text id="yr0" x="309.30" y="861.7" font-size="32" fill="#032d6a" stroke="#ffffff" stroke-width="0.4" textLength="71.80" lengthAdjust="spacingAndGlyphs">1988</text>
<text id="yr1" x="788.00" y="846.2" font-size="32" fill="#032d6a" stroke="#ffffff" stroke-width="0.4" textLength="71.80" lengthAdjust="spacingAndGlyphs">1995</text>
<text id="yr2" x="1061.80" y="813.8" font-size="32" fill="#032d6a" stroke="#ffffff" stroke-width="0.4" textLength="72.00" lengthAdjust="spacingAndGlyphs">1998</text>
<text id="yr3" x="1135.60" y="649.5" font-size="32" fill="#032d6a" stroke="#ffffff" stroke-width="0.4" textLength="73.60" lengthAdjust="spacingAndGlyphs">2005</text>
<text id="yr4" x="1392.20" y="606.3" font-size="32" fill="#032d6a" stroke="#ffffff" stroke-width="0.4" textLength="72.80" lengthAdjust="spacingAndGlyphs">2007</text>
<text id="yr5" x="1481.80" y="447.3" font-size="32" fill="#032d6a" stroke="#ffffff" stroke-width="0.4" textLength="70.00" lengthAdjust="spacingAndGlyphs">2011</text>
<text id="yr6" x="1750.60" y="400.6" font-size="32" fill="#032d6a" stroke="#ffffff" stroke-width="0.4" textLength="72.40" lengthAdjust="spacingAndGlyphs">2016</text>
<text id="yr7" x="1848.10" y="239.4" font-size="32" fill="#032d6a" stroke="#ffffff" stroke-width="0.4" textLength="70.80" lengthAdjust="spacingAndGlyphs">2023</text>
<text id="yr8" x="2228.10" y="409.8" font-size="32" fill="#032d6a" stroke="#ffffff" stroke-width="0.4" textLength="71.60" lengthAdjust="spacingAndGlyphs">2025</text>
</svg></body></html>
